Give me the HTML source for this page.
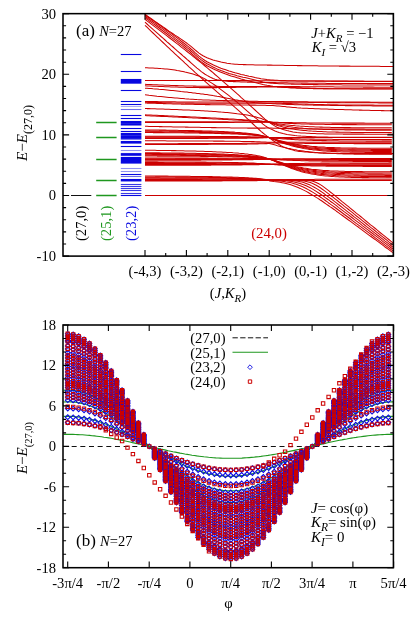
<!DOCTYPE html>
<html><head><meta charset="utf-8"><title>figure</title>
<style>html,body{margin:0;padding:0;background:#fff;}body{width:415px;height:625px;position:relative;overflow:hidden;font-family:"Liberation Serif",serif;}</style></head>
<body>
<svg width="415" height="625" viewBox="0 0 415 625" style="position:absolute;left:0;top:0;display:block;will-change:transform" font-family='"Liberation Serif", serif'>
<rect x="0" y="0" width="415" height="625" fill="#fff"/>
<defs><clipPath id="ct"><rect x="63.0" y="13.65" width="330.4" height="242.45000000000002"/></clipPath><clipPath id="cb"><rect x="63" y="324" width="331" height="244"/></clipPath></defs>
<g clip-path="url(#ct)" stroke-linejoin="round">
<path d="M145 14.3 L147 15.7 L149 17.1 L151 18.5 L153 19.9 L155 21.4 L157 22.7 L159 24.1 L161 25.5 L163 26.9 L165 28.3 L167 29.7 L169 31.1 L171 32.4 L173 33.7 L175 35.1 L177 36.4 L179 37.8 L181 39.1 L183 40.5 L185 41.9 L187 43.3 L189 44.8 L191 46.4 L193 48.1 L195 49.8 L197 51.5 L199 53.1 L201 54.5 L203 55.8 L205 56.8 L207 57.7 L209 58.5 L211 59.2 L213 59.9 L215 60.5 L217 61 L219 61.5 L221 62 L223 62.4 L225 62.8 L227 63.2 L229 63.5 L231 63.8 L233 64 L235 64.2 L237 64.3 L239 64.4 L241 64.5 L243 64.6 L245 64.6 L247 64.7 L249 64.7 L251 64.8 L253 64.8 L255 64.9 L257 64.9 L259 64.9 L261 65 L263 65 L265 65 L267 65.1 L269 65.1 L271 65.1 L273 65.2 L275 65.2 L277 65.2 L279 65.3 L281 65.3 L283 65.3 L285 65.4 L287 65.4 L289 65.4 L291 65.5 L293 65.5 L295 65.5 L297 65.6 L299 65.6 L301 65.6 L303 65.7 L305 65.7 L307 65.7 L309 65.7 L311 65.8 L313 65.8 L315 65.8 L317 65.8 L319 65.9 L321 65.9 L323 65.9 L325 65.9 L327 65.9 L329 66 L331 66 L333 66 L335 66 L337 66 L339 66.1 L341 66.1 L343 66.1 L345 66.1 L347 66.1 L349 66.1 L351 66.2 L353 66.2 L355 66.2 L357 66.2 L359 66.2 L361 66.2 L363 66.2 L365 66.3 L367 66.3 L369 66.3 L371 66.3 L373 66.3 L375 66.3 L377 66.3 L379 66.3 L381 66.4 L383 66.4 L385 66.4 L387 66.4 L389 66.4 L391 66.4 L393 66.4" fill="none" stroke="#cc0000" stroke-width="1.05" />
<path d="M145 15.2 L147 16.5 L149 17.8 L151 19.2 L153 20.5 L155 21.9 L157 23.3 L159 24.7 L161 26.1 L163 27.6 L165 29 L167 30.5 L169 31.9 L171 33.4 L173 34.9 L175 36.4 L177 37.9 L179 39.4 L181 41 L183 42.5 L185 44 L187 45.6 L189 47.2 L191 49 L193 50.7 L195 52.6 L197 54.4 L199 56.1 L201 57.7 L203 59.2 L205 60.5 L207 61.7 L209 62.8 L211 63.8 L213 64.8 L215 65.7 L217 66.6 L219 67.4 L221 68.2 L223 68.9 L225 69.6 L227 70.3 L229 71 L231 71.6 L233 72.2 L235 72.8 L237 73.3 L239 73.8 L241 74.4 L243 74.8 L245 75.3 L247 75.7 L249 76.2 L251 76.6 L253 77 L255 77.5 L257 77.9 L259 78.3 L261 78.7 L263 79 L265 79.3 L267 79.6 L269 79.8 L271 80 L273 80.1 L275 80.2 L277 80.3 L279 80.4 L281 80.5 L283 80.5 L285 80.6 L287 80.7 L289 80.7 L291 80.8 L293 80.8 L295 80.8 L297 80.9 L299 80.9 L301 80.9 L303 80.9 L305 81 L307 81 L309 81 L311 81 L313 81 L315 81.1 L317 81.1 L319 81.1 L321 81.1 L323 81.1 L325 81.2 L327 81.2 L329 81.2 L331 81.2 L333 81.2 L335 81.3 L337 81.3 L339 81.3 L341 81.3 L343 81.3 L345 81.3 L347 81.3 L349 81.4 L351 81.4 L353 81.4 L355 81.4 L357 81.4 L359 81.4 L361 81.4 L363 81.4 L365 81.4 L367 81.4 L369 81.5 L371 81.5 L373 81.5 L375 81.5 L377 81.5 L379 81.5 L381 81.5 L383 81.5 L385 81.5 L387 81.5 L389 81.5 L391 81.5 L393 81.5" fill="none" stroke="#cc0000" stroke-width="1.05" />
<path d="M145 16.4 L147 17.8 L149 19.2 L151 20.6 L153 22 L155 23.4 L157 24.8 L159 26.3 L161 27.7 L163 29.2 L165 30.7 L167 32.2 L169 33.7 L171 35.2 L173 36.7 L175 38.3 L177 39.8 L179 41.3 L181 42.9 L183 44.5 L185 46 L187 47.6 L189 49.2 L191 51 L193 52.7 L195 54.6 L197 56.3 L199 58.1 L201 59.7 L203 61.2 L205 62.5 L207 63.7 L209 64.8 L211 65.9 L213 67 L215 67.9 L217 68.9 L219 69.8 L221 70.6 L223 71.3 L225 72.1 L227 72.7 L229 73.4 L231 74 L233 74.6 L235 75.1 L237 75.7 L239 76.2 L241 76.7 L243 77.2 L245 77.6 L247 78.1 L249 78.6 L251 79.1 L253 79.6 L255 80.1 L257 80.6 L259 81.1 L261 81.5 L263 82 L265 82.4 L267 82.7 L269 83 L271 83.2 L273 83.3 L275 83.5 L277 83.6 L279 83.7 L281 83.7 L283 83.8 L285 83.9 L287 84 L289 84 L291 84.1 L293 84.1 L295 84.2 L297 84.2 L299 84.3 L301 84.3 L303 84.4 L305 84.4 L307 84.4 L309 84.5 L311 84.5 L313 84.6 L315 84.6 L317 84.6 L319 84.7 L321 84.7 L323 84.7 L325 84.7 L327 84.8 L329 84.8 L331 84.8 L333 84.8 L335 84.8 L337 84.8 L339 84.8 L341 84.8 L343 84.9 L345 84.9 L347 84.9 L349 84.9 L351 84.9 L353 84.9 L355 84.9 L357 84.9 L359 84.9 L361 84.9 L363 84.9 L365 85 L367 85 L369 85 L371 85 L373 85 L375 85 L377 85 L379 85 L381 85 L383 85 L385 85 L387 85 L389 85 L391 85 L393 85" fill="none" stroke="#cc0000" stroke-width="1.05" />
<path d="M145 17.8 L147 19.2 L149 20.7 L151 22.1 L153 23.6 L155 25 L157 26.5 L159 28 L161 29.5 L163 31 L165 32.5 L167 34 L169 35.5 L171 37.1 L173 38.6 L175 40.2 L177 41.7 L179 43.3 L181 44.9 L183 46.4 L185 48 L187 49.6 L189 51.2 L191 53 L193 54.8 L195 56.6 L197 58.4 L199 60.1 L201 61.7 L203 63.2 L205 64.5 L207 65.7 L209 66.8 L211 67.8 L213 68.8 L215 69.7 L217 70.6 L219 71.4 L221 72.2 L223 73 L225 73.8 L227 74.5 L229 75.2 L231 75.9 L233 76.5 L235 77.1 L237 77.7 L239 78.3 L241 78.9 L243 79.4 L245 80 L247 80.5 L249 81 L251 81.5 L253 82 L255 82.6 L257 83.1 L259 83.6 L261 84 L263 84.5 L265 84.9 L267 85.3 L269 85.6 L271 85.9 L273 86.2 L275 86.4 L277 86.6 L279 86.8 L281 87 L283 87.2 L285 87.4 L287 87.6 L289 87.7 L291 87.9 L293 88 L295 88.1 L297 88.2 L299 88.3 L301 88.3 L303 88.4 L305 88.4 L307 88.5 L309 88.5 L311 88.5 L313 88.6 L315 88.6 L317 88.7 L319 88.7 L321 88.7 L323 88.7 L325 88.7 L327 88.8 L329 88.8 L331 88.8 L333 88.8 L335 88.8 L337 88.8 L339 88.8 L341 88.8 L343 88.8 L345 88.8 L347 88.8 L349 88.8 L351 88.9 L353 88.9 L355 88.9 L357 88.9 L359 88.9 L361 88.9 L363 88.9 L365 88.9 L367 88.9 L369 88.9 L371 88.9 L373 88.9 L375 88.9 L377 88.9 L379 88.9 L381 88.9 L383 88.9 L385 88.9 L387 88.9 L389 88.9 L391 88.9 L393 88.9" fill="none" stroke="#cc0000" stroke-width="1.05" />
<path d="M145 19.3 L147 20.8 L149 22.3 L151 23.8 L153 25.3 L155 26.8 L157 28.3 L159 29.8 L161 31.3 L163 32.8 L165 34.4 L167 35.9 L169 37.5 L171 39 L173 40.5 L175 42.1 L177 43.7 L179 45.2 L181 46.8 L183 48.4 L185 49.9 L187 51.5 L189 53.1 L191 54.7 L193 56.3 L195 57.9 L197 59.5 L199 61.1 L201 62.7 L203 64.3 L205 66 L207 67.7 L209 69.3 L211 71 L213 72.7 L215 74.5 L217 76.2 L219 77.9 L221 79.6 L223 81.4 L225 83.1 L227 84.8 L229 86.6 L231 88.4 L233 90.1 L235 91.9 L237 93.7 L239 95.4 L241 97.3 L243 99.1 L245 100.9 L247 102.7 L249 104.6 L251 106.4 L253 108.2 L255 110 L257 111.8 L259 113.7 L261 115.5 L263 117.3 L265 119.1 L267 120.7 L269 122.1 L271 123.5 L273 124.9 L275 126.1 L277 127.2 L279 128.1 L281 128.8 L283 129.4 L285 130 L287 130.6 L289 131.1 L291 131.5 L293 131.9 L295 132.2 L297 132.5 L299 132.7 L301 132.9 L303 133 L305 133.1 L307 133.2 L309 133.3 L311 133.4 L313 133.5 L315 133.6 L317 133.7 L319 133.7 L321 133.8 L323 133.8 L325 133.9 L327 133.9 L329 134 L331 134 L333 134 L335 134 L337 134 L339 134 L341 134 L343 134.1 L345 134.1 L347 134.1 L349 134.1 L351 134.1 L353 134.1 L355 134.1 L357 134.1 L359 134.1 L361 134.1 L363 134.1 L365 134.2 L367 134.2 L369 134.2 L371 134.2 L373 134.2 L375 134.2 L377 134.2 L379 134.2 L381 134.2 L383 134.2 L385 134.2 L387 134.2 L389 134.2 L391 134.2 L393 134.2" fill="none" stroke="#cc0000" stroke-width="1.05" />
<path d="M145 22.2 L147 24 L149 25.8 L151 27.6 L153 29.4 L155 31.1 L157 32.9 L159 34.7 L161 36.5 L163 38.2 L165 40 L167 41.8 L169 43.5 L171 45.3 L173 47 L175 48.8 L177 50.6 L179 52.3 L181 54 L183 55.8 L185 57.5 L187 59.3 L189 61 L191 62.8 L193 64.6 L195 66.4 L197 68.1 L199 69.7 L201 71.3 L203 72.8 L205 74.2 L207 75.4 L209 76.5 L211 77.6 L213 78.5 L215 79.2 L217 79.7 L219 80.1 L221 80.5 L223 80.8 L225 81.1 L227 81.2 L229 81.4 L231 81.5 L233 81.6 L235 81.6 L237 81.7 L239 81.8 L241 81.9 L243 81.9 L245 82 L247 82.1 L249 82.1 L251 82.1 L253 82.2 L255 82.2 L257 82.3 L259 82.3 L261 82.4 L263 82.4 L265 82.4 L267 82.5 L269 82.5 L271 82.5 L273 82.6 L275 82.6 L277 82.7 L279 82.7 L281 82.7 L283 82.8 L285 82.8 L287 82.8 L289 82.9 L291 82.9 L293 82.9 L295 83 L297 83 L299 83 L301 83.1 L303 83.1 L305 83.1 L307 83.1 L309 83.2 L311 83.2 L313 83.2 L315 83.2 L317 83.3 L319 83.3 L321 83.3 L323 83.3 L325 83.3 L327 83.4 L329 83.4 L331 83.4 L333 83.4 L335 83.4 L337 83.4 L339 83.4 L341 83.4 L343 83.5 L345 83.5 L347 83.5 L349 83.5 L351 83.5 L353 83.5 L355 83.5 L357 83.5 L359 83.5 L361 83.5 L363 83.5 L365 83.5 L367 83.6 L369 83.6 L371 83.6 L373 83.6 L375 83.6 L377 83.6 L379 83.6 L381 83.6 L383 83.6 L385 83.6 L387 83.6 L389 83.6 L391 83.6 L393 83.6" fill="none" stroke="#cc0000" stroke-width="1.05" />
<path d="M145 67.8 L147 67.8 L149 67.9 L151 67.9 L153 68 L155 68.2 L157 68.3 L159 68.4 L161 68.6 L163 68.7 L165 68.9 L167 69.1 L169 69.3 L171 69.5 L173 69.8 L175 70.1 L177 70.5 L179 70.8 L181 71.2 L183 71.6 L185 72.1 L187 72.5 L189 73 L191 73.5 L193 74.1 L195 74.7 L197 75.4 L199 76.1 L201 76.9 L203 77.9 L205 79 L207 80.2 L209 81.4 L211 82.6 L213 83.9 L215 85.3 L217 86.7 L219 88.1 L221 89.6 L223 91.1 L225 92.6 L227 94.1 L229 95.7 L231 97.3 L233 98.9 L235 100.5 L237 102.2 L239 103.9 L241 105.7 L243 107.4 L245 109.1 L247 110.9 L249 112.6 L251 114.3 L253 116 L255 117.6 L257 119.2 L259 120.8 L261 122.4 L263 124.1 L265 125.6 L267 127 L269 128.1 L271 129.1 L273 130 L275 130.9 L277 131.7 L279 132.4 L281 133 L283 133.6 L285 134 L287 134.4 L289 134.7 L291 135 L293 135.3 L295 135.6 L297 135.8 L299 135.9 L301 136.1 L303 136.2 L305 136.3 L307 136.4 L309 136.5 L311 136.6 L313 136.7 L315 136.8 L317 136.9 L319 136.9 L321 137 L323 137 L325 137.1 L327 137.1 L329 137.2 L331 137.2 L333 137.2 L335 137.2 L337 137.2 L339 137.2 L341 137.2 L343 137.2 L345 137.2 L347 137.2 L349 137.2 L351 137.3 L353 137.3 L355 137.3 L357 137.3 L359 137.3 L361 137.3 L363 137.3 L365 137.3 L367 137.3 L369 137.3 L371 137.3 L373 137.3 L375 137.3 L377 137.3 L379 137.3 L381 137.3 L383 137.3 L385 137.3 L387 137.3 L389 137.3 L391 137.3 L393 137.3" fill="none" stroke="#cc0000" stroke-width="1.05" />
<path d="M145 25.3 L147 27.2 L149 29.2 L151 31.1 L153 33 L155 34.9 L157 36.8 L159 38.7 L161 40.6 L163 42.5 L165 44.4 L167 46.3 L169 48.2 L171 50.1 L173 51.9 L175 53.8 L177 55.7 L179 57.5 L181 59.4 L183 61.2 L185 63.1 L187 64.9 L189 66.8 L191 68.6 L193 70.4 L195 72.3 L197 74.1 L199 75.9 L201 77.7 L203 79.5 L205 81.3 L207 83.1 L209 84.9 L211 86.6 L213 88.4 L215 90.1 L217 91.9 L219 93.6 L221 95.3 L223 97 L225 98.7 L227 100.5 L229 102.2 L231 103.9 L233 105.6 L235 107.4 L237 109.1 L239 110.9 L241 112.7 L243 114.5 L245 116.4 L247 118.3 L249 120.2 L251 122.1 L253 124 L255 125.9 L257 127.7 L259 129.5 L261 131.3 L263 133 L265 134.6 L267 136.2 L269 137.6 L271 139.1 L273 140.5 L275 141.9 L277 143.3 L279 144.5 L281 145.7 L283 146.7 L285 147.5 L287 148.2 L289 148.9 L291 149.6 L293 150.1 L295 150.7 L297 151.1 L299 151.4 L301 151.6 L303 151.8 L305 152 L307 152.1 L309 152.3 L311 152.4 L313 152.6 L315 152.7 L317 152.8 L319 152.9 L321 153 L323 153.1 L325 153.1 L327 153.2 L329 153.2 L331 153.3 L333 153.3 L335 153.3 L337 153.3 L339 153.4 L341 153.4 L343 153.4 L345 153.4 L347 153.4 L349 153.4 L351 153.5 L353 153.5 L355 153.5 L357 153.5 L359 153.5 L361 153.5 L363 153.5 L365 153.5 L367 153.5 L369 153.6 L371 153.6 L373 153.6 L375 153.6 L377 153.6 L379 153.6 L381 153.6 L383 153.6 L385 153.6 L387 153.6 L389 153.6 L391 153.6 L393 153.6" fill="none" stroke="#cc0000" stroke-width="1.05" />
<path d="M145 80.4 L147 80.4 L149 80.4 L151 80.4 L153 80.4 L155 80.4 L157 80.4 L159 80.4 L161 80.4 L163 80.4 L165 80.4 L167 80.4 L169 80.4 L171 80.4 L173 80.4 L175 80.4 L177 80.4 L179 80.4 L181 80.4 L183 80.4 L185 80.4 L187 80.4 L189 80.4 L191 80.4 L193 80.4 L195 80.4 L197 80.4 L199 80.4 L201 80.4 L203 80.4 L205 80.4 L207 80.4 L209 80.4 L211 80.4 L213 80.4 L215 80.4 L217 80.4 L219 80.4 L221 80.4 L223 80.4 L225 80.5 L227 80.5 L229 80.5 L231 80.5 L233 80.5 L235 80.5 L237 80.6 L239 80.6 L241 80.6 L243 80.6 L245 80.6 L247 80.6 L249 80.7 L251 80.7 L253 80.7 L255 80.7 L257 80.7 L259 80.7 L261 80.8 L263 80.8 L265 80.8 L267 80.8 L269 80.8 L271 80.8 L273 80.8 L275 80.8 L277 80.8 L279 80.8 L281 80.9 L283 80.9 L285 80.9 L287 80.9 L289 80.9 L291 80.9 L293 80.9 L295 80.9 L297 80.9 L299 80.9 L301 80.9 L303 80.9 L305 81 L307 81 L309 81 L311 81 L313 81 L315 81 L317 81 L319 81 L321 81 L323 81 L325 81 L327 81 L329 81 L331 81.1 L333 81.1 L335 81.1 L337 81.1 L339 81.1 L341 81.1 L343 81.1 L345 81.1 L347 81.1 L349 81.1 L351 81.1 L353 81.1 L355 81.1 L357 81.1 L359 81.1 L361 81.1 L363 81.1 L365 81.2 L367 81.2 L369 81.2 L371 81.2 L373 81.2 L375 81.2 L377 81.2 L379 81.2 L381 81.2 L383 81.2 L385 81.2 L387 81.2 L389 81.2 L391 81.2 L393 81.2" fill="none" stroke="#cc0000" stroke-width="1.05" />
<path d="M145 84.3 L147 84.4 L149 84.5 L151 84.6 L153 84.7 L155 84.8 L157 84.8 L159 84.9 L161 85 L163 85.1 L165 85.2 L167 85.3 L169 85.3 L171 85.4 L173 85.5 L175 85.6 L177 85.6 L179 85.7 L181 85.8 L183 85.8 L185 85.9 L187 85.9 L189 86 L191 86 L193 86.1 L195 86.1 L197 86.2 L199 86.2 L201 86.2 L203 86.3 L205 86.3 L207 86.3 L209 86.3 L211 86.3 L213 86.3 L215 86.3 L217 86.3 L219 86.4 L221 86.4 L223 86.4 L225 86.4 L227 86.4 L229 86.4 L231 86.4 L233 86.4 L235 86.4 L237 86.4 L239 86.4 L241 86.4 L243 86.4 L245 86.4 L247 86.4 L249 86.4 L251 86.4 L253 86.4 L255 86.5 L257 86.5 L259 86.5 L261 86.5 L263 86.5 L265 86.5 L267 86.5 L269 86.5 L271 86.5 L273 86.5 L275 86.5 L277 86.5 L279 86.5 L281 86.6 L283 86.6 L285 86.6 L287 86.6 L289 86.6 L291 86.6 L293 86.6 L295 86.6 L297 86.6 L299 86.6 L301 86.7 L303 86.7 L305 86.7 L307 86.7 L309 86.7 L311 86.7 L313 86.7 L315 86.7 L317 86.7 L319 86.8 L321 86.8 L323 86.8 L325 86.8 L327 86.8 L329 86.8 L331 86.8 L333 86.8 L335 86.9 L337 86.9 L339 86.9 L341 86.9 L343 86.9 L345 86.9 L347 86.9 L349 87 L351 87 L353 87 L355 87 L357 87 L359 87 L361 87 L363 87.1 L365 87.1 L367 87.1 L369 87.1 L371 87.1 L373 87.1 L375 87.2 L377 87.2 L379 87.2 L381 87.2 L383 87.2 L385 87.2 L387 87.2 L389 87.3 L391 87.3 L393 87.3" fill="none" stroke="#cc0000" stroke-width="1.05" />
<path d="M145 85.8 L147 85.9 L149 86 L151 86.1 L153 86.2 L155 86.3 L157 86.3 L159 86.4 L161 86.5 L163 86.6 L165 86.7 L167 86.8 L169 86.8 L171 86.9 L173 87 L175 87 L177 87.1 L179 87.2 L181 87.2 L183 87.3 L185 87.3 L187 87.4 L189 87.4 L191 87.4 L193 87.5 L195 87.5 L197 87.5 L199 87.6 L201 87.6 L203 87.6 L205 87.6 L207 87.6 L209 87.6 L211 87.6 L213 87.6 L215 87.6 L217 87.6 L219 87.5 L221 87.5 L223 87.5 L225 87.5 L227 87.5 L229 87.4 L231 87.4 L233 87.4 L235 87.4 L237 87.3 L239 87.3 L241 87.3 L243 87.2 L245 87.2 L247 87.2 L249 87.1 L251 87.1 L253 87.1 L255 87.1 L257 87.1 L259 87 L261 87 L263 87 L265 87 L267 87 L269 87 L271 87 L273 87 L275 87 L277 87.1 L279 87.1 L281 87.2 L283 87.2 L285 87.3 L287 87.3 L289 87.4 L291 87.5 L293 87.5 L295 87.6 L297 87.7 L299 87.8 L301 87.8 L303 87.9 L305 88 L307 88.1 L309 88.1 L311 88.2 L313 88.3 L315 88.3 L317 88.4 L319 88.5 L321 88.5 L323 88.6 L325 88.6 L327 88.6 L329 88.7 L331 88.7 L333 88.7 L335 88.7 L337 88.7 L339 88.7 L341 88.7 L343 88.7 L345 88.7 L347 88.7 L349 88.7 L351 88.7 L353 88.8 L355 88.8 L357 88.8 L359 88.8 L361 88.8 L363 88.8 L365 88.8 L367 88.8 L369 88.8 L371 88.8 L373 88.8 L375 88.8 L377 88.8 L379 88.8 L381 88.8 L383 88.8 L385 88.8 L387 88.8 L389 88.8 L391 88.8 L393 88.8" fill="none" stroke="#cc0000" stroke-width="1.05" />
<path d="M145 88.2 L147 88.3 L149 88.5 L151 88.6 L153 88.8 L155 88.9 L157 89.1 L159 89.3 L161 89.4 L163 89.6 L165 89.8 L167 90 L169 90.2 L171 90.4 L173 90.6 L175 90.8 L177 91 L179 91.2 L181 91.5 L183 91.7 L185 91.9 L187 92.1 L189 92.4 L191 92.6 L193 92.9 L195 93.1 L197 93.4 L199 93.6 L201 93.9 L203 94.1 L205 94.4 L207 94.6 L209 94.9 L211 95.2 L213 95.6 L215 95.9 L217 96.3 L219 96.6 L221 97 L223 97.4 L225 97.8 L227 98.2 L229 98.6 L231 99 L233 99.4 L235 99.8 L237 100.1 L239 100.5 L241 100.8 L243 101.2 L245 101.5 L247 101.7 L249 102 L251 102.2 L253 102.4 L255 102.6 L257 102.7 L259 102.9 L261 103 L263 103.2 L265 103.3 L267 103.4 L269 103.5 L271 103.6 L273 103.7 L275 103.8 L277 103.9 L279 104 L281 104.1 L283 104.2 L285 104.3 L287 104.4 L289 104.4 L291 104.5 L293 104.6 L295 104.7 L297 104.7 L299 104.8 L301 104.8 L303 104.9 L305 104.9 L307 105 L309 105 L311 105 L313 105.1 L315 105.1 L317 105.2 L319 105.2 L321 105.2 L323 105.3 L325 105.3 L327 105.3 L329 105.3 L331 105.4 L333 105.4 L335 105.4 L337 105.5 L339 105.5 L341 105.5 L343 105.5 L345 105.6 L347 105.6 L349 105.6 L351 105.6 L353 105.7 L355 105.7 L357 105.7 L359 105.7 L361 105.7 L363 105.8 L365 105.8 L367 105.8 L369 105.8 L371 105.8 L373 105.9 L375 105.9 L377 105.9 L379 105.9 L381 105.9 L383 105.9 L385 106 L387 106 L389 106 L391 106 L393 106" fill="none" stroke="#cc0000" stroke-width="1.05" />
<path d="M145 94.8 L147 95 L149 95.3 L151 95.5 L153 95.7 L155 95.9 L157 96.2 L159 96.4 L161 96.6 L163 96.8 L165 97 L167 97.2 L169 97.4 L171 97.6 L173 97.8 L175 98 L177 98.1 L179 98.3 L181 98.5 L183 98.6 L185 98.8 L187 98.9 L189 99.1 L191 99.2 L193 99.3 L195 99.4 L197 99.6 L199 99.7 L201 99.8 L203 99.9 L205 100 L207 100 L209 100.1 L211 100.2 L213 100.3 L215 100.3 L217 100.4 L219 100.5 L221 100.5 L223 100.6 L225 100.6 L227 100.7 L229 100.7 L231 100.8 L233 100.8 L235 100.9 L237 100.9 L239 101 L241 101 L243 101.1 L245 101.1 L247 101.1 L249 101.2 L251 101.2 L253 101.3 L255 101.3 L257 101.3 L259 101.4 L261 101.4 L263 101.4 L265 101.5 L267 101.5 L269 101.5 L271 101.5 L273 101.5 L275 101.6 L277 101.6 L279 101.6 L281 101.6 L283 101.6 L285 101.7 L287 101.7 L289 101.7 L291 101.7 L293 101.7 L295 101.8 L297 101.8 L299 101.8 L301 101.8 L303 101.8 L305 101.8 L307 101.8 L309 101.9 L311 101.9 L313 101.9 L315 101.9 L317 101.9 L319 101.9 L321 101.9 L323 101.9 L325 102 L327 102 L329 102 L331 102 L333 102 L335 102 L337 102 L339 102 L341 102 L343 102 L345 102.1 L347 102.1 L349 102.1 L351 102.1 L353 102.1 L355 102.1 L357 102.1 L359 102.1 L361 102.1 L363 102.1 L365 102.1 L367 102.1 L369 102.1 L371 102.2 L373 102.2 L375 102.2 L377 102.2 L379 102.2 L381 102.2 L383 102.2 L385 102.2 L387 102.2 L389 102.2 L391 102.2 L393 102.2" fill="none" stroke="#cc0000" stroke-width="1.05" />
<path d="M145 101.5 L147 101.5 L149 101.5 L151 101.6 L153 101.6 L155 101.6 L157 101.6 L159 101.7 L161 101.7 L163 101.7 L165 101.7 L167 101.8 L169 101.8 L171 101.8 L173 101.8 L175 101.8 L177 101.9 L179 101.9 L181 101.9 L183 101.9 L185 101.9 L187 101.9 L189 101.9 L191 102 L193 102 L195 102 L197 102 L199 102 L201 102 L203 102 L205 102 L207 102 L209 102 L211 102 L213 102 L215 102 L217 102 L219 102 L221 102 L223 102 L225 102 L227 102 L229 102 L231 102 L233 102 L235 102 L237 102 L239 102 L241 102 L243 102 L245 102 L247 102 L249 102 L251 102 L253 102 L255 102 L257 102 L259 102 L261 102 L263 102 L265 102 L267 102 L269 102 L271 102 L273 102 L275 102 L277 102 L279 102 L281 102 L283 102.1 L285 102.1 L287 102.1 L289 102.1 L291 102.1 L293 102.2 L295 102.2 L297 102.2 L299 102.2 L301 102.2 L303 102.3 L305 102.3 L307 102.3 L309 102.4 L311 102.4 L313 102.4 L315 102.4 L317 102.4 L319 102.5 L321 102.5 L323 102.5 L325 102.5 L327 102.6 L329 102.6 L331 102.6 L333 102.6 L335 102.6 L337 102.6 L339 102.6 L341 102.7 L343 102.7 L345 102.7 L347 102.7 L349 102.7 L351 102.7 L353 102.7 L355 102.7 L357 102.7 L359 102.8 L361 102.8 L363 102.8 L365 102.8 L367 102.8 L369 102.8 L371 102.8 L373 102.8 L375 102.8 L377 102.8 L379 102.9 L381 102.9 L383 102.9 L385 102.9 L387 102.9 L389 102.9 L391 102.9 L393 102.9" fill="none" stroke="#cc0000" stroke-width="1.05" />
<path d="M145 102.3 L147 102.3 L149 102.4 L151 102.4 L153 102.5 L155 102.5 L157 102.6 L159 102.6 L161 102.6 L163 102.7 L165 102.7 L167 102.8 L169 102.8 L171 102.8 L173 102.9 L175 102.9 L177 102.9 L179 103 L181 103 L183 103 L185 103.1 L187 103.1 L189 103.1 L191 103.1 L193 103.1 L195 103.2 L197 103.2 L199 103.2 L201 103.2 L203 103.2 L205 103.2 L207 103.2 L209 103.2 L211 103.2 L213 103.2 L215 103.2 L217 103.2 L219 103.2 L221 103.2 L223 103.2 L225 103.2 L227 103.2 L229 103.2 L231 103.2 L233 103.2 L235 103.2 L237 103.2 L239 103.2 L241 103.2 L243 103.2 L245 103.2 L247 103.2 L249 103.2 L251 103.2 L253 103.2 L255 103.2 L257 103.2 L259 103.2 L261 103.2 L263 103.2 L265 103.2 L267 103.2 L269 103.2 L271 103.2 L273 103.2 L275 103.2 L277 103.3 L279 103.3 L281 103.3 L283 103.4 L285 103.4 L287 103.5 L289 103.5 L291 103.6 L293 103.7 L295 103.7 L297 103.8 L299 103.9 L301 103.9 L303 104 L305 104.1 L307 104.1 L309 104.2 L311 104.3 L313 104.3 L315 104.4 L317 104.5 L319 104.5 L321 104.6 L323 104.6 L325 104.7 L327 104.7 L329 104.7 L331 104.8 L333 104.8 L335 104.8 L337 104.8 L339 104.9 L341 104.9 L343 104.9 L345 104.9 L347 104.9 L349 105 L351 105 L353 105 L355 105 L357 105 L359 105 L361 105.1 L363 105.1 L365 105.1 L367 105.1 L369 105.1 L371 105.1 L373 105.1 L375 105.2 L377 105.2 L379 105.2 L381 105.2 L383 105.2 L385 105.2 L387 105.2 L389 105.2 L391 105.2 L393 105.2" fill="none" stroke="#cc0000" stroke-width="1.05" />
<path d="M145 103 L147 103.1 L149 103.1 L151 103.2 L153 103.3 L155 103.3 L157 103.4 L159 103.4 L161 103.5 L163 103.6 L165 103.6 L167 103.7 L169 103.7 L171 103.8 L173 103.9 L175 103.9 L177 104 L179 104 L181 104.1 L183 104.1 L185 104.2 L187 104.2 L189 104.3 L191 104.3 L193 104.3 L195 104.4 L197 104.4 L199 104.5 L201 104.5 L203 104.5 L205 104.6 L207 104.6 L209 104.6 L211 104.7 L213 104.7 L215 104.7 L217 104.8 L219 104.8 L221 104.8 L223 104.8 L225 104.8 L227 104.9 L229 104.9 L231 104.9 L233 104.9 L235 104.9 L237 104.9 L239 105 L241 105 L243 105 L245 105 L247 105 L249 105.1 L251 105.1 L253 105.1 L255 105.1 L257 105.2 L259 105.2 L261 105.2 L263 105.3 L265 105.3 L267 105.4 L269 105.4 L271 105.5 L273 105.6 L275 105.7 L277 105.9 L279 106 L281 106.2 L283 106.4 L285 106.6 L287 106.9 L289 107.1 L291 107.3 L293 107.5 L295 107.6 L297 107.8 L299 107.9 L301 108.1 L303 108.2 L305 108.3 L307 108.3 L309 108.4 L311 108.5 L313 108.6 L315 108.7 L317 108.8 L319 108.8 L321 108.9 L323 109 L325 109 L327 109.1 L329 109.2 L331 109.2 L333 109.3 L335 109.4 L337 109.4 L339 109.5 L341 109.5 L343 109.6 L345 109.7 L347 109.7 L349 109.8 L351 109.8 L353 109.9 L355 110 L357 110 L359 110.1 L361 110.1 L363 110.2 L365 110.2 L367 110.3 L369 110.3 L371 110.4 L373 110.4 L375 110.5 L377 110.5 L379 110.5 L381 110.6 L383 110.6 L385 110.7 L387 110.7 L389 110.7 L391 110.8 L393 110.8" fill="none" stroke="#cc0000" stroke-width="1.05" />
<path d="M145 108.5 L147 108.6 L149 108.6 L151 108.7 L153 108.7 L155 108.8 L157 108.9 L159 108.9 L161.1 109 L163.1 109.1 L165.1 109.2 L167.1 109.2 L169.1 109.3 L171.1 109.4 L173.1 109.4 L175.1 109.5 L177.1 109.6 L179.1 109.7 L181.1 109.8 L183.1 109.9 L185.1 109.9 L187.1 110 L189.1 110.1 L191.1 110.2 L193.2 110.3 L195.2 110.4 L197.2 110.5 L199.2 110.6 L201.2 110.7 L203.2 110.8 L205.2 111 L207.2 111.1 L209.2 111.2 L211.2 111.3 L213.2 111.5 L215.2 111.6 L217.2 111.7 L219.2 111.9 L221.2 112.1 L223.3 112.2 L225.3 112.4 L227.3 112.6 L229.3 112.8 L231.3 113 L233.3 113.2 L235.3 113.4 L237.3 113.7 L239.3 113.9 L241.3 114.2 L243.3 114.5 L245.3 114.8 L247.3 115.1 L249.3 115.5 L251.3 115.9 L253.4 116.4 L255.4 116.8 L257.4 117.4 L259.4 118 L261.4 118.6 L263.4 119.4 L265.4 120.2 L267.4 121.2 L269.4 122.3 L271.4 123.2 L273.4 124 L275.4 124.8 L277.4 125.4 L279.4 126.1 L281.4 126.6 L283.4 127.2 L285.5 127.6 L287.5 128.1 L289.5 128.5 L291.5 128.8 L293.5 129.1 L295.5 129.4 L297.5 129.7 L299.5 130 L301.5 130.2 L303.5 130.4 L305.5 130.6 L307.5 130.8 L309.5 130.9 L311.5 131.1 L313.5 131.2 L315.6 131.3 L317.6 131.4 L319.6 131.5 L321.6 131.6 L323.6 131.7 L325.6 131.8 L327.6 131.9 L329.6 131.9 L331.6 132 L333.6 132 L335.6 132.1 L337.6 132.1 L339.6 132.2 L341.6 132.2 L343.6 132.2 L345.7 132.3 L347.7 132.3 L349.7 132.3 L351.7 132.4 L353.7 132.4 L355.7 132.4 L357.7 132.4 L359.7 132.4 L361.7 132.4 L363.7 132.5 L365.7 132.5 L367.7 132.5 L369.7 132.5 L371.7 132.5 L373.7 132.5 L375.7 132.5 L377.8 132.5 L379.8 132.5 L381.8 132.5 L383.8 132.5 L385.8 132.5 L387.8 132.6 L389.8 132.6 L391.8 132.6" fill="none" stroke="#cc0000" stroke-width="1.05" />
<path d="M145 114.8 L147 114.9 L149 115 L151 115.1 L153 115.2 L155 115.3 L157 115.3 L159 115.4 L161.1 115.5 L163.1 115.6 L165.1 115.7 L167.1 115.8 L169.1 115.9 L171.1 116 L173.1 116.1 L175.1 116.2 L177.1 116.3 L179.1 116.4 L181.1 116.5 L183.1 116.6 L185.1 116.6 L187.1 116.7 L189.1 116.8 L191.1 116.9 L193.2 117 L195.2 117.1 L197.2 117.2 L199.2 117.3 L201.2 117.4 L203.2 117.5 L205.2 117.6 L207.2 117.7 L209.2 117.8 L211.2 117.9 L213.2 118 L215.2 118.1 L217.2 118.2 L219.2 118.3 L221.2 118.4 L223.3 118.6 L225.3 118.7 L227.3 118.8 L229.3 118.9 L231.3 119 L233.3 119.1 L235.3 119.2 L237.3 119.4 L239.3 119.5 L241.3 119.6 L243.3 119.7 L245.3 119.9 L247.3 120 L249.3 120.1 L251.3 120.3 L253.4 120.4 L255.4 120.6 L257.4 120.8 L259.4 121 L261.4 121.1 L263.4 121.4 L265.4 121.6 L267.4 121.8 L269.4 122.1 L271.4 122.8 L273.4 123.4 L275.4 124 L277.4 124.5 L279.4 124.9 L281.4 125.4 L283.4 125.7 L285.5 126.1 L287.5 126.4 L289.5 126.7 L291.5 127 L293.5 127.3 L295.5 127.5 L297.5 127.7 L299.5 127.9 L301.5 128.1 L303.5 128.3 L305.5 128.4 L307.5 128.6 L309.5 128.7 L311.5 128.8 L313.5 128.9 L315.6 129 L317.6 129.1 L319.6 129.2 L321.6 129.3 L323.6 129.4 L325.6 129.4 L327.6 129.5 L329.6 129.5 L331.6 129.6 L333.6 129.6 L335.6 129.7 L337.6 129.7 L339.6 129.8 L341.6 129.8 L343.6 129.8 L345.7 129.9 L347.7 129.9 L349.7 129.9 L351.7 129.9 L353.7 130 L355.7 130 L357.7 130 L359.7 130 L361.7 130 L363.7 130 L365.7 130.1 L367.7 130.1 L369.7 130.1 L371.7 130.1 L373.7 130.1 L375.7 130.1 L377.8 130.1 L379.8 130.1 L381.8 130.1 L383.8 130.1 L385.8 130.1 L387.8 130.1 L389.8 130.1 L391.8 130.2" fill="none" stroke="#cc0000" stroke-width="1.05" />
<path d="M145 115.6 L147 115.7 L149 115.8 L151 115.9 L153 116 L155 116.1 L157 116.2 L159 116.3 L161.1 116.4 L163.1 116.5 L165.1 116.5 L167.1 116.6 L169.1 116.7 L171.1 116.8 L173.1 116.9 L175.1 117 L177.1 117.1 L179.1 117.2 L181.1 117.3 L183.1 117.4 L185.1 117.5 L187.1 117.6 L189.1 117.7 L191.1 117.8 L193.2 117.9 L195.2 118 L197.2 118.1 L199.2 118.2 L201.2 118.3 L203.2 118.4 L205.2 118.5 L207.2 118.6 L209.2 118.7 L211.2 118.8 L213.2 118.9 L215.2 119 L217.2 119.1 L219.2 119.2 L221.2 119.3 L223.3 119.4 L225.3 119.5 L227.3 119.6 L229.3 119.7 L231.3 119.8 L233.3 119.9 L235.3 120 L237.3 120.1 L239.3 120.2 L241.3 120.3 L243.3 120.4 L245.3 120.5 L247.3 120.6 L249.3 120.7 L251.3 120.8 L253.4 121 L255.4 121.1 L257.4 121.2 L259.4 121.3 L261.4 121.5 L263.4 121.6 L265.4 121.7 L267.4 121.9 L269.4 122.1 L271.4 122.6 L273.4 123 L275.4 123.3 L277.4 123.7 L279.4 124 L281.4 124.3 L283.4 124.5 L285.5 124.8 L287.5 125 L289.5 125.2 L291.5 125.4 L293.5 125.6 L295.5 125.8 L297.5 125.9 L299.5 126.1 L301.5 126.2 L303.5 126.3 L305.5 126.5 L307.5 126.6 L309.5 126.7 L311.5 126.8 L313.5 126.8 L315.6 126.9 L317.6 127 L319.6 127.1 L321.6 127.1 L323.6 127.2 L325.6 127.2 L327.6 127.3 L329.6 127.3 L331.6 127.4 L333.6 127.4 L335.6 127.4 L337.6 127.5 L339.6 127.5 L341.6 127.5 L343.6 127.6 L345.7 127.6 L347.7 127.6 L349.7 127.6 L351.7 127.7 L353.7 127.7 L355.7 127.7 L357.7 127.7 L359.7 127.7 L361.7 127.7 L363.7 127.7 L365.7 127.8 L367.7 127.8 L369.7 127.8 L371.7 127.8 L373.7 127.8 L375.7 127.8 L377.8 127.8 L379.8 127.8 L381.8 127.8 L383.8 127.8 L385.8 127.8 L387.8 127.8 L389.8 127.8 L391.8 127.8" fill="none" stroke="#cc0000" stroke-width="1.05" />
<path d="M145 122.5 L147 122.5 L149 122.5 L151 122.5 L153 122.5 L155 122.5 L157 122.5 L159 122.5 L161.1 122.5 L163.1 122.5 L165.1 122.5 L167.1 122.5 L169.1 122.5 L171.1 122.5 L173.1 122.5 L175.1 122.5 L177.1 122.5 L179.1 122.5 L181.1 122.5 L183.1 122.5 L185.1 122.5 L187.1 122.5 L189.1 122.5 L191.1 122.5 L193.2 122.5 L195.2 122.4 L197.2 122.4 L199.2 122.4 L201.2 122.4 L203.2 122.4 L205.2 122.4 L207.2 122.4 L209.2 122.4 L211.2 122.4 L213.2 122.4 L215.2 122.4 L217.2 122.4 L219.2 122.4 L221.2 122.4 L223.3 122.4 L225.3 122.4 L227.3 122.4 L229.3 122.4 L231.3 122.4 L233.3 122.4 L235.3 122.3 L237.3 122.3 L239.3 122.3 L241.3 122.3 L243.3 122.3 L245.3 122.3 L247.3 122.3 L249.3 122.3 L251.3 122.2 L253.4 122.2 L255.4 122.2 L257.4 122.2 L259.4 122.2 L261.4 122.1 L263.4 122.1 L265.4 122.1 L267.4 122 L269.4 122 L271.4 122.2 L273.4 122.4 L275.4 122.6 L277.4 122.7 L279.4 122.8 L281.4 123 L283.4 123.1 L285.5 123.2 L287.5 123.3 L289.5 123.4 L291.5 123.5 L293.5 123.6 L295.5 123.6 L297.5 123.7 L299.5 123.8 L301.5 123.9 L303.5 123.9 L305.5 124 L307.5 124 L309.5 124.1 L311.5 124.1 L313.5 124.2 L315.6 124.2 L317.6 124.2 L319.6 124.3 L321.6 124.3 L323.6 124.3 L325.6 124.4 L327.6 124.4 L329.6 124.4 L331.6 124.5 L333.6 124.5 L335.6 124.5 L337.6 124.5 L339.6 124.5 L341.6 124.6 L343.6 124.6 L345.7 124.6 L347.7 124.6 L349.7 124.6 L351.7 124.6 L353.7 124.6 L355.7 124.6 L357.7 124.7 L359.7 124.7 L361.7 124.7 L363.7 124.7 L365.7 124.7 L367.7 124.7 L369.7 124.7 L371.7 124.7 L373.7 124.7 L375.7 124.7 L377.8 124.7 L379.8 124.7 L381.8 124.7 L383.8 124.7 L385.8 124.7 L387.8 124.7 L389.8 124.8 L391.8 124.8" fill="none" stroke="#cc0000" stroke-width="1.05" />
<path d="M145 121.8 L147 121.8 L149 121.8 L151 121.8 L153 121.8 L155 121.8 L157 121.8 L159 121.8 L161.1 121.8 L163.1 121.8 L165.1 121.8 L167.1 121.8 L169.1 121.8 L171.1 121.8 L173.1 121.8 L175.1 121.8 L177.1 121.8 L179.1 121.8 L181.1 121.8 L183.1 121.8 L185.1 121.8 L187.1 121.8 L189.1 121.8 L191.1 121.8 L193.2 121.8 L195.2 121.8 L197.2 121.8 L199.2 121.8 L201.2 121.8 L203.2 121.8 L205.2 121.8 L207.2 121.8 L209.2 121.8 L211.2 121.8 L213.2 121.8 L215.2 121.8 L217.2 121.8 L219.2 121.8 L221.2 121.8 L223.3 121.8 L225.3 121.8 L227.3 121.8 L229.3 121.9 L231.3 121.9 L233.3 121.9 L235.3 121.9 L237.3 121.9 L239.3 121.9 L241.3 121.9 L243.3 121.9 L245.3 121.9 L247.3 121.9 L249.3 121.9 L251.3 121.9 L253.4 121.9 L255.4 121.9 L257.4 121.9 L259.4 121.9 L261.4 121.9 L263.4 122 L265.4 122 L267.4 122 L269.4 122 L271.4 122.1 L273.4 122.2 L275.4 122.2 L277.4 122.3 L279.4 122.4 L281.4 122.4 L283.4 122.5 L285.5 122.5 L287.5 122.6 L289.5 122.6 L291.5 122.6 L293.5 122.7 L295.5 122.7 L297.5 122.7 L299.5 122.8 L301.5 122.8 L303.5 122.8 L305.5 122.8 L307.5 122.9 L309.5 122.9 L311.5 122.9 L313.5 122.9 L315.6 122.9 L317.6 123 L319.6 123 L321.6 123 L323.6 123 L325.6 123 L327.6 123 L329.6 123 L331.6 123.1 L333.6 123.1 L335.6 123.1 L337.6 123.1 L339.6 123.1 L341.6 123.1 L343.6 123.1 L345.7 123.1 L347.7 123.1 L349.7 123.1 L351.7 123.1 L353.7 123.1 L355.7 123.1 L357.7 123.1 L359.7 123.1 L361.7 123.1 L363.7 123.1 L365.7 123.2 L367.7 123.2 L369.7 123.2 L371.7 123.2 L373.7 123.2 L375.7 123.2 L377.8 123.2 L379.8 123.2 L381.8 123.2 L383.8 123.2 L385.8 123.2 L387.8 123.2 L389.8 123.2 L391.8 123.2" fill="none" stroke="#cc0000" stroke-width="1.05" />
<path d="M145 126.3 L147 126.3 L149 126.4 L151 126.4 L153 126.5 L155 126.5 L157 126.5 L159 126.6 L161.1 126.6 L163.1 126.7 L165.1 126.7 L167.1 126.7 L169.1 126.8 L171.1 126.8 L173.1 126.9 L175.1 126.9 L177.1 126.9 L179.1 127 L181.1 127 L183.1 127 L185.1 127.1 L187.1 127.1 L189.1 127.2 L191.1 127.2 L193.2 127.2 L195.2 127.3 L197.2 127.3 L199.2 127.3 L201.2 127.4 L203.2 127.4 L205.2 127.5 L207.2 127.5 L209.2 127.5 L211.2 127.6 L213.2 127.6 L215.2 127.6 L217.2 127.7 L219.2 127.7 L221.2 127.7 L223.3 127.8 L225.3 127.8 L227.3 127.8 L229.3 127.8 L231.3 127.9 L233.3 127.9 L235.3 127.9 L237.3 128 L239.3 128 L241.3 128 L243.3 128 L245.3 128 L247.3 128.1 L249.3 128.1 L251.3 128.1 L253.4 128.1 L255.4 128.1 L257.4 128.1 L259.4 128.1 L261.4 128.1 L263.4 128.1 L265.4 128.1 L267.4 128 L269.4 128 L271.4 128.1 L273.4 128.2 L275.4 128.2 L277.4 128.3 L279.4 128.4 L281.4 128.4 L283.4 128.5 L285.5 128.5 L287.5 128.6 L289.5 128.6 L291.5 128.6 L293.5 128.7 L295.5 128.7 L297.5 128.7 L299.5 128.8 L301.5 128.8 L303.5 128.8 L305.5 128.8 L307.5 128.9 L309.5 128.9 L311.5 128.9 L313.5 128.9 L315.6 128.9 L317.6 129 L319.6 129 L321.6 129 L323.6 129 L325.6 129 L327.6 129 L329.6 129 L331.6 129.1 L333.6 129.1 L335.6 129.1 L337.6 129.1 L339.6 129.1 L341.6 129.1 L343.6 129.1 L345.7 129.1 L347.7 129.1 L349.7 129.1 L351.7 129.1 L353.7 129.1 L355.7 129.1 L357.7 129.1 L359.7 129.1 L361.7 129.1 L363.7 129.1 L365.7 129.2 L367.7 129.2 L369.7 129.2 L371.7 129.2 L373.7 129.2 L375.7 129.2 L377.8 129.2 L379.8 129.2 L381.8 129.2 L383.8 129.2 L385.8 129.2 L387.8 129.2 L389.8 129.2 L391.8 129.2" fill="none" stroke="#cc0000" stroke-width="1.05" />
<path d="M145 129.9 L147 129.9 L149 129.9 L151 130 L153 130 L155 130 L157 130 L159 130.1 L161.1 130.1 L163.1 130.1 L165.1 130.1 L167.1 130.2 L169.1 130.2 L171.1 130.2 L173.1 130.3 L175.1 130.3 L177.1 130.3 L179.1 130.4 L181.1 130.4 L183.1 130.4 L185.1 130.5 L187.1 130.5 L189.1 130.5 L191.1 130.6 L193.2 130.6 L195.2 130.7 L197.2 130.7 L199.2 130.8 L201.2 130.8 L203.2 130.9 L205.2 130.9 L207.2 131 L209.2 131.1 L211.2 131.1 L213.2 131.2 L215.2 131.3 L217.2 131.3 L219.2 131.4 L221.2 131.5 L223.3 131.6 L225.3 131.7 L227.3 131.8 L229.3 131.9 L231.3 132 L233.3 132.1 L235.3 132.3 L237.3 132.4 L239.3 132.5 L241.3 132.7 L243.3 132.9 L245.3 133.1 L247.3 133.3 L249.3 133.5 L251.3 133.7 L253.4 134 L255.4 134.3 L257.4 134.6 L259.4 135 L261.4 135.4 L263.4 135.9 L265.4 136.4 L267.4 137 L269.4 137.7 L271.4 138.5 L273.4 139.3 L275.4 140.1 L277.4 140.9 L279.4 141.7 L281.4 142.5 L283.4 143.2 L285.5 143.9 L287.5 144.5 L289.5 145.1 L291.5 145.7 L293.5 146.2 L295.5 146.7 L297.5 147.2 L299.5 147.6 L301.5 148 L303.5 148.4 L305.5 148.7 L307.5 149.1 L309.5 149.4 L311.5 149.6 L313.5 149.9 L315.6 150.1 L317.6 150.3 L319.6 150.5 L321.6 150.7 L323.6 150.9 L325.6 151 L327.6 151.2 L329.6 151.3 L331.6 151.4 L333.6 151.5 L335.6 151.6 L337.6 151.7 L339.6 151.8 L341.6 151.9 L343.6 151.9 L345.7 152 L347.7 152 L349.7 152.1 L351.7 152.1 L353.7 152.2 L355.7 152.2 L357.7 152.3 L359.7 152.3 L361.7 152.3 L363.7 152.3 L365.7 152.4 L367.7 152.4 L369.7 152.4 L371.7 152.4 L373.7 152.4 L375.7 152.5 L377.8 152.5 L379.8 152.5 L381.8 152.5 L383.8 152.5 L385.8 152.5 L387.8 152.5 L389.8 152.5 L391.8 152.5" fill="none" stroke="#cc0000" stroke-width="1.05" />
<path d="M145 130.8 L147 130.8 L149 130.8 L151 130.9 L153 130.9 L155 130.9 L157 130.9 L159 130.9 L161.1 131 L163.1 131 L165.1 131 L167.1 131 L169.1 131.1 L171.1 131.1 L173.1 131.1 L175.1 131.1 L177.1 131.2 L179.1 131.2 L181.1 131.2 L183.1 131.3 L185.1 131.3 L187.1 131.3 L189.1 131.4 L191.1 131.4 L193.2 131.4 L195.2 131.5 L197.2 131.5 L199.2 131.6 L201.2 131.6 L203.2 131.7 L205.2 131.7 L207.2 131.8 L209.2 131.8 L211.2 131.9 L213.2 131.9 L215.2 132 L217.2 132.1 L219.2 132.1 L221.2 132.2 L223.3 132.3 L225.3 132.4 L227.3 132.5 L229.3 132.6 L231.3 132.7 L233.3 132.8 L235.3 132.9 L237.3 133 L239.3 133.1 L241.3 133.3 L243.3 133.4 L245.3 133.6 L247.3 133.8 L249.3 134 L251.3 134.2 L253.4 134.4 L255.4 134.7 L257.4 135 L259.4 135.3 L261.4 135.6 L263.4 136.1 L265.4 136.5 L267.4 137.1 L269.4 137.7 L271.4 138.4 L273.4 139.2 L275.4 139.9 L277.4 140.7 L279.4 141.4 L281.4 142.1 L283.4 142.8 L285.5 143.4 L287.5 144 L289.5 144.6 L291.5 145.1 L293.5 145.6 L295.5 146.1 L297.5 146.5 L299.5 146.9 L301.5 147.3 L303.5 147.6 L305.5 147.9 L307.5 148.2 L309.5 148.5 L311.5 148.7 L313.5 149 L315.6 149.2 L317.6 149.4 L319.6 149.6 L321.6 149.7 L323.6 149.9 L325.6 150 L327.6 150.2 L329.6 150.3 L331.6 150.4 L333.6 150.5 L335.6 150.6 L337.6 150.7 L339.6 150.7 L341.6 150.8 L343.6 150.9 L345.7 150.9 L347.7 151 L349.7 151 L351.7 151.1 L353.7 151.1 L355.7 151.1 L357.7 151.2 L359.7 151.2 L361.7 151.2 L363.7 151.3 L365.7 151.3 L367.7 151.3 L369.7 151.3 L371.7 151.3 L373.7 151.4 L375.7 151.4 L377.8 151.4 L379.8 151.4 L381.8 151.4 L383.8 151.4 L385.8 151.4 L387.8 151.4 L389.8 151.4 L391.8 151.4" fill="none" stroke="#cc0000" stroke-width="1.05" />
<path d="M145 131.7 L147 131.7 L149 131.7 L151 131.7 L153 131.8 L155 131.8 L157 131.8 L159 131.8 L161.1 131.8 L163.1 131.9 L165.1 131.9 L167.1 131.9 L169.1 131.9 L171.1 131.9 L173.1 132 L175.1 132 L177.1 132 L179.1 132 L181.1 132.1 L183.1 132.1 L185.1 132.1 L187.1 132.2 L189.1 132.2 L191.1 132.2 L193.2 132.3 L195.2 132.3 L197.2 132.3 L199.2 132.4 L201.2 132.4 L203.2 132.4 L205.2 132.5 L207.2 132.5 L209.2 132.6 L211.2 132.6 L213.2 132.7 L215.2 132.7 L217.2 132.8 L219.2 132.9 L221.2 132.9 L223.3 133 L225.3 133.1 L227.3 133.1 L229.3 133.2 L231.3 133.3 L233.3 133.4 L235.3 133.5 L237.3 133.6 L239.3 133.7 L241.3 133.8 L243.3 134 L245.3 134.1 L247.3 134.3 L249.3 134.4 L251.3 134.6 L253.4 134.8 L255.4 135.1 L257.4 135.3 L259.4 135.6 L261.4 135.9 L263.4 136.3 L265.4 136.7 L267.4 137.1 L269.4 137.7 L271.4 138.3 L273.4 139 L275.4 139.8 L277.4 140.5 L279.4 141.1 L281.4 141.8 L283.4 142.4 L285.5 143 L287.5 143.6 L289.5 144.1 L291.5 144.6 L293.5 145 L295.5 145.5 L297.5 145.9 L299.5 146.2 L301.5 146.6 L303.5 146.9 L305.5 147.2 L307.5 147.5 L309.5 147.7 L311.5 147.9 L313.5 148.2 L315.6 148.4 L317.6 148.5 L319.6 148.7 L321.6 148.9 L323.6 149 L325.6 149.1 L327.6 149.3 L329.6 149.4 L331.6 149.5 L333.6 149.6 L335.6 149.6 L337.6 149.7 L339.6 149.8 L341.6 149.9 L343.6 149.9 L345.7 150 L347.7 150 L349.7 150.1 L351.7 150.1 L353.7 150.1 L355.7 150.2 L357.7 150.2 L359.7 150.2 L361.7 150.3 L363.7 150.3 L365.7 150.3 L367.7 150.3 L369.7 150.3 L371.7 150.4 L373.7 150.4 L375.7 150.4 L377.8 150.4 L379.8 150.4 L381.8 150.4 L383.8 150.4 L385.8 150.4 L387.8 150.4 L389.8 150.4 L391.8 150.4" fill="none" stroke="#cc0000" stroke-width="1.05" />
<path d="M145 132.5 L147 132.5 L149 132.5 L151 132.5 L153 132.6 L155 132.6 L157 132.6 L159 132.6 L161.1 132.6 L163.1 132.6 L165.1 132.7 L167.1 132.7 L169.1 132.7 L171.1 132.7 L173.1 132.7 L175.1 132.8 L177.1 132.8 L179.1 132.8 L181.1 132.8 L183.1 132.8 L185.1 132.9 L187.1 132.9 L189.1 132.9 L191.1 133 L193.2 133 L195.2 133 L197.2 133 L199.2 133.1 L201.2 133.1 L203.2 133.1 L205.2 133.2 L207.2 133.2 L209.2 133.3 L211.2 133.3 L213.2 133.3 L215.2 133.4 L217.2 133.4 L219.2 133.5 L221.2 133.6 L223.3 133.6 L225.3 133.7 L227.3 133.7 L229.3 133.8 L231.3 133.9 L233.3 134 L235.3 134 L237.3 134.1 L239.3 134.2 L241.3 134.3 L243.3 134.5 L245.3 134.6 L247.3 134.7 L249.3 134.9 L251.3 135 L253.4 135.2 L255.4 135.4 L257.4 135.6 L259.4 135.8 L261.4 136.1 L263.4 136.4 L265.4 136.8 L267.4 137.2 L269.4 137.7 L271.4 138.3 L273.4 138.9 L275.4 139.6 L277.4 140.2 L279.4 140.9 L281.4 141.5 L283.4 142 L285.5 142.6 L287.5 143.1 L289.5 143.6 L291.5 144 L293.5 144.4 L295.5 144.8 L297.5 145.2 L299.5 145.6 L301.5 145.9 L303.5 146.2 L305.5 146.4 L307.5 146.7 L309.5 146.9 L311.5 147.1 L313.5 147.3 L315.6 147.5 L317.6 147.7 L319.6 147.8 L321.6 148 L323.6 148.1 L325.6 148.2 L327.6 148.4 L329.6 148.5 L331.6 148.5 L333.6 148.6 L335.6 148.7 L337.6 148.8 L339.6 148.8 L341.6 148.9 L343.6 149 L345.7 149 L347.7 149.1 L349.7 149.1 L351.7 149.1 L353.7 149.2 L355.7 149.2 L357.7 149.2 L359.7 149.3 L361.7 149.3 L363.7 149.3 L365.7 149.3 L367.7 149.3 L369.7 149.3 L371.7 149.4 L373.7 149.4 L375.7 149.4 L377.8 149.4 L379.8 149.4 L381.8 149.4 L383.8 149.4 L385.8 149.4 L387.8 149.4 L389.8 149.4 L391.8 149.5" fill="none" stroke="#cc0000" stroke-width="1.05" />
<path d="M145 137 L147 137 L149 137 L151 137 L153 137 L155 137 L157 137 L159 137 L161.1 137 L163.1 137 L165.1 137 L167.1 137 L169.1 137 L171.1 137 L173.1 137 L175.1 137 L177.1 137 L179.1 137 L181.1 137 L183.1 137 L185.1 137 L187.1 137 L189.1 137 L191.1 137 L193.2 137 L195.2 137.1 L197.2 137.1 L199.2 137.1 L201.2 137.1 L203.2 137.1 L205.2 137.1 L207.2 137.1 L209.2 137.1 L211.2 137.1 L213.2 137.1 L215.2 137.1 L217.2 137.1 L219.2 137.1 L221.2 137.1 L223.3 137.1 L225.3 137.1 L227.3 137.1 L229.3 137.1 L231.3 137.1 L233.3 137.1 L235.3 137.2 L237.3 137.2 L239.3 137.2 L241.3 137.2 L243.3 137.2 L245.3 137.2 L247.3 137.2 L249.3 137.2 L251.3 137.3 L253.4 137.3 L255.4 137.3 L257.4 137.3 L259.4 137.3 L261.4 137.4 L263.4 137.4 L265.4 137.4 L267.4 137.5 L269.4 137.6 L271.4 138.2 L273.4 138.8 L275.4 139.4 L277.4 140 L279.4 140.6 L281.4 141.1 L283.4 141.6 L285.5 142.1 L287.5 142.6 L289.5 143 L291.5 143.4 L293.5 143.8 L295.5 144.2 L297.5 144.5 L299.5 144.8 L301.5 145.1 L303.5 145.4 L305.5 145.6 L307.5 145.8 L309.5 146.1 L311.5 146.3 L313.5 146.4 L315.6 146.6 L317.6 146.8 L319.6 146.9 L321.6 147 L323.6 147.1 L325.6 147.3 L327.6 147.4 L329.6 147.4 L331.6 147.5 L333.6 147.6 L335.6 147.7 L337.6 147.7 L339.6 147.8 L341.6 147.9 L343.6 147.9 L345.7 148 L347.7 148 L349.7 148 L351.7 148.1 L353.7 148.1 L355.7 148.1 L357.7 148.2 L359.7 148.2 L361.7 148.2 L363.7 148.2 L365.7 148.2 L367.7 148.2 L369.7 148.3 L371.7 148.3 L373.7 148.3 L375.7 148.3 L377.8 148.3 L379.8 148.3 L381.8 148.3 L383.8 148.3 L385.8 148.3 L387.8 148.3 L389.8 148.3 L391.8 148.4" fill="none" stroke="#cc0000" stroke-width="1.05" />
<path d="M145 137.8 L147 137.8 L149 137.8 L151 137.8 L153 137.8 L155 137.8 L157 137.8 L159 137.8 L161.1 137.8 L163.1 137.8 L165.1 137.8 L167.1 137.8 L169.1 137.8 L171.1 137.8 L173.1 137.8 L175.1 137.8 L177.1 137.8 L179.1 137.8 L181.1 137.8 L183.1 137.8 L185.1 137.8 L187.1 137.8 L189.1 137.8 L191.1 137.8 L193.2 137.8 L195.2 137.8 L197.2 137.8 L199.2 137.8 L201.2 137.8 L203.2 137.8 L205.2 137.8 L207.2 137.8 L209.2 137.8 L211.2 137.8 L213.2 137.7 L215.2 137.7 L217.2 137.7 L219.2 137.7 L221.2 137.7 L223.3 137.7 L225.3 137.7 L227.3 137.7 L229.3 137.7 L231.3 137.7 L233.3 137.7 L235.3 137.7 L237.3 137.7 L239.3 137.7 L241.3 137.7 L243.3 137.7 L245.3 137.7 L247.3 137.7 L249.3 137.7 L251.3 137.6 L253.4 137.6 L255.4 137.6 L257.4 137.6 L259.4 137.6 L261.4 137.6 L263.4 137.6 L265.4 137.5 L267.4 137.5 L269.4 137.5 L271.4 137.8 L273.4 138 L275.4 138.2 L277.4 138.4 L279.4 138.6 L281.4 138.8 L283.4 138.9 L285.5 139.1 L287.5 139.2 L289.5 139.3 L291.5 139.5 L293.5 139.6 L295.5 139.7 L297.5 139.8 L299.5 139.9 L301.5 140 L303.5 140 L305.5 140.1 L307.5 140.2 L309.5 140.2 L311.5 140.3 L313.5 140.4 L315.6 140.4 L317.6 140.5 L319.6 140.5 L321.6 140.6 L323.6 140.6 L325.6 140.6 L327.6 140.7 L329.6 140.7 L331.6 140.7 L333.6 140.8 L335.6 140.8 L337.6 140.8 L339.6 140.9 L341.6 140.9 L343.6 140.9 L345.7 140.9 L347.7 140.9 L349.7 141 L351.7 141 L353.7 141 L355.7 141 L357.7 141 L359.7 141 L361.7 141 L363.7 141 L365.7 141.1 L367.7 141.1 L369.7 141.1 L371.7 141.1 L373.7 141.1 L375.7 141.1 L377.8 141.1 L379.8 141.1 L381.8 141.1 L383.8 141.1 L385.8 141.1 L387.8 141.1 L389.8 141.1 L391.8 141.1" fill="none" stroke="#cc0000" stroke-width="1.05" />
<path d="M145 138.5 L147 138.5 L149 138.5 L151 138.5 L153 138.5 L155 138.5 L157 138.5 L159 138.5 L161.1 138.5 L163.1 138.5 L165.1 138.5 L167.1 138.5 L169.1 138.5 L171.1 138.5 L173.1 138.5 L175.1 138.4 L177.1 138.4 L179.1 138.4 L181.1 138.4 L183.1 138.4 L185.1 138.4 L187.1 138.4 L189.1 138.4 L191.1 138.4 L193.2 138.4 L195.2 138.4 L197.2 138.4 L199.2 138.4 L201.2 138.4 L203.2 138.4 L205.2 138.4 L207.2 138.4 L209.2 138.3 L211.2 138.3 L213.2 138.3 L215.2 138.3 L217.2 138.3 L219.2 138.3 L221.2 138.3 L223.3 138.3 L225.3 138.3 L227.3 138.3 L229.3 138.2 L231.3 138.2 L233.3 138.2 L235.3 138.2 L237.3 138.2 L239.3 138.2 L241.3 138.1 L243.3 138.1 L245.3 138.1 L247.3 138.1 L249.3 138 L251.3 138 L253.4 138 L255.4 137.9 L257.4 137.9 L259.4 137.8 L261.4 137.8 L263.4 137.7 L265.4 137.6 L267.4 137.6 L269.4 137.5 L271.4 137.7 L273.4 137.8 L275.4 137.9 L277.4 138 L279.4 138.1 L281.4 138.2 L283.4 138.3 L285.5 138.4 L287.5 138.5 L289.5 138.5 L291.5 138.6 L293.5 138.7 L295.5 138.7 L297.5 138.8 L299.5 138.8 L301.5 138.9 L303.5 138.9 L305.5 139 L307.5 139 L309.5 139.1 L311.5 139.1 L313.5 139.1 L315.6 139.2 L317.6 139.2 L319.6 139.2 L321.6 139.2 L323.6 139.3 L325.6 139.3 L327.6 139.3 L329.6 139.3 L331.6 139.3 L333.6 139.4 L335.6 139.4 L337.6 139.4 L339.6 139.4 L341.6 139.4 L343.6 139.4 L345.7 139.4 L347.7 139.4 L349.7 139.5 L351.7 139.5 L353.7 139.5 L355.7 139.5 L357.7 139.5 L359.7 139.5 L361.7 139.5 L363.7 139.5 L365.7 139.5 L367.7 139.5 L369.7 139.5 L371.7 139.5 L373.7 139.5 L375.7 139.5 L377.8 139.5 L379.8 139.5 L381.8 139.6 L383.8 139.6 L385.8 139.6 L387.8 139.6 L389.8 139.6 L391.8 139.6" fill="none" stroke="#cc0000" stroke-width="1.05" />
<path d="M145 136.2 L147 136.2 L149 136.2 L151 136.2 L153 136.2 L155 136.2 L157 136.2 L159 136.2 L161.1 136.2 L163.1 136.2 L165.1 136.2 L167.1 136.2 L169.1 136.3 L171.1 136.3 L173.1 136.3 L175.1 136.3 L177.1 136.3 L179.1 136.3 L181.1 136.3 L183.1 136.3 L185.1 136.3 L187.1 136.3 L189.1 136.3 L191.1 136.3 L193.2 136.3 L195.2 136.3 L197.2 136.3 L199.2 136.3 L201.2 136.4 L203.2 136.4 L205.2 136.4 L207.2 136.4 L209.2 136.4 L211.2 136.4 L213.2 136.4 L215.2 136.4 L217.2 136.4 L219.2 136.5 L221.2 136.5 L223.3 136.5 L225.3 136.5 L227.3 136.5 L229.3 136.5 L231.3 136.6 L233.3 136.6 L235.3 136.6 L237.3 136.6 L239.3 136.7 L241.3 136.7 L243.3 136.7 L245.3 136.7 L247.3 136.8 L249.3 136.8 L251.3 136.9 L253.4 136.9 L255.4 137 L257.4 137 L259.4 137.1 L261.4 137.1 L263.4 137.2 L265.4 137.3 L267.4 137.4 L269.4 137.5 L271.4 137.5 L273.4 137.5 L275.4 137.5 L277.4 137.5 L279.4 137.5 L281.4 137.5 L283.4 137.5 L285.5 137.5 L287.5 137.5 L289.5 137.5 L291.5 137.4 L293.5 137.4 L295.5 137.4 L297.5 137.4 L299.5 137.4 L301.5 137.4 L303.5 137.4 L305.5 137.4 L307.5 137.4 L309.5 137.4 L311.5 137.4 L313.5 137.4 L315.6 137.4 L317.6 137.4 L319.6 137.4 L321.6 137.4 L323.6 137.4 L325.6 137.4 L327.6 137.4 L329.6 137.4 L331.6 137.4 L333.6 137.4 L335.6 137.4 L337.6 137.4 L339.6 137.4 L341.6 137.4 L343.6 137.4 L345.7 137.4 L347.7 137.4 L349.7 137.4 L351.7 137.4 L353.7 137.4 L355.7 137.4 L357.7 137.4 L359.7 137.4 L361.7 137.4 L363.7 137.4 L365.7 137.4 L367.7 137.4 L369.7 137.4 L371.7 137.4 L373.7 137.4 L375.7 137.4 L377.8 137.4 L379.8 137.4 L381.8 137.4 L383.8 137.4 L385.8 137.4 L387.8 137.4 L389.8 137.4 L391.8 137.4" fill="none" stroke="#cc0000" stroke-width="1.05" />
<path d="M145 140.8 L147 140.8 L149 140.8 L151 140.8 L153 140.8 L155 140.8 L157 140.8 L159 140.8 L161.1 140.8 L163.1 140.8 L165.1 140.8 L167.1 140.9 L169.1 140.9 L171.1 140.9 L173.1 140.9 L175.1 140.9 L177.1 140.9 L179.1 140.9 L181.1 140.9 L183.1 140.9 L185.1 140.9 L187.1 140.9 L189.1 140.9 L191.1 140.9 L193.2 140.9 L195.2 141 L197.2 141 L199.2 141 L201.2 141 L203.2 141 L205.2 141 L207.2 141 L209.2 141 L211.2 141 L213.2 141.1 L215.2 141.1 L217.2 141.1 L219.2 141.1 L221.2 141.1 L223.3 141.1 L225.3 141.2 L227.3 141.2 L229.3 141.2 L231.3 141.2 L233.3 141.2 L235.3 141.3 L237.3 141.3 L239.3 141.3 L241.3 141.4 L243.3 141.4 L245.3 141.4 L247.3 141.5 L249.3 141.5 L251.3 141.6 L253.4 141.6 L255.4 141.7 L257.4 141.7 L259.4 141.8 L261.4 141.9 L263.4 142 L265.4 142.1 L267.4 142.2 L269.4 142.3 L271.4 142.3 L273.4 142.3 L275.4 142.3 L277.4 142.3 L279.4 142.3 L281.4 142.3 L283.4 142.3 L285.5 142.3 L287.5 142.3 L289.5 142.3 L291.5 142.2 L293.5 142.2 L295.5 142.2 L297.5 142.2 L299.5 142.2 L301.5 142.2 L303.5 142.2 L305.5 142.2 L307.5 142.2 L309.5 142.2 L311.5 142.2 L313.5 142.2 L315.6 142.2 L317.6 142.2 L319.6 142.2 L321.6 142.2 L323.6 142.2 L325.6 142.2 L327.6 142.2 L329.6 142.2 L331.6 142.2 L333.6 142.2 L335.6 142.2 L337.6 142.2 L339.6 142.2 L341.6 142.2 L343.6 142.2 L345.7 142.2 L347.7 142.2 L349.7 142.2 L351.7 142.2 L353.7 142.2 L355.7 142.2 L357.7 142.2 L359.7 142.2 L361.7 142.2 L363.7 142.2 L365.7 142.2 L367.7 142.2 L369.7 142.2 L371.7 142.2 L373.7 142.2 L375.7 142.2 L377.8 142.2 L379.8 142.2 L381.8 142.2 L383.8 142.2 L385.8 142.2 L387.8 142.2 L389.8 142.2 L391.8 142.2" fill="none" stroke="#cc0000" stroke-width="1.05" />
<path d="M145 143.7 L147 143.7 L149 143.7 L151 143.7 L153 143.7 L155 143.7 L157 143.7 L159 143.7 L161.1 143.7 L163.1 143.7 L165.1 143.7 L167.1 143.7 L169.1 143.7 L171.1 143.7 L173.1 143.7 L175.1 143.7 L177.1 143.7 L179.1 143.6 L181.1 143.6 L183.1 143.6 L185.1 143.6 L187.1 143.6 L189.1 143.6 L191.1 143.6 L193.2 143.6 L195.2 143.6 L197.2 143.6 L199.2 143.6 L201.2 143.6 L203.2 143.6 L205.2 143.6 L207.2 143.6 L209.2 143.6 L211.2 143.6 L213.2 143.5 L215.2 143.5 L217.2 143.5 L219.2 143.5 L221.2 143.5 L223.3 143.5 L225.3 143.5 L227.3 143.5 L229.3 143.5 L231.3 143.5 L233.3 143.4 L235.3 143.4 L237.3 143.4 L239.3 143.4 L241.3 143.4 L243.3 143.3 L245.3 143.3 L247.3 143.3 L249.3 143.3 L251.3 143.2 L253.4 143.2 L255.4 143.2 L257.4 143.1 L259.4 143.1 L261.4 143 L263.4 143 L265.4 142.9 L267.4 142.9 L269.4 142.8 L271.4 142.9 L273.4 142.9 L275.4 143 L277.4 143 L279.4 143 L281.4 143.1 L283.4 143.1 L285.5 143.1 L287.5 143.2 L289.5 143.2 L291.5 143.2 L293.5 143.2 L295.5 143.3 L297.5 143.3 L299.5 143.3 L301.5 143.3 L303.5 143.3 L305.5 143.4 L307.5 143.4 L309.5 143.4 L311.5 143.4 L313.5 143.4 L315.6 143.4 L317.6 143.4 L319.6 143.5 L321.6 143.5 L323.6 143.5 L325.6 143.5 L327.6 143.5 L329.6 143.5 L331.6 143.5 L333.6 143.5 L335.6 143.5 L337.6 143.5 L339.6 143.5 L341.6 143.5 L343.6 143.5 L345.7 143.5 L347.7 143.5 L349.7 143.5 L351.7 143.5 L353.7 143.6 L355.7 143.6 L357.7 143.6 L359.7 143.6 L361.7 143.6 L363.7 143.6 L365.7 143.6 L367.7 143.6 L369.7 143.6 L371.7 143.6 L373.7 143.6 L375.7 143.6 L377.8 143.6 L379.8 143.6 L381.8 143.6 L383.8 143.6 L385.8 143.6 L387.8 143.6 L389.8 143.6 L391.8 143.6" fill="none" stroke="#cc0000" stroke-width="1.05" />
<path d="M145 144.5 L147 144.5 L149 144.5 L151 144.5 L153 144.5 L155 144.5 L157 144.5 L159 144.5 L161.1 144.5 L163.1 144.5 L165.1 144.5 L167.1 144.5 L169.1 144.5 L171.1 144.5 L173.1 144.5 L175.1 144.4 L177.1 144.4 L179.1 144.4 L181.1 144.4 L183.1 144.4 L185.1 144.4 L187.1 144.4 L189.1 144.4 L191.1 144.4 L193.2 144.4 L195.2 144.4 L197.2 144.4 L199.2 144.4 L201.2 144.4 L203.2 144.4 L205.2 144.4 L207.2 144.4 L209.2 144.3 L211.2 144.3 L213.2 144.3 L215.2 144.3 L217.2 144.3 L219.2 144.3 L221.2 144.3 L223.3 144.3 L225.3 144.3 L227.3 144.3 L229.3 144.2 L231.3 144.2 L233.3 144.2 L235.3 144.2 L237.3 144.2 L239.3 144.2 L241.3 144.1 L243.3 144.1 L245.3 144.1 L247.3 144.1 L249.3 144 L251.3 144 L253.4 144 L255.4 143.9 L257.4 143.9 L259.4 143.8 L261.4 143.8 L263.4 143.7 L265.4 143.6 L267.4 143.6 L269.4 143.5 L271.4 144.1 L273.4 144.6 L275.4 145.1 L277.4 145.7 L279.4 146.2 L281.4 146.8 L283.4 147.3 L285.5 147.7 L287.5 148.2 L289.5 148.6 L291.5 149.1 L293.5 149.5 L295.5 149.8 L297.5 150.2 L299.5 150.5 L301.5 150.8 L303.5 151.1 L305.5 151.4 L307.5 151.6 L309.5 151.8 L311.5 152 L313.5 152.2 L315.6 152.4 L317.6 152.6 L319.6 152.7 L321.6 152.9 L323.6 153 L325.6 153.1 L327.6 153.2 L329.6 153.3 L331.6 153.4 L333.6 153.5 L335.6 153.6 L337.6 153.7 L339.6 153.7 L341.6 153.8 L343.6 153.9 L345.7 153.9 L347.7 154 L349.7 154 L351.7 154 L353.7 154.1 L355.7 154.1 L357.7 154.1 L359.7 154.2 L361.7 154.2 L363.7 154.2 L365.7 154.2 L367.7 154.2 L369.7 154.3 L371.7 154.3 L373.7 154.3 L375.7 154.3 L377.8 154.3 L379.8 154.3 L381.8 154.3 L383.8 154.3 L385.8 154.3 L387.8 154.3 L389.8 154.3 L391.8 154.4" fill="none" stroke="#cc0000" stroke-width="1.05" />
<path d="M145 150.2 L147 150.2 L149 150.2 L151 150.3 L153 150.3 L155 150.3 L157 150.4 L159 150.4 L161.1 150.4 L163.1 150.4 L165.1 150.5 L167.1 150.5 L169.1 150.5 L171.1 150.6 L173.1 150.6 L175.1 150.6 L177.1 150.7 L179.1 150.7 L181.1 150.8 L183.1 150.8 L185.1 150.9 L187.1 150.9 L189.1 150.9 L191.1 151 L193.2 151 L195.2 151.1 L197.2 151.2 L199.2 151.2 L201.2 151.3 L203.2 151.3 L205.2 151.4 L207.2 151.5 L209.2 151.5 L211.2 151.6 L213.2 151.7 L215.2 151.8 L217.2 151.9 L219.2 152 L221.2 152.1 L223.3 152.2 L225.3 152.3 L227.3 152.4 L229.3 152.5 L231.3 152.6 L233.3 152.8 L235.3 152.9 L237.3 153.1 L239.3 153.3 L241.3 153.4 L243.3 153.6 L245.3 153.9 L247.3 154.1 L249.3 154.4 L251.3 154.6 L253.4 154.9 L255.4 155.3 L257.4 155.7 L259.4 156.1 L261.4 156.6 L263.4 157.1 L265.4 157.7 L267.4 158.4 L269.4 159.2 L271.4 159.8 L273.4 160.6 L275.4 161.5 L277.4 162.4 L279.4 163.3 L281.4 164.2 L283.4 165.1 L285.5 166 L287.5 166.8 L289.5 167.6 L291.5 168.4 L293.5 169.1 L295.5 169.8 L297.5 170.5 L299.5 171.1 L301.5 171.7 L303.5 172.2 L305.5 172.7 L307.5 173.1 L309.5 173.6 L311.5 173.9 L313.5 174.3 L315.6 174.6 L317.6 174.9 L319.6 175.2 L321.6 175.5 L323.6 175.7 L325.6 175.9 L327.6 176.1 L329.6 176.3 L331.6 176.4 L333.6 176.6 L335.6 176.7 L337.6 176.8 L339.6 176.9 L341.6 177 L343.6 177.1 L345.7 177.2 L347.7 177.2 L349.7 177.3 L351.7 177.4 L353.7 177.4 L355.7 177.5 L357.7 177.5 L359.7 177.5 L361.7 177.6 L363.7 177.6 L365.7 177.6 L367.7 177.6 L369.7 177.7 L371.7 177.7 L373.7 177.7 L375.7 177.7 L377.8 177.7 L379.8 177.7 L381.8 177.7 L383.8 177.7 L385.8 177.7 L387.8 177.8 L389.8 177.8 L391.8 177.8" fill="none" stroke="#cc0000" stroke-width="1.05" />
<path d="M145 152.7 L147 152.7 L149 152.7 L151 152.8 L153 152.8 L155 152.8 L157 152.8 L159 152.8 L161.1 152.9 L163.1 152.9 L165.1 152.9 L167.1 152.9 L169.1 152.9 L171.1 153 L173.1 153 L175.1 153 L177.1 153 L179.1 153.1 L181.1 153.1 L183.1 153.1 L185.1 153.2 L187.1 153.2 L189.1 153.2 L191.1 153.3 L193.2 153.3 L195.2 153.3 L197.2 153.4 L199.2 153.4 L201.2 153.5 L203.2 153.5 L205.2 153.6 L207.2 153.6 L209.2 153.7 L211.2 153.7 L213.2 153.8 L215.2 153.8 L217.2 153.9 L219.2 154 L221.2 154 L223.3 154.1 L225.3 154.2 L227.3 154.3 L229.3 154.4 L231.3 154.4 L233.3 154.5 L235.3 154.7 L237.3 154.8 L239.3 154.9 L241.3 155 L243.3 155.2 L245.3 155.3 L247.3 155.5 L249.3 155.7 L251.3 155.9 L253.4 156.1 L255.4 156.3 L257.4 156.6 L259.4 156.9 L261.4 157.3 L263.4 157.6 L265.4 158.1 L267.4 158.6 L269.4 159.2 L271.4 159.7 L273.4 160.5 L275.4 161.3 L277.4 162.2 L279.4 163 L281.4 163.9 L283.4 164.7 L285.5 165.5 L287.5 166.3 L289.5 167.1 L291.5 167.8 L293.5 168.5 L295.5 169.1 L297.5 169.8 L299.5 170.3 L301.5 170.9 L303.5 171.3 L305.5 171.8 L307.5 172.2 L309.5 172.6 L311.5 173 L313.5 173.3 L315.6 173.6 L317.6 173.9 L319.6 174.2 L321.6 174.4 L323.6 174.6 L325.6 174.8 L327.6 175 L329.6 175.2 L331.6 175.3 L333.6 175.4 L335.6 175.6 L337.6 175.7 L339.6 175.8 L341.6 175.9 L343.6 175.9 L345.7 176 L347.7 176.1 L349.7 176.1 L351.7 176.2 L353.7 176.2 L355.7 176.3 L357.7 176.3 L359.7 176.3 L361.7 176.4 L363.7 176.4 L365.7 176.4 L367.7 176.4 L369.7 176.5 L371.7 176.5 L373.7 176.5 L375.7 176.5 L377.8 176.5 L379.8 176.5 L381.8 176.5 L383.8 176.5 L385.8 176.6 L387.8 176.6 L389.8 176.6 L391.8 176.6" fill="none" stroke="#cc0000" stroke-width="1.05" />
<path d="M145 153.5 L147 153.5 L149 153.5 L151 153.5 L153 153.6 L155 153.6 L157 153.6 L159 153.6 L161.1 153.6 L163.1 153.7 L165.1 153.7 L167.1 153.7 L169.1 153.7 L171.1 153.7 L173.1 153.8 L175.1 153.8 L177.1 153.8 L179.1 153.8 L181.1 153.9 L183.1 153.9 L185.1 153.9 L187.1 153.9 L189.1 154 L191.1 154 L193.2 154 L195.2 154.1 L197.2 154.1 L199.2 154.1 L201.2 154.2 L203.2 154.2 L205.2 154.2 L207.2 154.3 L209.2 154.3 L211.2 154.4 L213.2 154.4 L215.2 154.5 L217.2 154.5 L219.2 154.6 L221.2 154.7 L223.3 154.7 L225.3 154.8 L227.3 154.9 L229.3 154.9 L231.3 155 L233.3 155.1 L235.3 155.2 L237.3 155.3 L239.3 155.4 L241.3 155.5 L243.3 155.7 L245.3 155.8 L247.3 155.9 L249.3 156.1 L251.3 156.3 L253.4 156.5 L255.4 156.7 L257.4 156.9 L259.4 157.2 L261.4 157.5 L263.4 157.8 L265.4 158.2 L267.4 158.6 L269.4 159.2 L271.4 159.7 L273.4 160.4 L275.4 161.1 L277.4 161.9 L279.4 162.8 L281.4 163.6 L283.4 164.3 L285.5 165.1 L287.5 165.8 L289.5 166.5 L291.5 167.2 L293.5 167.9 L295.5 168.5 L297.5 169 L299.5 169.5 L301.5 170 L303.5 170.5 L305.5 170.9 L307.5 171.3 L309.5 171.7 L311.5 172 L313.5 172.3 L315.6 172.6 L317.6 172.9 L319.6 173.1 L321.6 173.4 L323.6 173.6 L325.6 173.7 L327.6 173.9 L329.6 174.1 L331.6 174.2 L333.6 174.3 L335.6 174.4 L337.6 174.5 L339.6 174.6 L341.6 174.7 L343.6 174.8 L345.7 174.9 L347.7 174.9 L349.7 175 L351.7 175 L353.7 175.1 L355.7 175.1 L357.7 175.1 L359.7 175.2 L361.7 175.2 L363.7 175.2 L365.7 175.2 L367.7 175.3 L369.7 175.3 L371.7 175.3 L373.7 175.3 L375.7 175.3 L377.8 175.3 L379.8 175.3 L381.8 175.3 L383.8 175.3 L385.8 175.4 L387.8 175.4 L389.8 175.4 L391.8 175.4" fill="none" stroke="#cc0000" stroke-width="1.05" />
<path d="M145 154.3 L147 154.3 L149 154.3 L151 154.3 L153 154.4 L155 154.4 L157 154.4 L159 154.4 L161.1 154.4 L163.1 154.4 L165.1 154.4 L167.1 154.5 L169.1 154.5 L171.1 154.5 L173.1 154.5 L175.1 154.5 L177.1 154.6 L179.1 154.6 L181.1 154.6 L183.1 154.6 L185.1 154.6 L187.1 154.7 L189.1 154.7 L191.1 154.7 L193.2 154.8 L195.2 154.8 L197.2 154.8 L199.2 154.8 L201.2 154.9 L203.2 154.9 L205.2 154.9 L207.2 155 L209.2 155 L211.2 155.1 L213.2 155.1 L215.2 155.1 L217.2 155.2 L219.2 155.2 L221.2 155.3 L223.3 155.3 L225.3 155.4 L227.3 155.5 L229.3 155.5 L231.3 155.6 L233.3 155.7 L235.3 155.8 L237.3 155.8 L239.3 155.9 L241.3 156 L243.3 156.1 L245.3 156.3 L247.3 156.4 L249.3 156.5 L251.3 156.7 L253.4 156.8 L255.4 157 L257.4 157.2 L259.4 157.4 L261.4 157.7 L263.4 158 L265.4 158.3 L267.4 158.7 L269.4 159.1 L271.4 159.6 L273.4 160.3 L275.4 161 L277.4 161.7 L279.4 162.5 L281.4 163.2 L283.4 163.9 L285.5 164.7 L287.5 165.3 L289.5 166 L291.5 166.6 L293.5 167.2 L295.5 167.8 L297.5 168.3 L299.5 168.8 L301.5 169.2 L303.5 169.7 L305.5 170.1 L307.5 170.4 L309.5 170.8 L311.5 171.1 L313.5 171.4 L315.6 171.6 L317.6 171.9 L319.6 172.1 L321.6 172.3 L323.6 172.5 L325.6 172.7 L327.6 172.8 L329.6 173 L331.6 173.1 L333.6 173.2 L335.6 173.3 L337.6 173.4 L339.6 173.5 L341.6 173.6 L343.6 173.6 L345.7 173.7 L347.7 173.7 L349.7 173.8 L351.7 173.8 L353.7 173.9 L355.7 173.9 L357.7 173.9 L359.7 174 L361.7 174 L363.7 174 L365.7 174 L367.7 174.1 L369.7 174.1 L371.7 174.1 L373.7 174.1 L375.7 174.1 L377.8 174.1 L379.8 174.1 L381.8 174.1 L383.8 174.2 L385.8 174.2 L387.8 174.2 L389.8 174.2 L391.8 174.2" fill="none" stroke="#cc0000" stroke-width="1.05" />
<path d="M145 155.1 L147 155.1 L149 155.1 L151 155.1 L153 155.1 L155 155.2 L157 155.2 L159 155.2 L161.1 155.2 L163.1 155.2 L165.1 155.2 L167.1 155.2 L169.1 155.3 L171.1 155.3 L173.1 155.3 L175.1 155.3 L177.1 155.3 L179.1 155.3 L181.1 155.4 L183.1 155.4 L185.1 155.4 L187.1 155.4 L189.1 155.4 L191.1 155.5 L193.2 155.5 L195.2 155.5 L197.2 155.5 L199.2 155.5 L201.2 155.6 L203.2 155.6 L205.2 155.6 L207.2 155.7 L209.2 155.7 L211.2 155.7 L213.2 155.8 L215.2 155.8 L217.2 155.8 L219.2 155.9 L221.2 155.9 L223.3 156 L225.3 156 L227.3 156.1 L229.3 156.1 L231.3 156.2 L233.3 156.2 L235.3 156.3 L237.3 156.4 L239.3 156.5 L241.3 156.5 L243.3 156.6 L245.3 156.7 L247.3 156.8 L249.3 156.9 L251.3 157.1 L253.4 157.2 L255.4 157.4 L257.4 157.5 L259.4 157.7 L261.4 157.9 L263.4 158.2 L265.4 158.4 L267.4 158.8 L269.4 159.1 L271.4 159.6 L273.4 160.2 L275.4 160.8 L277.4 161.5 L279.4 162.2 L281.4 162.9 L283.4 163.6 L285.5 164.2 L287.5 164.8 L289.5 165.4 L291.5 166 L293.5 166.6 L295.5 167.1 L297.5 167.6 L299.5 168 L301.5 168.4 L303.5 168.8 L305.5 169.2 L307.5 169.5 L309.5 169.8 L311.5 170.1 L313.5 170.4 L315.6 170.6 L317.6 170.9 L319.6 171.1 L321.6 171.3 L323.6 171.4 L325.6 171.6 L327.6 171.7 L329.6 171.9 L331.6 172 L333.6 172.1 L335.6 172.2 L337.6 172.3 L339.6 172.3 L341.6 172.4 L343.6 172.5 L345.7 172.5 L347.7 172.6 L349.7 172.6 L351.7 172.7 L353.7 172.7 L355.7 172.7 L357.7 172.8 L359.7 172.8 L361.7 172.8 L363.7 172.8 L365.7 172.9 L367.7 172.9 L369.7 172.9 L371.7 172.9 L373.7 172.9 L375.7 172.9 L377.8 172.9 L379.8 172.9 L381.8 172.9 L383.8 173 L385.8 173 L387.8 173 L389.8 173 L391.8 173" fill="none" stroke="#cc0000" stroke-width="1.05" />
<path d="M145 156 L147 156 L149 156 L151 156 L153 156 L155 156 L157 156.1 L159 156.1 L161.1 156.1 L163.1 156.1 L165.1 156.1 L167.1 156.1 L169.1 156.1 L171.1 156.1 L173.1 156.1 L175.1 156.2 L177.1 156.2 L179.1 156.2 L181.1 156.2 L183.1 156.2 L185.1 156.2 L187.1 156.2 L189.1 156.3 L191.1 156.3 L193.2 156.3 L195.2 156.3 L197.2 156.3 L199.2 156.3 L201.2 156.4 L203.2 156.4 L205.2 156.4 L207.2 156.4 L209.2 156.5 L211.2 156.5 L213.2 156.5 L215.2 156.5 L217.2 156.6 L219.2 156.6 L221.2 156.6 L223.3 156.7 L225.3 156.7 L227.3 156.7 L229.3 156.8 L231.3 156.8 L233.3 156.9 L235.3 156.9 L237.3 157 L239.3 157 L241.3 157.1 L243.3 157.2 L245.3 157.2 L247.3 157.3 L249.3 157.4 L251.3 157.5 L253.4 157.6 L255.4 157.7 L257.4 157.9 L259.4 158 L261.4 158.2 L263.4 158.4 L265.4 158.6 L267.4 158.8 L269.4 159.1 L271.4 159.5 L273.4 160.1 L275.4 160.7 L277.4 161.3 L279.4 161.9 L281.4 162.6 L283.4 163.2 L285.5 163.8 L287.5 164.3 L289.5 164.9 L291.5 165.4 L293.5 165.9 L295.5 166.4 L297.5 166.8 L299.5 167.2 L301.5 167.6 L303.5 168 L305.5 168.3 L307.5 168.6 L309.5 168.9 L311.5 169.2 L313.5 169.4 L315.6 169.6 L317.6 169.8 L319.6 170 L321.6 170.2 L323.6 170.4 L325.6 170.5 L327.6 170.6 L329.6 170.8 L331.6 170.9 L333.6 171 L335.6 171 L337.6 171.1 L339.6 171.2 L341.6 171.3 L343.6 171.3 L345.7 171.4 L347.7 171.4 L349.7 171.5 L351.7 171.5 L353.7 171.5 L355.7 171.6 L357.7 171.6 L359.7 171.6 L361.7 171.6 L363.7 171.7 L365.7 171.7 L367.7 171.7 L369.7 171.7 L371.7 171.7 L373.7 171.7 L375.7 171.7 L377.8 171.7 L379.8 171.7 L381.8 171.8 L383.8 171.8 L385.8 171.8 L387.8 171.8 L389.8 171.8 L391.8 171.8" fill="none" stroke="#cc0000" stroke-width="1.05" />
<path d="M145 158 L147 158 L149 158 L151 158 L153 158 L155 158 L157 158 L159 158 L161.1 158 L163.1 158 L165.1 158 L167.1 158 L169.1 158 L171.1 158 L173.1 158 L175.1 158.1 L177.1 158.1 L179.1 158.1 L181.1 158.1 L183.1 158.1 L185.1 158.1 L187.1 158.1 L189.1 158.1 L191.1 158.1 L193.2 158.1 L195.2 158.1 L197.2 158.1 L199.2 158.1 L201.2 158.1 L203.2 158.1 L205.2 158.1 L207.2 158.1 L209.2 158.2 L211.2 158.2 L213.2 158.2 L215.2 158.2 L217.2 158.2 L219.2 158.2 L221.2 158.2 L223.3 158.2 L225.3 158.2 L227.3 158.2 L229.3 158.3 L231.3 158.3 L233.3 158.3 L235.3 158.3 L237.3 158.3 L239.3 158.3 L241.3 158.4 L243.3 158.4 L245.3 158.4 L247.3 158.4 L249.3 158.5 L251.3 158.5 L253.4 158.5 L255.4 158.6 L257.4 158.6 L259.4 158.7 L261.4 158.7 L263.4 158.8 L265.4 158.9 L267.4 158.9 L269.4 159 L271.4 159.2 L273.4 159.4 L275.4 159.5 L277.4 159.6 L279.4 159.7 L281.4 159.9 L283.4 160 L285.5 160.1 L287.5 160.2 L289.5 160.2 L291.5 160.3 L293.5 160.4 L295.5 160.5 L297.5 160.5 L299.5 160.6 L301.5 160.7 L303.5 160.7 L305.5 160.8 L307.5 160.8 L309.5 160.9 L311.5 160.9 L313.5 160.9 L315.6 161 L317.6 161 L319.6 161 L321.6 161.1 L323.6 161.1 L325.6 161.1 L327.6 161.1 L329.6 161.2 L331.6 161.2 L333.6 161.2 L335.6 161.2 L337.6 161.2 L339.6 161.3 L341.6 161.3 L343.6 161.3 L345.7 161.3 L347.7 161.3 L349.7 161.3 L351.7 161.3 L353.7 161.4 L355.7 161.4 L357.7 161.4 L359.7 161.4 L361.7 161.4 L363.7 161.4 L365.7 161.4 L367.7 161.4 L369.7 161.4 L371.7 161.4 L373.7 161.4 L375.7 161.4 L377.8 161.4 L379.8 161.4 L381.8 161.4 L383.8 161.4 L385.8 161.4 L387.8 161.5 L389.8 161.5 L391.8 161.5" fill="none" stroke="#cc0000" stroke-width="1.05" />
<path d="M145 158.8 L147 158.8 L149 158.8 L151 158.8 L153 158.8 L155 158.8 L157 158.8 L159 158.8 L161.1 158.8 L163.1 158.8 L165.1 158.8 L167.1 158.8 L169.1 158.8 L171.1 158.8 L173.1 158.8 L175.1 158.8 L177.1 158.8 L179.1 158.8 L181.1 158.8 L183.1 158.8 L185.1 158.8 L187.1 158.8 L189.1 158.8 L191.1 158.8 L193.2 158.8 L195.2 158.8 L197.2 158.8 L199.2 158.8 L201.2 158.8 L203.2 158.8 L205.2 158.8 L207.2 158.8 L209.2 158.8 L211.2 158.8 L213.2 158.8 L215.2 158.8 L217.2 158.8 L219.2 158.8 L221.2 158.8 L223.3 158.8 L225.3 158.8 L227.3 158.8 L229.3 158.9 L231.3 158.9 L233.3 158.9 L235.3 158.9 L237.3 158.9 L239.3 158.9 L241.3 158.9 L243.3 158.9 L245.3 158.9 L247.3 158.9 L249.3 158.9 L251.3 158.9 L253.4 158.9 L255.4 158.9 L257.4 158.9 L259.4 158.9 L261.4 158.9 L263.4 159 L265.4 159 L267.4 159 L269.4 159 L271.4 159.1 L273.4 159.2 L275.4 159.3 L277.4 159.4 L279.4 159.4 L281.4 159.5 L283.4 159.6 L285.5 159.6 L287.5 159.7 L289.5 159.7 L291.5 159.8 L293.5 159.8 L295.5 159.9 L297.5 159.9 L299.5 160 L301.5 160 L303.5 160 L305.5 160.1 L307.5 160.1 L309.5 160.1 L311.5 160.1 L313.5 160.2 L315.6 160.2 L317.6 160.2 L319.6 160.2 L321.6 160.2 L323.6 160.3 L325.6 160.3 L327.6 160.3 L329.6 160.3 L331.6 160.3 L333.6 160.3 L335.6 160.3 L337.6 160.3 L339.6 160.4 L341.6 160.4 L343.6 160.4 L345.7 160.4 L347.7 160.4 L349.7 160.4 L351.7 160.4 L353.7 160.4 L355.7 160.4 L357.7 160.4 L359.7 160.4 L361.7 160.4 L363.7 160.4 L365.7 160.4 L367.7 160.4 L369.7 160.4 L371.7 160.5 L373.7 160.5 L375.7 160.5 L377.8 160.5 L379.8 160.5 L381.8 160.5 L383.8 160.5 L385.8 160.5 L387.8 160.5 L389.8 160.5 L391.8 160.5" fill="none" stroke="#cc0000" stroke-width="1.05" />
<path d="M145 159.5 L147 159.5 L149 159.5 L151 159.5 L153 159.5 L155 159.5 L157 159.5 L159 159.5 L161.1 159.5 L163.1 159.5 L165.1 159.5 L167.1 159.5 L169.1 159.5 L171.1 159.5 L173.1 159.5 L175.1 159.5 L177.1 159.5 L179.1 159.5 L181.1 159.5 L183.1 159.5 L185.1 159.5 L187.1 159.5 L189.1 159.5 L191.1 159.5 L193.2 159.5 L195.2 159.4 L197.2 159.4 L199.2 159.4 L201.2 159.4 L203.2 159.4 L205.2 159.4 L207.2 159.4 L209.2 159.4 L211.2 159.4 L213.2 159.4 L215.2 159.4 L217.2 159.4 L219.2 159.4 L221.2 159.4 L223.3 159.4 L225.3 159.4 L227.3 159.4 L229.3 159.4 L231.3 159.4 L233.3 159.4 L235.3 159.3 L237.3 159.3 L239.3 159.3 L241.3 159.3 L243.3 159.3 L245.3 159.3 L247.3 159.3 L249.3 159.3 L251.3 159.2 L253.4 159.2 L255.4 159.2 L257.4 159.2 L259.4 159.2 L261.4 159.1 L263.4 159.1 L265.4 159.1 L267.4 159 L269.4 159 L271.4 159 L273.4 159.1 L275.4 159.1 L277.4 159.1 L279.4 159.1 L281.4 159.2 L283.4 159.2 L285.5 159.2 L287.5 159.2 L289.5 159.2 L291.5 159.3 L293.5 159.3 L295.5 159.3 L297.5 159.3 L299.5 159.3 L301.5 159.3 L303.5 159.3 L305.5 159.4 L307.5 159.4 L309.5 159.4 L311.5 159.4 L313.5 159.4 L315.6 159.4 L317.6 159.4 L319.6 159.4 L321.6 159.4 L323.6 159.4 L325.6 159.4 L327.6 159.4 L329.6 159.4 L331.6 159.4 L333.6 159.4 L335.6 159.4 L337.6 159.4 L339.6 159.5 L341.6 159.5 L343.6 159.5 L345.7 159.5 L347.7 159.5 L349.7 159.5 L351.7 159.5 L353.7 159.5 L355.7 159.5 L357.7 159.5 L359.7 159.5 L361.7 159.5 L363.7 159.5 L365.7 159.5 L367.7 159.5 L369.7 159.5 L371.7 159.5 L373.7 159.5 L375.7 159.5 L377.8 159.5 L379.8 159.5 L381.8 159.5 L383.8 159.5 L385.8 159.5 L387.8 159.5 L389.8 159.5 L391.8 159.5" fill="none" stroke="#cc0000" stroke-width="1.05" />
<path d="M145 160.2 L147 160.2 L149 160.2 L151 160.2 L153 160.2 L155 160.2 L157 160.2 L159 160.2 L161.1 160.2 L163.1 160.2 L165.1 160.2 L167.1 160.2 L169.1 160.2 L171.1 160.1 L173.1 160.1 L175.1 160.1 L177.1 160.1 L179.1 160.1 L181.1 160.1 L183.1 160.1 L185.1 160.1 L187.1 160.1 L189.1 160.1 L191.1 160.1 L193.2 160.1 L195.2 160.1 L197.2 160.1 L199.2 160.1 L201.2 160.1 L203.2 160 L205.2 160 L207.2 160 L209.2 160 L211.2 160 L213.2 160 L215.2 160 L217.2 160 L219.2 160 L221.2 159.9 L223.3 159.9 L225.3 159.9 L227.3 159.9 L229.3 159.9 L231.3 159.9 L233.3 159.8 L235.3 159.8 L237.3 159.8 L239.3 159.8 L241.3 159.8 L243.3 159.7 L245.3 159.7 L247.3 159.7 L249.3 159.6 L251.3 159.6 L253.4 159.6 L255.4 159.5 L257.4 159.5 L259.4 159.4 L261.4 159.3 L263.4 159.3 L265.4 159.2 L267.4 159.1 L269.4 159 L271.4 159 L273.4 158.9 L275.4 158.9 L277.4 158.9 L279.4 158.9 L281.4 158.9 L283.4 158.8 L285.5 158.8 L287.5 158.8 L289.5 158.8 L291.5 158.8 L293.5 158.8 L295.5 158.8 L297.5 158.8 L299.5 158.7 L301.5 158.7 L303.5 158.7 L305.5 158.7 L307.5 158.7 L309.5 158.7 L311.5 158.7 L313.5 158.7 L315.6 158.7 L317.6 158.7 L319.6 158.7 L321.6 158.7 L323.6 158.7 L325.6 158.7 L327.6 158.7 L329.6 158.7 L331.6 158.6 L333.6 158.6 L335.6 158.6 L337.6 158.6 L339.6 158.6 L341.6 158.6 L343.6 158.6 L345.7 158.6 L347.7 158.6 L349.7 158.6 L351.7 158.6 L353.7 158.6 L355.7 158.6 L357.7 158.6 L359.7 158.6 L361.7 158.6 L363.7 158.6 L365.7 158.6 L367.7 158.6 L369.7 158.6 L371.7 158.6 L373.7 158.6 L375.7 158.6 L377.8 158.6 L379.8 158.6 L381.8 158.6 L383.8 158.6 L385.8 158.6 L387.8 158.6 L389.8 158.6 L391.8 158.6" fill="none" stroke="#cc0000" stroke-width="1.05" />
<path d="M145 161.8 L147 161.8 L149 161.8 L151 161.8 L153 161.8 L155 161.8 L157 161.8 L159 161.9 L161.1 161.9 L163.1 161.9 L165.1 161.9 L167.1 161.9 L169.1 161.9 L171.1 161.9 L173.1 161.9 L175.1 161.9 L177.1 161.9 L179.1 161.9 L181.1 162 L183.1 162 L185.1 162 L187.1 162 L189.1 162 L191.1 162 L193.2 162 L195.2 162.1 L197.2 162.1 L199.2 162.1 L201.2 162.1 L203.2 162.1 L205.2 162.1 L207.2 162.2 L209.2 162.2 L211.2 162.2 L213.2 162.2 L215.2 162.2 L217.2 162.3 L219.2 162.3 L221.2 162.3 L223.3 162.4 L225.3 162.4 L227.3 162.4 L229.3 162.5 L231.3 162.5 L233.3 162.5 L235.3 162.6 L237.3 162.6 L239.3 162.7 L241.3 162.7 L243.3 162.8 L245.3 162.8 L247.3 162.9 L249.3 163 L251.3 163.1 L253.4 163.1 L255.4 163.2 L257.4 163.4 L259.4 163.5 L261.4 163.6 L263.4 163.8 L265.4 163.9 L267.4 164.1 L269.4 164.3 L271.4 164.5 L273.4 164.6 L275.4 164.7 L277.4 164.8 L279.4 164.9 L281.4 165 L283.4 165.1 L285.5 165.1 L287.5 165.2 L289.5 165.3 L291.5 165.3 L293.5 165.4 L295.5 165.5 L297.5 165.5 L299.5 165.6 L301.5 165.6 L303.5 165.7 L305.5 165.7 L307.5 165.8 L309.5 165.8 L311.5 165.9 L313.5 165.9 L315.6 165.9 L317.6 166 L319.6 166 L321.6 166 L323.6 166 L325.6 166.1 L327.6 166.1 L329.6 166.1 L331.6 166.1 L333.6 166.2 L335.6 166.2 L337.6 166.2 L339.6 166.2 L341.6 166.2 L343.6 166.2 L345.7 166.3 L347.7 166.3 L349.7 166.3 L351.7 166.3 L353.7 166.3 L355.7 166.3 L357.7 166.3 L359.7 166.3 L361.7 166.3 L363.7 166.4 L365.7 166.4 L367.7 166.4 L369.7 166.4 L371.7 166.4 L373.7 166.4 L375.7 166.4 L377.8 166.4 L379.8 166.4 L381.8 166.4 L383.8 166.4 L385.8 166.4 L387.8 166.4 L389.8 166.4 L391.8 166.4" fill="none" stroke="#cc0000" stroke-width="1.05" />
<path d="M145 162.6 L147 162.6 L149 162.6 L151 162.6 L153 162.6 L155 162.6 L157 162.6 L159 162.6 L161.1 162.6 L163.1 162.6 L165.1 162.7 L167.1 162.7 L169.1 162.7 L171.1 162.7 L173.1 162.7 L175.1 162.7 L177.1 162.7 L179.1 162.7 L181.1 162.7 L183.1 162.7 L185.1 162.7 L187.1 162.7 L189.1 162.7 L191.1 162.8 L193.2 162.8 L195.2 162.8 L197.2 162.8 L199.2 162.8 L201.2 162.8 L203.2 162.8 L205.2 162.8 L207.2 162.8 L209.2 162.9 L211.2 162.9 L213.2 162.9 L215.2 162.9 L217.2 162.9 L219.2 162.9 L221.2 163 L223.3 163 L225.3 163 L227.3 163 L229.3 163 L231.3 163.1 L233.3 163.1 L235.3 163.1 L237.3 163.2 L239.3 163.2 L241.3 163.2 L243.3 163.3 L245.3 163.3 L247.3 163.4 L249.3 163.4 L251.3 163.5 L253.4 163.5 L255.4 163.6 L257.4 163.7 L259.4 163.7 L261.4 163.8 L263.4 163.9 L265.4 164.1 L267.4 164.2 L269.4 164.3 L271.4 164.4 L273.4 164.5 L275.4 164.5 L277.4 164.6 L279.4 164.6 L281.4 164.7 L283.4 164.7 L285.5 164.8 L287.5 164.8 L289.5 164.9 L291.5 164.9 L293.5 165 L295.5 165 L297.5 165 L299.5 165.1 L301.5 165.1 L303.5 165.1 L305.5 165.1 L307.5 165.2 L309.5 165.2 L311.5 165.2 L313.5 165.2 L315.6 165.3 L317.6 165.3 L319.6 165.3 L321.6 165.3 L323.6 165.3 L325.6 165.3 L327.6 165.4 L329.6 165.4 L331.6 165.4 L333.6 165.4 L335.6 165.4 L337.6 165.4 L339.6 165.4 L341.6 165.4 L343.6 165.4 L345.7 165.5 L347.7 165.5 L349.7 165.5 L351.7 165.5 L353.7 165.5 L355.7 165.5 L357.7 165.5 L359.7 165.5 L361.7 165.5 L363.7 165.5 L365.7 165.5 L367.7 165.5 L369.7 165.5 L371.7 165.5 L373.7 165.5 L375.7 165.5 L377.8 165.5 L379.8 165.5 L381.8 165.5 L383.8 165.6 L385.8 165.6 L387.8 165.6 L389.8 165.6 L391.8 165.6" fill="none" stroke="#cc0000" stroke-width="1.05" />
<path d="M145 163.5 L147 163.5 L149 163.5 L151 163.5 L153 163.5 L155 163.5 L157 163.5 L159 163.5 L161.1 163.5 L163.1 163.5 L165.1 163.5 L167.1 163.5 L169.1 163.5 L171.1 163.5 L173.1 163.5 L175.1 163.5 L177.1 163.5 L179.1 163.5 L181.1 163.6 L183.1 163.6 L185.1 163.6 L187.1 163.6 L189.1 163.6 L191.1 163.6 L193.2 163.6 L195.2 163.6 L197.2 163.6 L199.2 163.6 L201.2 163.6 L203.2 163.6 L205.2 163.6 L207.2 163.6 L209.2 163.6 L211.2 163.6 L213.2 163.6 L215.2 163.6 L217.2 163.7 L219.2 163.7 L221.2 163.7 L223.3 163.7 L225.3 163.7 L227.3 163.7 L229.3 163.7 L231.3 163.7 L233.3 163.7 L235.3 163.7 L237.3 163.8 L239.3 163.8 L241.3 163.8 L243.3 163.8 L245.3 163.8 L247.3 163.9 L249.3 163.9 L251.3 163.9 L253.4 163.9 L255.4 164 L257.4 164 L259.4 164 L261.4 164.1 L263.4 164.1 L265.4 164.2 L267.4 164.2 L269.4 164.3 L271.4 164.3 L273.4 164.4 L275.4 164.4 L277.4 164.4 L279.4 164.4 L281.4 164.5 L283.4 164.5 L285.5 164.5 L287.5 164.5 L289.5 164.5 L291.5 164.5 L293.5 164.6 L295.5 164.6 L297.5 164.6 L299.5 164.6 L301.5 164.6 L303.5 164.6 L305.5 164.6 L307.5 164.6 L309.5 164.6 L311.5 164.7 L313.5 164.7 L315.6 164.7 L317.6 164.7 L319.6 164.7 L321.6 164.7 L323.6 164.7 L325.6 164.7 L327.6 164.7 L329.6 164.7 L331.6 164.7 L333.6 164.7 L335.6 164.7 L337.6 164.7 L339.6 164.7 L341.6 164.7 L343.6 164.7 L345.7 164.7 L347.7 164.7 L349.7 164.8 L351.7 164.8 L353.7 164.8 L355.7 164.8 L357.7 164.8 L359.7 164.8 L361.7 164.8 L363.7 164.8 L365.7 164.8 L367.7 164.8 L369.7 164.8 L371.7 164.8 L373.7 164.8 L375.7 164.8 L377.8 164.8 L379.8 164.8 L381.8 164.8 L383.8 164.8 L385.8 164.8 L387.8 164.8 L389.8 164.8 L391.8 164.8" fill="none" stroke="#cc0000" stroke-width="1.05" />
<path d="M145 164.4 L147 164.4 L149 164.4 L151 164.4 L153 164.4 L155 164.4 L157 164.4 L159 164.4 L161.1 164.4 L163.1 164.4 L165.1 164.4 L167.1 164.4 L169.1 164.4 L171.1 164.4 L173.1 164.4 L175.1 164.4 L177.1 164.4 L179.1 164.4 L181.1 164.4 L183.1 164.4 L185.1 164.4 L187.1 164.4 L189.1 164.4 L191.1 164.4 L193.2 164.4 L195.2 164.4 L197.2 164.4 L199.2 164.4 L201.2 164.4 L203.2 164.4 L205.2 164.4 L207.2 164.4 L209.2 164.4 L211.2 164.4 L213.2 164.4 L215.2 164.4 L217.2 164.4 L219.2 164.4 L221.2 164.4 L223.3 164.4 L225.3 164.4 L227.3 164.4 L229.3 164.4 L231.3 164.4 L233.3 164.4 L235.3 164.4 L237.3 164.4 L239.3 164.4 L241.3 164.4 L243.3 164.4 L245.3 164.4 L247.3 164.4 L249.3 164.4 L251.3 164.3 L253.4 164.3 L255.4 164.3 L257.4 164.3 L259.4 164.3 L261.4 164.3 L263.4 164.3 L265.4 164.3 L267.4 164.3 L269.4 164.3 L271.4 164.3 L273.4 164.2 L275.4 164.2 L277.4 164.2 L279.4 164.2 L281.4 164.1 L283.4 164.1 L285.5 164.1 L287.5 164.1 L289.5 164.1 L291.5 164.1 L293.5 164 L295.5 164 L297.5 164 L299.5 164 L301.5 164 L303.5 164 L305.5 164 L307.5 164 L309.5 164 L311.5 163.9 L313.5 163.9 L315.6 163.9 L317.6 163.9 L319.6 163.9 L321.6 163.9 L323.6 163.9 L325.6 163.9 L327.6 163.9 L329.6 163.9 L331.6 163.9 L333.6 163.9 L335.6 163.9 L337.6 163.9 L339.6 163.9 L341.6 163.9 L343.6 163.9 L345.7 163.9 L347.7 163.9 L349.7 163.8 L351.7 163.8 L353.7 163.8 L355.7 163.8 L357.7 163.8 L359.7 163.8 L361.7 163.8 L363.7 163.8 L365.7 163.8 L367.7 163.8 L369.7 163.8 L371.7 163.8 L373.7 163.8 L375.7 163.8 L377.8 163.8 L379.8 163.8 L381.8 163.8 L383.8 163.8 L385.8 163.8 L387.8 163.8 L389.8 163.8 L391.8 163.8" fill="none" stroke="#cc0000" stroke-width="1.05" />
<path d="M145 165.2 L147 165.2 L149 165.2 L151 165.2 L153 165.2 L155 165.2 L157 165.2 L159 165.2 L161.1 165.2 L163.1 165.2 L165.1 165.2 L167.1 165.2 L169.1 165.2 L171.1 165.2 L173.1 165.2 L175.1 165.2 L177.1 165.2 L179.1 165.1 L181.1 165.1 L183.1 165.1 L185.1 165.1 L187.1 165.1 L189.1 165.1 L191.1 165.1 L193.2 165.1 L195.2 165.1 L197.2 165.1 L199.2 165.1 L201.2 165.1 L203.2 165.1 L205.2 165.1 L207.2 165.1 L209.2 165.1 L211.2 165.1 L213.2 165 L215.2 165 L217.2 165 L219.2 165 L221.2 165 L223.3 165 L225.3 165 L227.3 165 L229.3 165 L231.3 165 L233.3 164.9 L235.3 164.9 L237.3 164.9 L239.3 164.9 L241.3 164.9 L243.3 164.8 L245.3 164.8 L247.3 164.8 L249.3 164.8 L251.3 164.7 L253.4 164.7 L255.4 164.7 L257.4 164.6 L259.4 164.6 L261.4 164.5 L263.4 164.5 L265.4 164.4 L267.4 164.4 L269.4 164.3 L271.4 164.2 L273.4 164.1 L275.4 164 L277.4 164 L279.4 163.9 L281.4 163.8 L283.4 163.8 L285.5 163.7 L287.5 163.7 L289.5 163.6 L291.5 163.6 L293.5 163.5 L295.5 163.5 L297.5 163.5 L299.5 163.4 L301.5 163.4 L303.5 163.4 L305.5 163.3 L307.5 163.3 L309.5 163.3 L311.5 163.2 L313.5 163.2 L315.6 163.2 L317.6 163.2 L319.6 163.2 L321.6 163.1 L323.6 163.1 L325.6 163.1 L327.6 163.1 L329.6 163.1 L331.6 163 L333.6 163 L335.6 163 L337.6 163 L339.6 163 L341.6 163 L343.6 163 L345.7 163 L347.7 163 L349.7 162.9 L351.7 162.9 L353.7 162.9 L355.7 162.9 L357.7 162.9 L359.7 162.9 L361.7 162.9 L363.7 162.9 L365.7 162.9 L367.7 162.9 L369.7 162.9 L371.7 162.9 L373.7 162.9 L375.7 162.9 L377.8 162.9 L379.8 162.9 L381.8 162.9 L383.8 162.9 L385.8 162.9 L387.8 162.9 L389.8 162.8 L391.8 162.8" fill="none" stroke="#cc0000" stroke-width="1.05" />
<path d="M145 176 L147 176 L149 176 L151 176 L153.1 176 L155.1 176.1 L157.1 176.1 L159.1 176.1 L161.1 176.1 L163.1 176.1 L165.1 176.1 L167.2 176.1 L169.2 176.2 L171.2 176.2 L173.2 176.2 L175.2 176.2 L177.2 176.2 L179.2 176.2 L181.3 176.3 L183.3 176.3 L185.3 176.3 L187.3 176.3 L189.3 176.3 L191.3 176.4 L193.4 176.4 L195.4 176.4 L197.4 176.4 L199.4 176.5 L201.4 176.5 L203.4 176.5 L205.4 176.5 L207.5 176.6 L209.5 176.6 L211.5 176.6 L213.5 176.7 L215.5 176.7 L217.5 176.8 L219.5 176.8 L221.6 176.9 L223.6 176.9 L225.6 176.9 L227.6 177 L229.6 177.1 L231.6 177.1 L233.6 177.2 L235.7 177.3 L237.7 177.3 L239.7 177.4 L241.7 177.5 L243.7 177.6 L245.7 177.7 L247.7 177.8 L249.8 177.9 L251.8 178 L253.8 178.2 L255.8 178.3 L257.8 178.5 L259.8 178.7 L261.8 178.9 L263.9 179.2 L265.9 179.5 L267.9 179.8 L269.9 181.1 L271.9 181.2 L273.9 181.5 L276 181.7 L278 182 L280 182.3 L282 182.7 L284 183.1 L286 183.5 L288 184 L290.1 184.6 L292.1 185.3 L294.1 186 L296.1 186.7 L298.1 187.5 L300.1 188.4 L302.1 189.4 L304.2 190.4 L306.2 191.4 L308.2 192.5 L310.2 193.7 L312.2 194.9 L314.2 196.1 L316.2 197.4 L318.3 198.6 L320.3 200 L322.3 201.3 L324.3 202.7 L326.3 204.1 L328.3 205.5 L330.3 206.9 L332.4 208.3 L334.4 209.7 L336.4 211.2 L338.4 212.6 L340.4 214.1 L342.4 215.5 L344.4 217 L346.5 218.5 L348.5 220 L350.5 221.4 L352.5 222.9 L354.5 224.4 L356.5 225.9 L358.6 227.3 L360.6 228.8 L362.6 230.3 L364.6 231.8 L366.6 233.3 L368.6 234.8 L370.6 236.3 L372.7 237.8 L374.7 239.2 L376.7 240.7 L378.7 242.2 L380.7 243.7 L382.7 245.2 L384.7 246.7 L386.8 248.2 L388.8 249.7 L390.8 251.2 L392.8 252.7" fill="none" stroke="#cc0000" stroke-width="1.05" />
<path d="M145 176.9 L147 176.9 L149 176.9 L151 176.9 L153.1 176.9 L155.1 176.9 L157.1 177 L159.1 177 L161.1 177 L163.1 177 L165.1 177 L167.2 177 L169.2 177 L171.2 177 L173.2 177 L175.2 177.1 L177.2 177.1 L179.2 177.1 L181.3 177.1 L183.3 177.1 L185.3 177.1 L187.3 177.1 L189.3 177.2 L191.3 177.2 L193.4 177.2 L195.4 177.2 L197.4 177.2 L199.4 177.3 L201.4 177.3 L203.4 177.3 L205.4 177.3 L207.5 177.3 L209.5 177.4 L211.5 177.4 L213.5 177.4 L215.5 177.5 L217.5 177.5 L219.5 177.5 L221.6 177.6 L223.6 177.6 L225.6 177.6 L227.6 177.7 L229.6 177.7 L231.6 177.8 L233.6 177.8 L235.7 177.9 L237.7 177.9 L239.7 178 L241.7 178.1 L243.7 178.1 L245.7 178.2 L247.7 178.3 L249.8 178.4 L251.8 178.5 L253.8 178.6 L255.8 178.7 L257.8 178.9 L259.8 179 L261.8 179.2 L263.9 179.4 L265.9 179.6 L267.9 179.9 L269.9 180.4 L271.9 180.5 L273.9 180.6 L276 180.7 L278 180.9 L280 181.1 L282 181.3 L284 181.5 L286 181.9 L288 182.2 L290.1 182.6 L292.1 183.1 L294.1 183.7 L296.1 184.3 L298.1 185 L300.1 185.7 L302.1 186.6 L304.2 187.5 L306.2 188.5 L308.2 189.6 L310.2 190.7 L312.2 191.9 L314.2 193.1 L316.2 194.4 L318.3 195.7 L320.3 197 L322.3 198.4 L324.3 199.8 L326.3 201.2 L328.3 202.7 L330.3 204.1 L332.4 205.6 L334.4 207 L336.4 208.5 L338.4 210 L340.4 211.5 L342.4 213 L344.4 214.5 L346.5 216 L348.5 217.5 L350.5 219 L352.5 220.6 L354.5 222.1 L356.5 223.6 L358.6 225.1 L360.6 226.6 L362.6 228.1 L364.6 229.7 L366.6 231.2 L368.6 232.7 L370.6 234.2 L372.7 235.7 L374.7 237.3 L376.7 238.8 L378.7 240.3 L380.7 241.8 L382.7 243.3 L384.7 244.9 L386.8 246.4 L388.8 247.9 L390.8 249.4 L392.8 250.9" fill="none" stroke="#cc0000" stroke-width="1.05" />
<path d="M145 177.8 L147 177.8 L149 177.8 L151 177.8 L153.1 177.8 L155.1 177.8 L157.1 177.8 L159.1 177.8 L161.1 177.9 L163.1 177.9 L165.1 177.9 L167.2 177.9 L169.2 177.9 L171.2 177.9 L173.2 177.9 L175.2 177.9 L177.2 177.9 L179.2 177.9 L181.3 177.9 L183.3 178 L185.3 178 L187.3 178 L189.3 178 L191.3 178 L193.4 178 L195.4 178 L197.4 178 L199.4 178.1 L201.4 178.1 L203.4 178.1 L205.4 178.1 L207.5 178.1 L209.5 178.1 L211.5 178.2 L213.5 178.2 L215.5 178.2 L217.5 178.2 L219.5 178.2 L221.6 178.3 L223.6 178.3 L225.6 178.3 L227.6 178.4 L229.6 178.4 L231.6 178.4 L233.6 178.5 L235.7 178.5 L237.7 178.5 L239.7 178.6 L241.7 178.6 L243.7 178.7 L245.7 178.7 L247.7 178.8 L249.8 178.9 L251.8 178.9 L253.8 179 L255.8 179.1 L257.8 179.2 L259.8 179.3 L261.8 179.4 L263.9 179.6 L265.9 179.7 L267.9 179.9 L269.9 180.1 L271.9 180.2 L273.9 180.2 L276 180.3 L278 180.3 L280 180.4 L282 180.5 L284 180.7 L286 180.8 L288 181 L290.1 181.3 L292.1 181.6 L294.1 181.9 L296.1 182.4 L298.1 182.9 L300.1 183.5 L302.1 184.2 L304.2 184.9 L306.2 185.8 L308.2 186.8 L310.2 187.8 L312.2 188.9 L314.2 190.1 L316.2 191.4 L318.3 192.7 L320.3 194 L322.3 195.4 L324.3 196.8 L326.3 198.3 L328.3 199.7 L330.3 201.2 L332.4 202.7 L334.4 204.2 L336.4 205.7 L338.4 207.3 L340.4 208.8 L342.4 210.3 L344.4 211.9 L346.5 213.4 L348.5 214.9 L350.5 216.5 L352.5 218 L354.5 219.6 L356.5 221.1 L358.6 222.7 L360.6 224.2 L362.6 225.8 L364.6 227.3 L366.6 228.9 L368.6 230.4 L370.6 232 L372.7 233.5 L374.7 235.1 L376.7 236.6 L378.7 238.2 L380.7 239.7 L382.7 241.3 L384.7 242.8 L386.8 244.4 L388.8 245.9 L390.8 247.5 L392.8 249" fill="none" stroke="#cc0000" stroke-width="1.05" />
<path d="M145 178.7 L147 178.7 L149 178.7 L151 178.7 L153.1 178.7 L155.1 178.7 L157.1 178.7 L159.1 178.7 L161.1 178.7 L163.1 178.7 L165.1 178.7 L167.2 178.7 L169.2 178.8 L171.2 178.8 L173.2 178.8 L175.2 178.8 L177.2 178.8 L179.2 178.8 L181.3 178.8 L183.3 178.8 L185.3 178.8 L187.3 178.8 L189.3 178.8 L191.3 178.8 L193.4 178.8 L195.4 178.8 L197.4 178.8 L199.4 178.9 L201.4 178.9 L203.4 178.9 L205.4 178.9 L207.5 178.9 L209.5 178.9 L211.5 178.9 L213.5 178.9 L215.5 178.9 L217.5 178.9 L219.5 179 L221.6 179 L223.6 179 L225.6 179 L227.6 179 L229.6 179 L231.6 179.1 L233.6 179.1 L235.7 179.1 L237.7 179.1 L239.7 179.2 L241.7 179.2 L243.7 179.2 L245.7 179.2 L247.7 179.3 L249.8 179.3 L251.8 179.4 L253.8 179.4 L255.8 179.5 L257.8 179.5 L259.8 179.6 L261.8 179.7 L263.9 179.7 L265.9 179.8 L267.9 179.9 L269.9 180 L271.9 180 L273.9 180 L276 180.1 L278 180.1 L280 180.1 L282 180.1 L284 180.2 L286 180.3 L288 180.3 L290.1 180.4 L292.1 180.6 L294.1 180.8 L296.1 181 L298.1 181.3 L300.1 181.7 L302.1 182.1 L304.2 182.7 L306.2 183.4 L308.2 184.2 L310.2 185.1 L312.2 186.1 L314.2 187.2 L316.2 188.4 L318.3 189.6 L320.3 191 L322.3 192.4 L324.3 193.8 L326.3 195.3 L328.3 196.8 L330.3 198.3 L332.4 199.8 L334.4 201.4 L336.4 202.9 L338.4 204.5 L340.4 206 L342.4 207.6 L344.4 209.2 L346.5 210.8 L348.5 212.3 L350.5 213.9 L352.5 215.5 L354.5 217.1 L356.5 218.6 L358.6 220.2 L360.6 221.8 L362.6 223.4 L364.6 225 L366.6 226.6 L368.6 228.1 L370.6 229.7 L372.7 231.3 L374.7 232.9 L376.7 234.5 L378.7 236 L380.7 237.6 L382.7 239.2 L384.7 240.8 L386.8 242.4 L388.8 243.9 L390.8 245.5 L392.8 247.1" fill="none" stroke="#cc0000" stroke-width="1.05" />
<path d="M145 179.6 L147 179.6 L149 179.6 L151 179.6 L153.1 179.6 L155.1 179.6 L157.1 179.6 L159.1 179.6 L161.1 179.6 L163.1 179.6 L165.1 179.6 L167.2 179.6 L169.2 179.6 L171.2 179.6 L173.2 179.6 L175.2 179.6 L177.2 179.6 L179.2 179.6 L181.3 179.6 L183.3 179.6 L185.3 179.6 L187.3 179.6 L189.3 179.6 L191.3 179.6 L193.4 179.6 L195.4 179.6 L197.4 179.6 L199.4 179.6 L201.4 179.6 L203.4 179.7 L205.4 179.7 L207.5 179.7 L209.5 179.7 L211.5 179.7 L213.5 179.7 L215.5 179.7 L217.5 179.7 L219.5 179.7 L221.6 179.7 L223.6 179.7 L225.6 179.7 L227.6 179.7 L229.6 179.7 L231.6 179.7 L233.6 179.7 L235.7 179.7 L237.7 179.7 L239.7 179.7 L241.7 179.7 L243.7 179.8 L245.7 179.8 L247.7 179.8 L249.8 179.8 L251.8 179.8 L253.8 179.8 L255.8 179.8 L257.8 179.9 L259.8 179.9 L261.8 179.9 L263.9 179.9 L265.9 179.9 L267.9 180 L269.9 180 L271.9 180 L273.9 180 L276 180 L278 180 L280 180 L282 180 L284 180 L286 180 L288 180.1 L290.1 180.1 L292.1 180.1 L294.1 180.2 L296.1 180.3 L298.1 180.4 L300.1 180.5 L302.1 180.7 L304.2 181 L306.2 181.4 L308.2 181.9 L310.2 182.5 L312.2 183.3 L314.2 184.2 L316.2 185.3 L318.3 186.5 L320.3 187.8 L322.3 189.2 L324.3 190.6 L326.3 192.1 L328.3 193.6 L330.3 195.2 L332.4 196.7 L334.4 198.3 L336.4 199.9 L338.4 201.5 L340.4 203.1 L342.4 204.7 L344.4 206.3 L346.5 207.9 L348.5 209.5 L350.5 211.1 L352.5 212.7 L354.5 214.4 L356.5 216 L358.6 217.6 L360.6 219.2 L362.6 220.8 L364.6 222.4 L366.6 224 L368.6 225.6 L370.6 227.3 L372.7 228.9 L374.7 230.5 L376.7 232.1 L378.7 233.7 L380.7 235.3 L382.7 236.9 L384.7 238.5 L386.8 240.1 L388.8 241.8 L390.8 243.4 L392.8 245" fill="none" stroke="#cc0000" stroke-width="1.05" />
<path d="M145 180.5 L147 180.5 L149 180.5 L151 180.5 L153.1 180.5 L155.1 180.5 L157.1 180.5 L159.1 180.5 L161.1 180.5 L163.1 180.5 L165.1 180.5 L167.2 180.5 L169.2 180.5 L171.2 180.5 L173.2 180.5 L175.2 180.5 L177.2 180.5 L179.2 180.5 L181.3 180.5 L183.3 180.5 L185.3 180.5 L187.3 180.5 L189.3 180.5 L191.3 180.5 L193.4 180.5 L195.4 180.4 L197.4 180.4 L199.4 180.4 L201.4 180.4 L203.4 180.4 L205.4 180.4 L207.5 180.4 L209.5 180.4 L211.5 180.4 L213.5 180.4 L215.5 180.4 L217.5 180.4 L219.5 180.4 L221.6 180.4 L223.6 180.4 L225.6 180.4 L227.6 180.4 L229.6 180.4 L231.6 180.4 L233.6 180.4 L235.7 180.3 L237.7 180.3 L239.7 180.3 L241.7 180.3 L243.7 180.3 L245.7 180.3 L247.7 180.3 L249.8 180.3 L251.8 180.2 L253.8 180.2 L255.8 180.2 L257.8 180.2 L259.8 180.2 L261.8 180.1 L263.9 180.1 L265.9 180.1 L267.9 180 L269.9 180 L271.9 180 L273.9 180 L276 180 L278 180 L280 180 L282 180 L284 180 L286 180 L288 180 L290.1 180 L292.1 180 L294.1 180 L296.1 180 L298.1 180 L300.1 180.1 L302.1 180.1 L304.2 180.2 L306.2 180.3 L308.2 180.5 L310.2 180.7 L312.2 181.1 L314.2 181.7 L316.2 182.5 L318.3 183.5 L320.3 184.6 L322.3 185.9 L324.3 187.4 L326.3 188.9 L328.3 190.4 L330.3 192 L332.4 193.6 L334.4 195.2 L336.4 196.9 L338.4 198.5 L340.4 200.1 L342.4 201.8 L344.4 203.4 L346.5 205.1 L348.5 206.7 L350.5 208.3 L352.5 210 L354.5 211.6 L356.5 213.3 L358.6 214.9 L360.6 216.5 L362.6 218.2 L364.6 219.8 L366.6 221.5 L368.6 223.1 L370.6 224.8 L372.7 226.4 L374.7 228 L376.7 229.7 L378.7 231.3 L380.7 233 L382.7 234.6 L384.7 236.2 L386.8 237.9 L388.8 239.5 L390.8 241.2 L392.8 242.8" fill="none" stroke="#cc0000" stroke-width="1.05" />
<path d="M145 181 L147 181 L149 181 L151 181 L153 181 L155 181 L157 181 L159 181 L161.1 181 L163.1 181 L165.1 181 L167.1 181 L169.1 181 L171.1 181 L173.1 181 L175.1 181 L177.1 181 L179.1 181 L181.1 181 L183.1 181 L185.1 180.9 L187.1 180.9 L189.1 180.9 L191.1 180.9 L193.2 180.9 L195.2 180.9 L197.2 180.9 L199.2 180.9 L201.2 180.9 L203.2 180.9 L205.2 180.9 L207.2 180.9 L209.2 180.9 L211.2 180.9 L213.2 180.9 L215.2 180.9 L217.2 180.9 L219.2 180.9 L221.2 180.9 L223.3 180.8 L225.3 180.8 L227.3 180.8 L229.3 180.8 L231.3 180.8 L233.3 180.8 L235.3 180.8 L237.3 180.8 L239.3 180.8 L241.3 180.7 L243.3 180.7 L245.3 180.7 L247.3 180.7 L249.3 180.7 L251.3 180.6 L253.4 180.6 L255.4 180.6 L257.4 180.6 L259.4 180.5 L261.4 180.5 L263.4 180.5 L265.4 180.4 L267.4 180.3 L269.4 180.3 L271.4 180.3 L273.4 180.3 L275.4 180.3 L277.4 180.3 L279.4 180.3 L281.4 180.3 L283.4 180.3 L285.5 180.3 L287.5 180.4 L289.5 180.4 L291.5 180.4 L293.5 180.4 L295.5 180.4 L297.5 180.4 L299.5 180.4 L301.5 180.4 L303.5 180.4 L305.5 180.4 L307.5 180.4 L309.5 180.4 L311.5 180.4 L313.5 180.4 L315.6 180.4 L317.6 180.4 L319.6 180.4 L321.6 180.4 L323.6 180.4 L325.6 180.4 L327.6 180.4 L329.6 180.4 L331.6 180.4 L333.6 180.4 L335.6 180.4 L337.6 180.4 L339.6 180.4 L341.6 180.4 L343.6 180.4 L345.7 180.4 L347.7 180.4 L349.7 180.4 L351.7 180.4 L353.7 180.4 L355.7 180.4 L357.7 180.4 L359.7 180.4 L361.7 180.4 L363.7 180.4 L365.7 180.4 L367.7 180.4 L369.7 180.4 L371.7 180.4 L373.7 180.4 L375.7 180.4 L377.8 180.4 L379.8 180.4 L381.8 180.4 L383.8 180.4 L385.8 180.4 L387.8 180.4 L389.8 180.4 L391.8 180.4" fill="none" stroke="#cc0000" stroke-width="1.05" />
<path d="M145 180.4 L147 180.4 L149 180.4 L151 180.4 L153 180.4 L155 180.4 L157 180.4 L159 180.4 L161.1 180.4 L163.1 180.4 L165.1 180.4 L167.1 180.4 L169.1 180.4 L171.1 180.4 L173.1 180.4 L175.1 180.4 L177.1 180.4 L179.1 180.4 L181.1 180.4 L183.1 180.4 L185.1 180.4 L187.1 180.4 L189.1 180.4 L191.1 180.4 L193.2 180.4 L195.2 180.4 L197.2 180.4 L199.2 180.4 L201.2 180.4 L203.2 180.4 L205.2 180.4 L207.2 180.4 L209.2 180.4 L211.2 180.4 L213.2 180.3 L215.2 180.3 L217.2 180.3 L219.2 180.3 L221.2 180.3 L223.3 180.3 L225.3 180.3 L227.3 180.3 L229.3 180.3 L231.3 180.3 L233.3 180.3 L235.3 180.3 L237.3 180.3 L239.3 180.3 L241.3 180.3 L243.3 180.3 L245.3 180.3 L247.3 180.3 L249.3 180.3 L251.3 180.2 L253.4 180.2 L255.4 180.2 L257.4 180.2 L259.4 180.2 L261.4 180.2 L263.4 180.2 L265.4 180.1 L267.4 180.1 L269.4 180.1 L271.4 180 L273.4 179.9 L275.4 179.9 L277.4 179.8 L279.4 179.8 L281.4 179.7 L283.4 179.7 L285.5 179.7 L287.5 179.6 L289.5 179.6 L291.5 179.6 L293.5 179.5 L295.5 179.5 L297.5 179.5 L299.5 179.5 L301.5 179.4 L303.5 179.4 L305.5 179.4 L307.5 179.4 L309.5 179.4 L311.5 179.4 L313.5 179.4 L315.6 179.3 L317.6 179.3 L319.6 179.3 L321.6 179.3 L323.6 179.3 L325.6 179.3 L327.6 179.3 L329.6 179.3 L331.6 179.3 L333.6 179.3 L335.6 179.3 L337.6 179.3 L339.6 179.3 L341.6 179.2 L343.6 179.2 L345.7 179.2 L347.7 179.2 L349.7 179.2 L351.7 179.2 L353.7 179.2 L355.7 179.2 L357.7 179.2 L359.7 179.2 L361.7 179.2 L363.7 179.2 L365.7 179.2 L367.7 179.2 L369.7 179.2 L371.7 179.2 L373.7 179.2 L375.7 179.2 L377.8 179.2 L379.8 179.2 L381.8 179.2 L383.8 179.2 L385.8 179.2 L387.8 179.2 L389.8 179.2 L391.8 179.2" fill="none" stroke="#cc0000" stroke-width="1.05" />
<path d="M145 195.5 L147 195.5 L149 195.5 L151 195.5 L153 195.5 L155 195.5 L157 195.5 L159 195.5 L161 195.5 L163 195.5 L165 195.5 L167 195.5 L169 195.5 L171 195.5 L173 195.5 L175 195.5 L177 195.5 L179 195.5 L181 195.5 L183 195.5 L185 195.5 L187 195.5 L189 195.5 L191 195.5 L193 195.5 L195 195.5 L197 195.5 L199 195.5 L201 195.5 L203 195.5 L205 195.5 L207 195.5 L209 195.5 L211 195.5 L213 195.5 L215 195.5 L217 195.5 L219 195.5 L221 195.5 L223 195.5 L225 195.5 L227 195.5 L229 195.5 L231 195.5 L233 195.5 L235 195.5 L237 195.5 L239 195.5 L241 195.5 L243 195.5 L245 195.5 L247 195.5 L249 195.5 L251 195.5 L253 195.5 L255 195.5 L257 195.5 L259 195.5 L261 195.5 L263 195.5 L265 195.5 L267 195.5 L269 195.5 L271 195.5 L273 195.5 L275 195.5 L277 195.5 L279 195.5 L281 195.5 L283 195.5 L285 195.5 L287 195.5 L289 195.5 L291 195.5 L293 195.5 L295 195.5 L297 195.5 L299 195.5 L301 195.5 L303 195.5 L305 195.5 L307 195.5 L309 195.5 L311 195.5 L313 195.5 L315 195.5 L317 195.5 L319 195.5 L321 195.5 L323 195.5 L325 195.5 L327 195.5 L329 195.5 L331 195.5 L333 195.5 L335 195.5 L337 195.5 L339 195.5 L341 195.5 L343 195.5 L345 195.5 L347 195.5 L349 195.5 L351 195.5 L353 195.5 L355 195.5 L357 195.5 L359 195.5 L361 195.5 L363 195.5 L365 195.5 L367 195.5 L369 195.5 L371 195.5 L373 195.5 L375 195.5 L377 195.5 L379 195.5 L381 195.5 L383 195.5 L385 195.5 L387 195.5 L389 195.5 L391 195.5 L393 195.5" fill="none" stroke="#cc0000" stroke-width="1.05" />
</g>
<path d="M71 195.5H91.3" fill="none" stroke="#111" stroke-width="1.0"/>
<path d="M96.2 122.5H116.6M96.2 137.5H116.6M96.2 159.5H116.6M96.2 180.5H116.6M96.2 195.5H116.6" fill="none" stroke="#1f971f" stroke-width="1.3"/>
<path d="M120.8 54.5H141.4" stroke="#0808e0" stroke-width="1.1" stroke-opacity="1"/>
<path d="M120.8 71.5H141.4" stroke="#0808e0" stroke-width="1.1" stroke-opacity="1"/>
<path d="M120.8 79.5H141.4" stroke="#0808e0" stroke-width="1.1" stroke-opacity="1"/>
<path d="M120.8 80.5H141.4" stroke="#0808e0" stroke-width="1.1" stroke-opacity="1"/>
<path d="M120.8 81.5H141.4" stroke="#0808e0" stroke-width="1.1" stroke-opacity="1"/>
<path d="M120.8 82.5H141.4" stroke="#0808e0" stroke-width="1.1" stroke-opacity="1"/>
<path d="M120.8 83.3H141.4" stroke="#0808e0" stroke-width="1.1" stroke-opacity="0.8"/>
<path d="M120.8 90.5H141.4" stroke="#0808e0" stroke-width="1.1" stroke-opacity="1"/>
<path d="M120.8 101.5H141.4" stroke="#0808e0" stroke-width="1.1" stroke-opacity="1"/>
<path d="M120.8 104.5H141.4" stroke="#0808e0" stroke-width="1.1" stroke-opacity="1"/>
<path d="M120.8 106.5H141.4" stroke="#0808e0" stroke-width="1.1" stroke-opacity="0.35"/>
<path d="M120.8 109.5H141.4" stroke="#0808e0" stroke-width="1.1" stroke-opacity="0.6"/>
<path d="M120.8 115.5H141.4" stroke="#0808e0" stroke-width="1.1" stroke-opacity="1"/>
<path d="M120.8 118.5H141.4" stroke="#0808e0" stroke-width="1.1" stroke-opacity="1"/>
<path d="M120.8 121.5H141.4" stroke="#0808e0" stroke-width="1.1" stroke-opacity="1"/>
<path d="M120.8 122.5H141.4" stroke="#0808e0" stroke-width="1.1" stroke-opacity="1"/>
<path d="M120.8 123.5H141.4" stroke="#0808e0" stroke-width="1.1" stroke-opacity="0.9"/>
<path d="M120.8 124.5H141.4" stroke="#0808e0" stroke-width="1.1" stroke-opacity="1"/>
<path d="M120.8 125.3H141.4" stroke="#0808e0" stroke-width="1.1" stroke-opacity="0.6"/>
<path d="M120.8 128.5H141.4" stroke="#0808e0" stroke-width="1.1" stroke-opacity="1"/>
<path d="M120.8 131.5H141.4" stroke="#0808e0" stroke-width="1.1" stroke-opacity="1"/>
<path d="M120.8 133.5H141.4" stroke="#0808e0" stroke-width="1.1" stroke-opacity="1"/>
<path d="M120.8 134.5H141.4" stroke="#0808e0" stroke-width="1.1" stroke-opacity="1"/>
<path d="M120.8 135.5H141.4" stroke="#0808e0" stroke-width="1.1" stroke-opacity="0.85"/>
<path d="M120.8 136.5H141.4" stroke="#0808e0" stroke-width="1.1" stroke-opacity="1"/>
<path d="M120.8 137.5H141.4" stroke="#0808e0" stroke-width="1.1" stroke-opacity="1"/>
<path d="M120.8 138.5H141.4" stroke="#0808e0" stroke-width="1.1" stroke-opacity="0.9"/>
<path d="M120.8 139.3H141.4" stroke="#0808e0" stroke-width="1.1" stroke-opacity="0.6"/>
<path d="M120.8 141.5H141.4" stroke="#0808e0" stroke-width="1.1" stroke-opacity="1"/>
<path d="M120.8 142.5H141.4" stroke="#0808e0" stroke-width="1.1" stroke-opacity="1"/>
<path d="M120.8 143.3H141.4" stroke="#0808e0" stroke-width="1.1" stroke-opacity="0.7"/>
<path d="M120.8 146.5H141.4" stroke="#0808e0" stroke-width="1.1" stroke-opacity="1"/>
<path d="M120.8 150.5H141.4" stroke="#0808e0" stroke-width="1.1" stroke-opacity="0.45"/>
<path d="M120.8 153.5H141.4" stroke="#0808e0" stroke-width="1.1" stroke-opacity="0.9"/>
<path d="M120.8 154.5H141.4" stroke="#0808e0" stroke-width="1.1" stroke-opacity="1"/>
<path d="M120.8 155.5H141.4" stroke="#0808e0" stroke-width="1.1" stroke-opacity="0.8"/>
<path d="M120.8 157.5H141.4" stroke="#0808e0" stroke-width="1.1" stroke-opacity="1"/>
<path d="M120.8 158.5H141.4" stroke="#0808e0" stroke-width="1.1" stroke-opacity="1"/>
<path d="M120.8 159.5H141.4" stroke="#0808e0" stroke-width="1.1" stroke-opacity="1"/>
<path d="M120.8 160.5H141.4" stroke="#0808e0" stroke-width="1.1" stroke-opacity="1"/>
<path d="M120.8 161.5H141.4" stroke="#0808e0" stroke-width="1.1" stroke-opacity="1"/>
<path d="M120.8 162.5H141.4" stroke="#0808e0" stroke-width="1.1" stroke-opacity="1"/>
<path d="M120.8 163.3H141.4" stroke="#0808e0" stroke-width="1.1" stroke-opacity="0.7"/>
<path d="M120.8 168.5H141.4" stroke="#0808e0" stroke-width="1.1" stroke-opacity="0.45"/>
<path d="M120.8 171.5H141.4" stroke="#0808e0" stroke-width="1.1" stroke-opacity="0.45"/>
<path d="M120.8 174.5H141.4" stroke="#0808e0" stroke-width="1.1" stroke-opacity="1"/>
<path d="M120.8 176.5H141.4" stroke="#0808e0" stroke-width="1.1" stroke-opacity="0.6"/>
<path d="M120.8 179.5H141.4" stroke="#0808e0" stroke-width="1.1" stroke-opacity="1"/>
<path d="M120.8 180.5H141.4" stroke="#0808e0" stroke-width="1.1" stroke-opacity="1"/>
<path d="M120.8 181.3H141.4" stroke="#0808e0" stroke-width="1.1" stroke-opacity="0.5"/>
<path d="M120.8 184.5H141.4" stroke="#0808e0" stroke-width="1.1" stroke-opacity="0.8"/>
<path d="M120.8 186.5H141.4" stroke="#0808e0" stroke-width="1.1" stroke-opacity="0.8"/>
<path d="M120.8 188.5H141.4" stroke="#0808e0" stroke-width="1.1" stroke-opacity="0.8"/>
<path d="M120.8 190.5H141.4" stroke="#0808e0" stroke-width="1.1" stroke-opacity="0.8"/>
<path d="M120.8 193.5H141.4" stroke="#0808e0" stroke-width="1.1" stroke-opacity="0.8"/>
<path d="M120.8 195.5H141.4" stroke="#0808e0" stroke-width="1.1" stroke-opacity="1"/>
<rect x="63.0" y="13.65" width="330.4" height="242.45000000000002" fill="none" stroke="#000" stroke-width="1.55"/>
<path d="M63 256.1h6.1 M393.4 256.1h-6.1M63 244h3.1 M393.4 244h-3.1M63 231.9h3.1 M393.4 231.9h-3.1M63 219.7h3.1 M393.4 219.7h-3.1M63 207.6h3.1 M393.4 207.6h-3.1M63 195.5h6.1 M393.4 195.5h-6.1M63 183.4h3.1 M393.4 183.4h-3.1M63 171.3h3.1 M393.4 171.3h-3.1M63 159.1h3.1 M393.4 159.1h-3.1M63 147h3.1 M393.4 147h-3.1M63 134.9h6.1 M393.4 134.9h-6.1M63 122.8h3.1 M393.4 122.8h-3.1M63 110.6h3.1 M393.4 110.6h-3.1M63 98.5h3.1 M393.4 98.5h-3.1M63 86.4h3.1 M393.4 86.4h-3.1M63 74.3h6.1 M393.4 74.3h-6.1M63 62.2h3.1 M393.4 62.2h-3.1M63 50h3.1 M393.4 50h-3.1M63 37.9h3.1 M393.4 37.9h-3.1M63 25.8h3.1 M393.4 25.8h-3.1M63 13.7h6.1 M393.4 13.7h-6.1M145 13.7v6.1 M145 256.1v-6.1M165.7 13.7v3.1 M165.7 256.1v-3.1M186.4 13.7v6.1 M186.4 256.1v-6.1M207.1 13.7v3.1 M207.1 256.1v-3.1M227.8 13.7v6.1 M227.8 256.1v-6.1M248.5 13.7v3.1 M248.5 256.1v-3.1M269.2 13.7v6.1 M269.2 256.1v-6.1M289.9 13.7v3.1 M289.9 256.1v-3.1M310.6 13.7v6.1 M310.6 256.1v-6.1M331.3 13.7v3.1 M331.3 256.1v-3.1M352 13.7v6.1 M352 256.1v-6.1M372.7 13.7v3.1 M372.7 256.1v-3.1M393.4 13.7v6.1 M393.4 256.1v-6.1" stroke="#000" stroke-width="1.1" fill="none"/>
<text x="56" y="18.5" font-size="14.6" text-anchor="end" fill="#000" >30</text>
<text x="56" y="79.1" font-size="14.6" text-anchor="end" fill="#000" >20</text>
<text x="56" y="139.7" font-size="14.6" text-anchor="end" fill="#000" >10</text>
<text x="56" y="200.3" font-size="14.6" text-anchor="end" fill="#000" >0</text>
<text x="56" y="260.9" font-size="14.6" text-anchor="end" fill="#000" >-10</text>
<text x="145" y="276" font-size="14.6" text-anchor="middle" fill="#000" >(-4,3)</text>
<text x="186.4" y="276" font-size="14.6" text-anchor="middle" fill="#000" >(-3,2)</text>
<text x="227.8" y="276" font-size="14.6" text-anchor="middle" fill="#000" >(-2,1)</text>
<text x="269.2" y="276" font-size="14.6" text-anchor="middle" fill="#000" >(-1,0)</text>
<text x="310.6" y="276" font-size="14.6" text-anchor="middle" fill="#000" >(0,-1)</text>
<text x="352" y="276" font-size="14.6" text-anchor="middle" fill="#000" >(1,-2)</text>
<text x="393.4" y="276" font-size="14.6" text-anchor="middle" fill="#000" >(2,-3)</text>
<text x="228" y="298" font-size="14.6" text-anchor="middle" fill="#000" >(<tspan font-style="italic">J</tspan>,<tspan font-style="italic">K</tspan><tspan font-style="italic" font-size="11" dy="3.5">R</tspan><tspan dy="-3.5">)</tspan></text>
<text transform="translate(27 133) rotate(-90)" font-size="15" text-anchor="middle" fill="#000"><tspan font-style="italic">E</tspan>−<tspan font-style="italic">E</tspan><tspan font-size="12" dy="4.5">(27,0)</tspan></text>
<text x="76" y="36" font-size="14.5" text-anchor="start" fill="#000" ><tspan font-size="17">(a) </tspan><tspan font-style="italic">N</tspan>=27</text>
<text x="311.3" y="38" font-size="14.6" text-anchor="start" fill="#000" ><tspan font-style="italic">J</tspan>+<tspan font-style="italic">K</tspan><tspan font-style="italic" font-size="11" dy="4">R</tspan><tspan dy="-4"> = −1</tspan></text>
<text x="311.8" y="51.5" font-size="14.6" text-anchor="start" fill="#000" ><tspan font-style="italic">K</tspan><tspan font-style="italic" font-size="11" dy="4">I</tspan><tspan dy="-4"> = √3</tspan></text>
<text x="269" y="237.5" font-size="14.8" text-anchor="middle" fill="#cc0000" >(24,0)</text>
<text transform="translate(85.5 241) rotate(-90)" font-size="14.6" text-anchor="start" fill="#000">(27,0)</text>
<text transform="translate(110.5 241) rotate(-90)" font-size="14.6" text-anchor="start" fill="#1f971f">(25,1)</text>
<text transform="translate(135.5 241) rotate(-90)" font-size="14.6" text-anchor="start" fill="#0808e0">(23,2)</text>
<g clip-path="url(#cb)">
<path d="M63.0 446.5H393.4" stroke="#111" stroke-width="1.1" stroke-dasharray="5 3.66" fill="none"/>
<path d="M63.5 434.4 L65.9 434.4 L68.3 434.4 L70.6 434.4 L73 434.4 L75.4 434.5 L77.8 434.6 L80.2 434.7 L82.5 434.8 L84.9 435 L87.3 435.2 L89.7 435.4 L92 435.7 L94.4 435.9 L96.8 436.2 L99.2 436.5 L101.6 436.8 L103.9 437.2 L106.3 437.5 L108.7 437.9 L111.1 438.3 L113.5 438.7 L115.8 439.2 L118.2 439.6 L120.6 440.1 L123 440.5 L125.4 441 L127.7 441.5 L130.1 442 L132.5 442.6 L134.9 443.1 L137.2 443.6 L139.6 444.2 L142 444.7 L144.4 445.2 L146.8 445.8 L149.1 446.3 L151.5 446.9 L153.9 447.4 L156.3 448 L158.7 448.5 L161 449.1 L163.4 449.6 L165.8 450.1 L168.2 450.7 L170.6 451.2 L172.9 451.7 L175.3 452.1 L177.7 452.6 L180.1 453.1 L182.4 453.5 L184.8 454 L187.2 454.4 L189.6 454.8 L192 455.2 L194.3 455.5 L196.7 455.9 L199.1 456.2 L201.5 456.5 L203.9 456.8 L206.2 457 L208.6 457.3 L211 457.5 L213.4 457.7 L215.7 457.9 L218.1 458 L220.5 458.1 L222.9 458.2 L225.3 458.3 L227.6 458.3 L230 458.3 L232.4 458.3 L234.8 458.3 L237.2 458.3 L239.5 458.2 L241.9 458.1 L244.3 457.9 L246.7 457.8 L249.1 457.6 L251.4 457.4 L253.8 457.2 L256.2 456.9 L258.6 456.7 L260.9 456.4 L263.3 456 L265.7 455.7 L268.1 455.4 L270.5 455 L272.8 454.6 L275.2 454.2 L277.6 453.8 L280 453.3 L282.4 452.9 L284.7 452.4 L287.1 451.9 L289.5 451.4 L291.9 450.9 L294.3 450.4 L296.6 449.9 L299 449.4 L301.4 448.8 L303.8 448.3 L306.1 447.7 L308.5 447.2 L310.9 446.6 L313.3 446.1 L315.7 445.5 L318 445 L320.4 444.4 L322.8 443.9 L325.2 443.4 L327.6 442.8 L329.9 442.3 L332.3 441.8 L334.7 441.3 L337.1 440.8 L339.5 440.3 L341.8 439.9 L344.2 439.4 L346.6 439 L349 438.5 L351.3 438.1 L353.7 437.7 L356.1 437.4 L358.5 437 L360.9 436.7 L363.2 436.4 L365.6 436.1 L368 435.8 L370.4 435.5 L372.8 435.3 L375.1 435.1 L377.5 434.9 L379.9 434.8 L382.3 434.6 L384.7 434.5 L387 434.4 L389.4 434.4 L391.8 434.4 L394.2 434.3" fill="none" stroke="#1f971f" stroke-width="1.1" />
<path d="M63.5 416.4 L65.9 416.4 L68.3 416.4 L70.6 416.4 L73 416.5 L75.4 416.7 L77.8 416.9 L80.2 417.2 L82.5 417.6 L84.9 418 L87.3 418.5 L89.7 419 L92 419.6 L94.4 420.3 L96.8 421 L99.2 421.7 L101.6 422.5 L103.9 423.4 L106.3 424.3 L108.7 425.3 L111.1 426.3 L113.5 427.3 L115.8 428.4 L118.2 429.5 L120.6 430.7 L123 431.8 L125.4 433.1 L127.7 434.3 L130.1 435.6 L132.5 436.9 L134.9 438.2 L137.2 439.5 L139.6 440.9 L142 442.2 L144.4 443.6 L146.8 445 L149.1 446.3 L151.5 447.7 L153.9 449.1 L156.3 450.5 L158.7 451.8 L161 453.2 L163.4 454.5 L165.8 455.8 L168.2 457.1 L170.6 458.4 L172.9 459.6 L175.3 460.8 L177.7 462 L180.1 463.2 L182.4 464.3 L184.8 465.4 L187.2 466.4 L189.6 467.4 L192 468.4 L194.3 469.3 L196.7 470.2 L199.1 471 L201.5 471.7 L203.9 472.4 L206.2 473.1 L208.6 473.7 L211 474.2 L213.4 474.7 L215.7 475.1 L218.1 475.5 L220.5 475.8 L222.9 476 L225.3 476.2 L227.6 476.3 L230 476.3 L232.4 476.3 L234.8 476.3 L237.2 476.1 L239.5 475.9 L241.9 475.6 L244.3 475.3 L246.7 474.9 L249.1 474.5 L251.4 474 L253.8 473.4 L256.2 472.8 L258.6 472.1 L260.9 471.4 L263.3 470.6 L265.7 469.8 L268.1 468.9 L270.5 467.9 L272.8 467 L275.2 465.9 L277.6 464.9 L280 463.8 L282.4 462.6 L284.7 461.5 L287.1 460.3 L289.5 459 L291.9 457.8 L294.3 456.5 L296.6 455.2 L299 453.9 L301.4 452.5 L303.8 451.2 L306.1 449.8 L308.5 448.4 L310.9 447.1 L313.3 445.7 L315.7 444.3 L318 442.9 L320.4 441.6 L322.8 440.2 L325.2 438.9 L327.6 437.6 L329.9 436.3 L332.3 435 L334.7 433.7 L337.1 432.5 L339.5 431.3 L341.8 430.1 L344.2 429 L346.6 427.9 L349 426.8 L351.3 425.8 L353.7 424.8 L356.1 423.9 L358.5 423 L360.9 422.1 L363.2 421.4 L365.6 420.6 L368 419.9 L370.4 419.3 L372.8 418.7 L375.1 418.2 L377.5 417.8 L379.9 417.4 L382.3 417.1 L384.7 416.8 L387 416.6 L389.4 416.4 L391.8 416.4 L394.2 416.3" fill="none" stroke="#1f971f" stroke-width="1.1" />
<path d="M63.5 402 L65.9 401.9 L68.3 401.9 L70.6 401.9 L73 402.1 L75.4 402.3 L77.8 402.7 L80.2 403.1 L82.5 403.7 L84.9 404.3 L87.3 405 L89.7 405.8 L92 406.7 L94.4 407.6 L96.8 408.7 L99.2 409.8 L101.6 411 L103.9 412.3 L106.3 413.6 L108.7 415.1 L111.1 416.6 L113.5 418.1 L115.8 419.7 L118.2 421.4 L120.6 423.1 L123 424.8 L125.4 426.6 L127.7 428.5 L130.1 430.4 L132.5 432.3 L134.9 434.3 L137.2 436.2 L139.6 438.2 L142 440.2 L144.4 442.3 L146.8 444.3 L149.1 446.3 L151.5 448.4 L153.9 450.4 L156.3 452.4 L158.7 454.5 L161 456.5 L163.4 458.4 L165.8 460.4 L168.2 462.3 L170.6 464.2 L172.9 466 L175.3 467.8 L177.7 469.6 L180.1 471.3 L182.4 473 L184.8 474.6 L187.2 476.1 L189.6 477.6 L192 479 L194.3 480.4 L196.7 481.7 L199.1 482.9 L201.5 484 L203.9 485 L206.2 486 L208.6 486.9 L211 487.7 L213.4 488.4 L215.7 489 L218.1 489.6 L220.5 490 L222.9 490.4 L225.3 490.6 L227.6 490.8 L230 490.8 L232.4 490.8 L234.8 490.7 L237.2 490.5 L239.5 490.2 L241.9 489.8 L244.3 489.3 L246.7 488.7 L249.1 488.1 L251.4 487.3 L253.8 486.5 L256.2 485.6 L258.6 484.6 L260.9 483.5 L263.3 482.3 L265.7 481.1 L268.1 479.8 L270.5 478.4 L272.8 476.9 L275.2 475.4 L277.6 473.8 L280 472.2 L282.4 470.5 L284.7 468.8 L287.1 467 L289.5 465.2 L291.9 463.3 L294.3 461.4 L296.6 459.5 L299 457.5 L301.4 455.5 L303.8 453.5 L306.1 451.5 L308.5 449.5 L310.9 447.4 L313.3 445.4 L315.7 443.3 L318 441.3 L320.4 439.3 L322.8 437.3 L325.2 435.3 L327.6 433.3 L329.9 431.4 L332.3 429.5 L334.7 427.6 L337.1 425.8 L339.5 424 L341.8 422.3 L344.2 420.6 L346.6 418.9 L349 417.4 L351.3 415.8 L353.7 414.4 L356.1 413 L358.5 411.7 L360.9 410.4 L363.2 409.3 L365.6 408.2 L368 407.2 L370.4 406.3 L372.8 405.4 L375.1 404.7 L377.5 404 L379.9 403.4 L382.3 402.9 L384.7 402.5 L387 402.2 L389.4 402 L391.8 401.9 L394.2 401.9" fill="none" stroke="#1f971f" stroke-width="1.1" />
<path d="M63.5 390.2 L65.9 390.1 L68.3 390.1 L70.6 390.1 L73 390.4 L75.4 390.7 L77.8 391.1 L80.2 391.7 L82.5 392.4 L84.9 393.1 L87.3 394 L89.7 395 L92 396.2 L94.4 397.4 L96.8 398.7 L99.2 400.1 L101.6 401.7 L103.9 403.3 L106.3 405 L108.7 406.8 L111.1 408.6 L113.5 410.6 L115.8 412.6 L118.2 414.7 L120.6 416.9 L123 419.1 L125.4 421.4 L127.7 423.8 L130.1 426.2 L132.5 428.6 L134.9 431 L137.2 433.5 L139.6 436.1 L142 438.6 L144.4 441.2 L146.8 443.8 L149.1 446.3 L151.5 448.9 L153.9 451.5 L156.3 454.1 L158.7 456.6 L161 459.1 L163.4 461.6 L165.8 464.1 L168.2 466.5 L170.6 468.9 L172.9 471.3 L175.3 473.5 L177.7 475.8 L180.1 477.9 L182.4 480 L184.8 482.1 L187.2 484 L189.6 485.9 L192 487.7 L194.3 489.4 L196.7 491 L199.1 492.6 L201.5 494 L203.9 495.3 L206.2 496.5 L208.6 497.6 L211 498.7 L213.4 499.6 L215.7 500.3 L218.1 501 L220.5 501.6 L222.9 502 L225.3 502.3 L227.6 502.6 L230 502.6 L232.4 502.6 L234.8 502.5 L237.2 502.2 L239.5 501.8 L241.9 501.3 L244.3 500.7 L246.7 500 L249.1 499.1 L251.4 498.2 L253.8 497.1 L256.2 496 L258.6 494.7 L260.9 493.3 L263.3 491.8 L265.7 490.3 L268.1 488.6 L270.5 486.9 L272.8 485 L275.2 483.1 L277.6 481.1 L280 479.1 L282.4 476.9 L284.7 474.7 L287.1 472.5 L289.5 470.2 L291.9 467.8 L294.3 465.4 L296.6 462.9 L299 460.5 L301.4 457.9 L303.8 455.4 L306.1 452.8 L308.5 450.3 L310.9 447.7 L313.3 445.1 L315.7 442.5 L318 440 L320.4 437.4 L322.8 434.9 L325.2 432.4 L327.6 429.9 L329.9 427.4 L332.3 425 L334.7 422.6 L337.1 420.3 L339.5 418.1 L341.8 415.9 L344.2 413.7 L346.6 411.7 L349 409.7 L351.3 407.8 L353.7 405.9 L356.1 404.2 L358.5 402.5 L360.9 400.9 L363.2 399.4 L365.6 398.1 L368 396.8 L370.4 395.6 L372.8 394.6 L375.1 393.6 L377.5 392.8 L379.9 392 L382.3 391.4 L384.7 390.9 L387 390.5 L389.4 390.2 L391.8 390.1 L394.2 390.1" fill="none" stroke="#1f971f" stroke-width="1.1" />
<path d="M65.4 422.4l2.35 -2.35l2.35 2.35l-2.35 2.35zM65.4 417.2l2.35 -2.35l2.35 2.35l-2.35 2.35zM65.4 408.5l2.35 -2.35l2.35 2.35l-2.35 2.35zM65.4 400.2l2.35 -2.35l2.35 2.35l-2.35 2.35zM65.4 397.1l2.35 -2.35l2.35 2.35l-2.35 2.35zM65.4 393.9l2.35 -2.35l2.35 2.35l-2.35 2.35zM65.4 391l2.35 -2.35l2.35 2.35l-2.35 2.35zM65.4 387.5l2.35 -2.35l2.35 2.35l-2.35 2.35zM65.4 385.2l2.35 -2.35l2.35 2.35l-2.35 2.35zM65.4 383l2.35 -2.35l2.35 2.35l-2.35 2.35zM65.4 380.7l2.35 -2.35l2.35 2.35l-2.35 2.35zM65.4 377.6l2.35 -2.35l2.35 2.35l-2.35 2.35zM65.4 375.1l2.35 -2.35l2.35 2.35l-2.35 2.35zM65.4 372l2.35 -2.35l2.35 2.35l-2.35 2.35zM65.4 369l2.35 -2.35l2.35 2.35l-2.35 2.35zM65.4 366.3l2.35 -2.35l2.35 2.35l-2.35 2.35zM65.4 363.7l2.35 -2.35l2.35 2.35l-2.35 2.35zM65.4 360.9l2.35 -2.35l2.35 2.35l-2.35 2.35zM65.4 357.9l2.35 -2.35l2.35 2.35l-2.35 2.35zM65.4 355.3l2.35 -2.35l2.35 2.35l-2.35 2.35zM65.4 352.6l2.35 -2.35l2.35 2.35l-2.35 2.35zM65.4 349l2.35 -2.35l2.35 2.35l-2.35 2.35zM65.4 345.9l2.35 -2.35l2.35 2.35l-2.35 2.35zM65.4 341.8l2.35 -2.35l2.35 2.35l-2.35 2.35zM65.4 340.4l2.35 -2.35l2.35 2.35l-2.35 2.35zM65.4 338.1l2.35 -2.35l2.35 2.35l-2.35 2.35zM65.4 335.9l2.35 -2.35l2.35 2.35l-2.35 2.35zM65.4 333.8l2.35 -2.35l2.35 2.35l-2.35 2.35zM70.8 422.5l2.35 -2.35l2.35 2.35l-2.35 2.35zM70.8 417.3l2.35 -2.35l2.35 2.35l-2.35 2.35zM70.8 408.7l2.35 -2.35l2.35 2.35l-2.35 2.35zM70.8 400.4l2.35 -2.35l2.35 2.35l-2.35 2.35zM70.8 397.4l2.35 -2.35l2.35 2.35l-2.35 2.35zM70.8 394.2l2.35 -2.35l2.35 2.35l-2.35 2.35zM70.8 391.3l2.35 -2.35l2.35 2.35l-2.35 2.35zM70.8 387.9l2.35 -2.35l2.35 2.35l-2.35 2.35zM70.8 385.5l2.35 -2.35l2.35 2.35l-2.35 2.35zM70.8 383.3l2.35 -2.35l2.35 2.35l-2.35 2.35zM70.8 381.1l2.35 -2.35l2.35 2.35l-2.35 2.35zM70.8 378l2.35 -2.35l2.35 2.35l-2.35 2.35zM70.8 375.4l2.35 -2.35l2.35 2.35l-2.35 2.35zM70.8 372.4l2.35 -2.35l2.35 2.35l-2.35 2.35zM70.8 369.5l2.35 -2.35l2.35 2.35l-2.35 2.35zM70.8 366.7l2.35 -2.35l2.35 2.35l-2.35 2.35zM70.8 364.1l2.35 -2.35l2.35 2.35l-2.35 2.35zM70.8 361.3l2.35 -2.35l2.35 2.35l-2.35 2.35zM70.8 358.4l2.35 -2.35l2.35 2.35l-2.35 2.35zM70.8 355.8l2.35 -2.35l2.35 2.35l-2.35 2.35zM70.8 353.1l2.35 -2.35l2.35 2.35l-2.35 2.35zM70.8 349.6l2.35 -2.35l2.35 2.35l-2.35 2.35zM70.8 346.4l2.35 -2.35l2.35 2.35l-2.35 2.35zM70.8 342.4l2.35 -2.35l2.35 2.35l-2.35 2.35zM70.8 340.9l2.35 -2.35l2.35 2.35l-2.35 2.35zM70.8 338.7l2.35 -2.35l2.35 2.35l-2.35 2.35zM70.8 336.5l2.35 -2.35l2.35 2.35l-2.35 2.35zM70.8 334.4l2.35 -2.35l2.35 2.35l-2.35 2.35zM76.3 422.9l2.35 -2.35l2.35 2.35l-2.35 2.35zM76.3 417.8l2.35 -2.35l2.35 2.35l-2.35 2.35zM76.3 409.3l2.35 -2.35l2.35 2.35l-2.35 2.35zM76.3 401.2l2.35 -2.35l2.35 2.35l-2.35 2.35zM76.3 398.2l2.35 -2.35l2.35 2.35l-2.35 2.35zM76.3 395.1l2.35 -2.35l2.35 2.35l-2.35 2.35zM76.3 392.2l2.35 -2.35l2.35 2.35l-2.35 2.35zM76.3 388.8l2.35 -2.35l2.35 2.35l-2.35 2.35zM76.3 386.5l2.35 -2.35l2.35 2.35l-2.35 2.35zM76.3 384.3l2.35 -2.35l2.35 2.35l-2.35 2.35zM76.3 382.2l2.35 -2.35l2.35 2.35l-2.35 2.35zM76.3 379.1l2.35 -2.35l2.35 2.35l-2.35 2.35zM76.3 376.6l2.35 -2.35l2.35 2.35l-2.35 2.35zM76.3 373.6l2.35 -2.35l2.35 2.35l-2.35 2.35zM76.3 370.7l2.35 -2.35l2.35 2.35l-2.35 2.35zM76.3 368l2.35 -2.35l2.35 2.35l-2.35 2.35zM76.3 365.5l2.35 -2.35l2.35 2.35l-2.35 2.35zM76.3 362.7l2.35 -2.35l2.35 2.35l-2.35 2.35zM76.3 359.8l2.35 -2.35l2.35 2.35l-2.35 2.35zM76.3 357.3l2.35 -2.35l2.35 2.35l-2.35 2.35zM76.3 354.6l2.35 -2.35l2.35 2.35l-2.35 2.35zM76.3 351.1l2.35 -2.35l2.35 2.35l-2.35 2.35zM76.3 348.1l2.35 -2.35l2.35 2.35l-2.35 2.35zM76.3 344.1l2.35 -2.35l2.35 2.35l-2.35 2.35zM76.3 342.7l2.35 -2.35l2.35 2.35l-2.35 2.35zM76.3 340.5l2.35 -2.35l2.35 2.35l-2.35 2.35zM76.3 338.3l2.35 -2.35l2.35 2.35l-2.35 2.35zM76.3 336.2l2.35 -2.35l2.35 2.35l-2.35 2.35zM81.7 423.6l2.35 -2.35l2.35 2.35l-2.35 2.35zM81.7 418.6l2.35 -2.35l2.35 2.35l-2.35 2.35zM81.7 410.3l2.35 -2.35l2.35 2.35l-2.35 2.35zM81.7 402.4l2.35 -2.35l2.35 2.35l-2.35 2.35zM81.7 399.5l2.35 -2.35l2.35 2.35l-2.35 2.35zM81.7 396.5l2.35 -2.35l2.35 2.35l-2.35 2.35zM81.7 393.7l2.35 -2.35l2.35 2.35l-2.35 2.35zM81.7 390.4l2.35 -2.35l2.35 2.35l-2.35 2.35zM81.7 388.2l2.35 -2.35l2.35 2.35l-2.35 2.35zM81.7 386.1l2.35 -2.35l2.35 2.35l-2.35 2.35zM81.7 384l2.35 -2.35l2.35 2.35l-2.35 2.35zM81.7 381l2.35 -2.35l2.35 2.35l-2.35 2.35zM81.7 378.5l2.35 -2.35l2.35 2.35l-2.35 2.35zM81.7 375.7l2.35 -2.35l2.35 2.35l-2.35 2.35zM81.7 372.8l2.35 -2.35l2.35 2.35l-2.35 2.35zM81.7 370.2l2.35 -2.35l2.35 2.35l-2.35 2.35zM81.7 367.7l2.35 -2.35l2.35 2.35l-2.35 2.35zM81.7 365.1l2.35 -2.35l2.35 2.35l-2.35 2.35zM81.7 362.2l2.35 -2.35l2.35 2.35l-2.35 2.35zM81.7 359.8l2.35 -2.35l2.35 2.35l-2.35 2.35zM81.7 357.2l2.35 -2.35l2.35 2.35l-2.35 2.35zM81.7 353.8l2.35 -2.35l2.35 2.35l-2.35 2.35zM81.7 350.8l2.35 -2.35l2.35 2.35l-2.35 2.35zM81.7 347l2.35 -2.35l2.35 2.35l-2.35 2.35zM81.7 345.6l2.35 -2.35l2.35 2.35l-2.35 2.35zM81.7 343.4l2.35 -2.35l2.35 2.35l-2.35 2.35zM81.7 341.3l2.35 -2.35l2.35 2.35l-2.35 2.35zM81.7 339.3l2.35 -2.35l2.35 2.35l-2.35 2.35zM87.1 424.5l2.35 -2.35l2.35 2.35l-2.35 2.35zM87.1 419.7l2.35 -2.35l2.35 2.35l-2.35 2.35zM87.1 411.7l2.35 -2.35l2.35 2.35l-2.35 2.35zM87.1 404.2l2.35 -2.35l2.35 2.35l-2.35 2.35zM87.1 401.4l2.35 -2.35l2.35 2.35l-2.35 2.35zM87.1 398.5l2.35 -2.35l2.35 2.35l-2.35 2.35zM87.1 395.8l2.35 -2.35l2.35 2.35l-2.35 2.35zM87.1 392.6l2.35 -2.35l2.35 2.35l-2.35 2.35zM87.1 390.5l2.35 -2.35l2.35 2.35l-2.35 2.35zM87.1 388.4l2.35 -2.35l2.35 2.35l-2.35 2.35zM87.1 386.4l2.35 -2.35l2.35 2.35l-2.35 2.35zM87.1 383.6l2.35 -2.35l2.35 2.35l-2.35 2.35zM87.1 381.2l2.35 -2.35l2.35 2.35l-2.35 2.35zM87.1 378.5l2.35 -2.35l2.35 2.35l-2.35 2.35zM87.1 375.7l2.35 -2.35l2.35 2.35l-2.35 2.35zM87.1 373.2l2.35 -2.35l2.35 2.35l-2.35 2.35zM87.1 370.8l2.35 -2.35l2.35 2.35l-2.35 2.35zM87.1 368.3l2.35 -2.35l2.35 2.35l-2.35 2.35zM87.1 365.6l2.35 -2.35l2.35 2.35l-2.35 2.35zM87.1 363.2l2.35 -2.35l2.35 2.35l-2.35 2.35zM87.1 360.7l2.35 -2.35l2.35 2.35l-2.35 2.35zM87.1 357.4l2.35 -2.35l2.35 2.35l-2.35 2.35zM87.1 354.6l2.35 -2.35l2.35 2.35l-2.35 2.35zM87.1 350.9l2.35 -2.35l2.35 2.35l-2.35 2.35zM87.1 349.5l2.35 -2.35l2.35 2.35l-2.35 2.35zM87.1 347.5l2.35 -2.35l2.35 2.35l-2.35 2.35zM87.1 345.5l2.35 -2.35l2.35 2.35l-2.35 2.35zM87.1 343.5l2.35 -2.35l2.35 2.35l-2.35 2.35zM92.6 425.6l2.35 -2.35l2.35 2.35l-2.35 2.35zM92.6 421.1l2.35 -2.35l2.35 2.35l-2.35 2.35zM92.6 413.5l2.35 -2.35l2.35 2.35l-2.35 2.35zM92.6 406.4l2.35 -2.35l2.35 2.35l-2.35 2.35zM92.6 403.7l2.35 -2.35l2.35 2.35l-2.35 2.35zM92.6 400.9l2.35 -2.35l2.35 2.35l-2.35 2.35zM92.6 398.4l2.35 -2.35l2.35 2.35l-2.35 2.35zM92.6 395.4l2.35 -2.35l2.35 2.35l-2.35 2.35zM92.6 393.4l2.35 -2.35l2.35 2.35l-2.35 2.35zM92.6 391.4l2.35 -2.35l2.35 2.35l-2.35 2.35zM92.6 389.5l2.35 -2.35l2.35 2.35l-2.35 2.35zM92.6 386.8l2.35 -2.35l2.35 2.35l-2.35 2.35zM92.6 384.6l2.35 -2.35l2.35 2.35l-2.35 2.35zM92.6 382l2.35 -2.35l2.35 2.35l-2.35 2.35zM92.6 379.4l2.35 -2.35l2.35 2.35l-2.35 2.35zM92.6 377l2.35 -2.35l2.35 2.35l-2.35 2.35zM92.6 374.8l2.35 -2.35l2.35 2.35l-2.35 2.35zM92.6 372.3l2.35 -2.35l2.35 2.35l-2.35 2.35zM92.6 369.8l2.35 -2.35l2.35 2.35l-2.35 2.35zM92.6 367.5l2.35 -2.35l2.35 2.35l-2.35 2.35zM92.6 365.1l2.35 -2.35l2.35 2.35l-2.35 2.35zM92.6 362.1l2.35 -2.35l2.35 2.35l-2.35 2.35zM92.6 359.3l2.35 -2.35l2.35 2.35l-2.35 2.35zM92.6 355.8l2.35 -2.35l2.35 2.35l-2.35 2.35zM92.6 354.6l2.35 -2.35l2.35 2.35l-2.35 2.35zM92.6 352.6l2.35 -2.35l2.35 2.35l-2.35 2.35zM92.6 350.7l2.35 -2.35l2.35 2.35l-2.35 2.35zM92.6 348.8l2.35 -2.35l2.35 2.35l-2.35 2.35zM98 427l2.35 -2.35l2.35 2.35l-2.35 2.35zM98 422.7l2.35 -2.35l2.35 2.35l-2.35 2.35zM98 415.7l2.35 -2.35l2.35 2.35l-2.35 2.35zM98 409l2.35 -2.35l2.35 2.35l-2.35 2.35zM98 406.5l2.35 -2.35l2.35 2.35l-2.35 2.35zM98 403.9l2.35 -2.35l2.35 2.35l-2.35 2.35zM98 401.6l2.35 -2.35l2.35 2.35l-2.35 2.35zM98 398.8l2.35 -2.35l2.35 2.35l-2.35 2.35zM98 396.9l2.35 -2.35l2.35 2.35l-2.35 2.35zM98 395.1l2.35 -2.35l2.35 2.35l-2.35 2.35zM98 393.3l2.35 -2.35l2.35 2.35l-2.35 2.35zM98 390.8l2.35 -2.35l2.35 2.35l-2.35 2.35zM98 388.7l2.35 -2.35l2.35 2.35l-2.35 2.35zM98 386.2l2.35 -2.35l2.35 2.35l-2.35 2.35zM98 383.8l2.35 -2.35l2.35 2.35l-2.35 2.35zM98 381.6l2.35 -2.35l2.35 2.35l-2.35 2.35zM98 379.5l2.35 -2.35l2.35 2.35l-2.35 2.35zM98 377.2l2.35 -2.35l2.35 2.35l-2.35 2.35zM98 374.8l2.35 -2.35l2.35 2.35l-2.35 2.35zM98 372.7l2.35 -2.35l2.35 2.35l-2.35 2.35zM98 370.5l2.35 -2.35l2.35 2.35l-2.35 2.35zM98 367.6l2.35 -2.35l2.35 2.35l-2.35 2.35zM98 365.1l2.35 -2.35l2.35 2.35l-2.35 2.35zM98 361.8l2.35 -2.35l2.35 2.35l-2.35 2.35zM98 360.6l2.35 -2.35l2.35 2.35l-2.35 2.35zM98 358.8l2.35 -2.35l2.35 2.35l-2.35 2.35zM98 357l2.35 -2.35l2.35 2.35l-2.35 2.35zM98 355.3l2.35 -2.35l2.35 2.35l-2.35 2.35zM103.4 428.6l2.35 -2.35l2.35 2.35l-2.35 2.35zM103.4 424.7l2.35 -2.35l2.35 2.35l-2.35 2.35zM103.4 418.2l2.35 -2.35l2.35 2.35l-2.35 2.35zM103.4 412l2.35 -2.35l2.35 2.35l-2.35 2.35zM103.4 409.8l2.35 -2.35l2.35 2.35l-2.35 2.35zM103.4 407.4l2.35 -2.35l2.35 2.35l-2.35 2.35zM103.4 405.2l2.35 -2.35l2.35 2.35l-2.35 2.35zM103.4 402.6l2.35 -2.35l2.35 2.35l-2.35 2.35zM103.4 400.9l2.35 -2.35l2.35 2.35l-2.35 2.35zM103.4 399.2l2.35 -2.35l2.35 2.35l-2.35 2.35zM103.4 397.6l2.35 -2.35l2.35 2.35l-2.35 2.35zM103.4 395.3l2.35 -2.35l2.35 2.35l-2.35 2.35zM103.4 393.4l2.35 -2.35l2.35 2.35l-2.35 2.35zM103.4 391.1l2.35 -2.35l2.35 2.35l-2.35 2.35zM103.4 388.9l2.35 -2.35l2.35 2.35l-2.35 2.35zM103.4 386.8l2.35 -2.35l2.35 2.35l-2.35 2.35zM103.4 384.9l2.35 -2.35l2.35 2.35l-2.35 2.35zM103.4 382.8l2.35 -2.35l2.35 2.35l-2.35 2.35zM103.4 380.6l2.35 -2.35l2.35 2.35l-2.35 2.35zM103.4 378.7l2.35 -2.35l2.35 2.35l-2.35 2.35zM103.4 376.7l2.35 -2.35l2.35 2.35l-2.35 2.35zM103.4 374l2.35 -2.35l2.35 2.35l-2.35 2.35zM103.4 371.7l2.35 -2.35l2.35 2.35l-2.35 2.35zM103.4 368.7l2.35 -2.35l2.35 2.35l-2.35 2.35zM103.4 367.6l2.35 -2.35l2.35 2.35l-2.35 2.35zM103.4 365.9l2.35 -2.35l2.35 2.35l-2.35 2.35zM103.4 364.3l2.35 -2.35l2.35 2.35l-2.35 2.35zM103.4 362.7l2.35 -2.35l2.35 2.35l-2.35 2.35zM108.9 430.3l2.35 -2.35l2.35 2.35l-2.35 2.35zM108.9 426.8l2.35 -2.35l2.35 2.35l-2.35 2.35zM108.9 421l2.35 -2.35l2.35 2.35l-2.35 2.35zM108.9 415.4l2.35 -2.35l2.35 2.35l-2.35 2.35zM108.9 413.4l2.35 -2.35l2.35 2.35l-2.35 2.35zM108.9 411.3l2.35 -2.35l2.35 2.35l-2.35 2.35zM108.9 409.3l2.35 -2.35l2.35 2.35l-2.35 2.35zM108.9 407l2.35 -2.35l2.35 2.35l-2.35 2.35zM108.9 405.4l2.35 -2.35l2.35 2.35l-2.35 2.35zM108.9 403.9l2.35 -2.35l2.35 2.35l-2.35 2.35zM108.9 402.5l2.35 -2.35l2.35 2.35l-2.35 2.35zM108.9 400.4l2.35 -2.35l2.35 2.35l-2.35 2.35zM108.9 398.6l2.35 -2.35l2.35 2.35l-2.35 2.35zM108.9 396.6l2.35 -2.35l2.35 2.35l-2.35 2.35zM108.9 394.6l2.35 -2.35l2.35 2.35l-2.35 2.35zM108.9 392.8l2.35 -2.35l2.35 2.35l-2.35 2.35zM108.9 391l2.35 -2.35l2.35 2.35l-2.35 2.35zM108.9 389.2l2.35 -2.35l2.35 2.35l-2.35 2.35zM108.9 387.2l2.35 -2.35l2.35 2.35l-2.35 2.35zM108.9 385.4l2.35 -2.35l2.35 2.35l-2.35 2.35zM108.9 383.6l2.35 -2.35l2.35 2.35l-2.35 2.35zM108.9 381.2l2.35 -2.35l2.35 2.35l-2.35 2.35zM108.9 379.1l2.35 -2.35l2.35 2.35l-2.35 2.35zM108.9 376.4l2.35 -2.35l2.35 2.35l-2.35 2.35zM108.9 375.4l2.35 -2.35l2.35 2.35l-2.35 2.35zM108.9 373.9l2.35 -2.35l2.35 2.35l-2.35 2.35zM108.9 372.5l2.35 -2.35l2.35 2.35l-2.35 2.35zM108.9 371l2.35 -2.35l2.35 2.35l-2.35 2.35zM114.3 432.3l2.35 -2.35l2.35 2.35l-2.35 2.35zM114.3 429.2l2.35 -2.35l2.35 2.35l-2.35 2.35zM114.3 424.1l2.35 -2.35l2.35 2.35l-2.35 2.35zM114.3 419.2l2.35 -2.35l2.35 2.35l-2.35 2.35zM114.3 417.4l2.35 -2.35l2.35 2.35l-2.35 2.35zM114.3 415.5l2.35 -2.35l2.35 2.35l-2.35 2.35zM114.3 413.8l2.35 -2.35l2.35 2.35l-2.35 2.35zM114.3 411.8l2.35 -2.35l2.35 2.35l-2.35 2.35zM114.3 410.4l2.35 -2.35l2.35 2.35l-2.35 2.35zM114.3 409.1l2.35 -2.35l2.35 2.35l-2.35 2.35zM114.3 407.8l2.35 -2.35l2.35 2.35l-2.35 2.35zM114.3 406l2.35 -2.35l2.35 2.35l-2.35 2.35zM114.3 404.4l2.35 -2.35l2.35 2.35l-2.35 2.35zM114.3 402.7l2.35 -2.35l2.35 2.35l-2.35 2.35zM114.3 400.9l2.35 -2.35l2.35 2.35l-2.35 2.35zM114.3 399.3l2.35 -2.35l2.35 2.35l-2.35 2.35zM114.3 397.8l2.35 -2.35l2.35 2.35l-2.35 2.35zM114.3 396.1l2.35 -2.35l2.35 2.35l-2.35 2.35zM114.3 394.4l2.35 -2.35l2.35 2.35l-2.35 2.35zM114.3 392.8l2.35 -2.35l2.35 2.35l-2.35 2.35zM114.3 391.2l2.35 -2.35l2.35 2.35l-2.35 2.35zM114.3 389.1l2.35 -2.35l2.35 2.35l-2.35 2.35zM114.3 387.3l2.35 -2.35l2.35 2.35l-2.35 2.35zM114.3 384.9l2.35 -2.35l2.35 2.35l-2.35 2.35zM114.3 384.1l2.35 -2.35l2.35 2.35l-2.35 2.35zM114.3 382.7l2.35 -2.35l2.35 2.35l-2.35 2.35zM114.3 381.4l2.35 -2.35l2.35 2.35l-2.35 2.35zM114.3 380.2l2.35 -2.35l2.35 2.35l-2.35 2.35zM119.7 434.4l2.35 -2.35l2.35 2.35l-2.35 2.35zM119.7 431.8l2.35 -2.35l2.35 2.35l-2.35 2.35zM119.7 427.4l2.35 -2.35l2.35 2.35l-2.35 2.35zM119.7 423.3l2.35 -2.35l2.35 2.35l-2.35 2.35zM119.7 421.7l2.35 -2.35l2.35 2.35l-2.35 2.35zM119.7 420.1l2.35 -2.35l2.35 2.35l-2.35 2.35zM119.7 418.7l2.35 -2.35l2.35 2.35l-2.35 2.35zM119.7 416.9l2.35 -2.35l2.35 2.35l-2.35 2.35zM119.7 415.8l2.35 -2.35l2.35 2.35l-2.35 2.35zM119.7 414.7l2.35 -2.35l2.35 2.35l-2.35 2.35zM119.7 413.5l2.35 -2.35l2.35 2.35l-2.35 2.35zM119.7 412l2.35 -2.35l2.35 2.35l-2.35 2.35zM119.7 410.7l2.35 -2.35l2.35 2.35l-2.35 2.35zM119.7 409.2l2.35 -2.35l2.35 2.35l-2.35 2.35zM119.7 407.7l2.35 -2.35l2.35 2.35l-2.35 2.35zM119.7 406.3l2.35 -2.35l2.35 2.35l-2.35 2.35zM119.7 405l2.35 -2.35l2.35 2.35l-2.35 2.35zM119.7 403.6l2.35 -2.35l2.35 2.35l-2.35 2.35zM119.7 402.1l2.35 -2.35l2.35 2.35l-2.35 2.35zM119.7 400.8l2.35 -2.35l2.35 2.35l-2.35 2.35zM119.7 399.5l2.35 -2.35l2.35 2.35l-2.35 2.35zM119.7 397.7l2.35 -2.35l2.35 2.35l-2.35 2.35zM119.7 396.1l2.35 -2.35l2.35 2.35l-2.35 2.35zM119.7 394.1l2.35 -2.35l2.35 2.35l-2.35 2.35zM119.7 393.4l2.35 -2.35l2.35 2.35l-2.35 2.35zM119.7 392.2l2.35 -2.35l2.35 2.35l-2.35 2.35zM119.7 391.1l2.35 -2.35l2.35 2.35l-2.35 2.35zM119.7 390.1l2.35 -2.35l2.35 2.35l-2.35 2.35zM125.2 436.6l2.35 -2.35l2.35 2.35l-2.35 2.35zM125.2 434.5l2.35 -2.35l2.35 2.35l-2.35 2.35zM125.2 430.9l2.35 -2.35l2.35 2.35l-2.35 2.35zM125.2 427.6l2.35 -2.35l2.35 2.35l-2.35 2.35zM125.2 426.3l2.35 -2.35l2.35 2.35l-2.35 2.35zM125.2 425l2.35 -2.35l2.35 2.35l-2.35 2.35zM125.2 423.8l2.35 -2.35l2.35 2.35l-2.35 2.35zM125.2 422.4l2.35 -2.35l2.35 2.35l-2.35 2.35zM125.2 421.5l2.35 -2.35l2.35 2.35l-2.35 2.35zM125.2 420.6l2.35 -2.35l2.35 2.35l-2.35 2.35zM125.2 419.7l2.35 -2.35l2.35 2.35l-2.35 2.35zM125.2 418.4l2.35 -2.35l2.35 2.35l-2.35 2.35zM125.2 417.4l2.35 -2.35l2.35 2.35l-2.35 2.35zM125.2 416.1l2.35 -2.35l2.35 2.35l-2.35 2.35zM125.2 414.9l2.35 -2.35l2.35 2.35l-2.35 2.35zM125.2 413.8l2.35 -2.35l2.35 2.35l-2.35 2.35zM125.2 412.7l2.35 -2.35l2.35 2.35l-2.35 2.35zM125.2 411.6l2.35 -2.35l2.35 2.35l-2.35 2.35zM125.2 410.4l2.35 -2.35l2.35 2.35l-2.35 2.35zM125.2 409.3l2.35 -2.35l2.35 2.35l-2.35 2.35zM125.2 408.2l2.35 -2.35l2.35 2.35l-2.35 2.35zM125.2 406.8l2.35 -2.35l2.35 2.35l-2.35 2.35zM125.2 405.5l2.35 -2.35l2.35 2.35l-2.35 2.35zM125.2 403.8l2.35 -2.35l2.35 2.35l-2.35 2.35zM125.2 403.2l2.35 -2.35l2.35 2.35l-2.35 2.35zM125.2 402.3l2.35 -2.35l2.35 2.35l-2.35 2.35zM125.2 401.4l2.35 -2.35l2.35 2.35l-2.35 2.35zM125.2 400.6l2.35 -2.35l2.35 2.35l-2.35 2.35zM130.6 439l2.35 -2.35l2.35 2.35l-2.35 2.35zM130.6 437.3l2.35 -2.35l2.35 2.35l-2.35 2.35zM130.6 434.6l2.35 -2.35l2.35 2.35l-2.35 2.35zM130.6 432.1l2.35 -2.35l2.35 2.35l-2.35 2.35zM130.6 431.1l2.35 -2.35l2.35 2.35l-2.35 2.35zM130.6 430.1l2.35 -2.35l2.35 2.35l-2.35 2.35zM130.6 429.2l2.35 -2.35l2.35 2.35l-2.35 2.35zM130.6 428.2l2.35 -2.35l2.35 2.35l-2.35 2.35zM130.6 427.4l2.35 -2.35l2.35 2.35l-2.35 2.35zM130.6 426.8l2.35 -2.35l2.35 2.35l-2.35 2.35zM130.6 426.1l2.35 -2.35l2.35 2.35l-2.35 2.35zM130.6 425.1l2.35 -2.35l2.35 2.35l-2.35 2.35zM130.6 424.3l2.35 -2.35l2.35 2.35l-2.35 2.35zM130.6 423.4l2.35 -2.35l2.35 2.35l-2.35 2.35zM130.6 422.5l2.35 -2.35l2.35 2.35l-2.35 2.35zM130.6 421.6l2.35 -2.35l2.35 2.35l-2.35 2.35zM130.6 420.8l2.35 -2.35l2.35 2.35l-2.35 2.35zM130.6 419.9l2.35 -2.35l2.35 2.35l-2.35 2.35zM130.6 419l2.35 -2.35l2.35 2.35l-2.35 2.35zM130.6 418.2l2.35 -2.35l2.35 2.35l-2.35 2.35zM130.6 417.4l2.35 -2.35l2.35 2.35l-2.35 2.35zM130.6 416.3l2.35 -2.35l2.35 2.35l-2.35 2.35zM130.6 415.3l2.35 -2.35l2.35 2.35l-2.35 2.35zM130.6 414.1l2.35 -2.35l2.35 2.35l-2.35 2.35zM130.6 413.6l2.35 -2.35l2.35 2.35l-2.35 2.35zM130.6 412.9l2.35 -2.35l2.35 2.35l-2.35 2.35zM130.6 412.2l2.35 -2.35l2.35 2.35l-2.35 2.35zM130.6 411.6l2.35 -2.35l2.35 2.35l-2.35 2.35zM136 441.4l2.35 -2.35l2.35 2.35l-2.35 2.35zM136 440.3l2.35 -2.35l2.35 2.35l-2.35 2.35zM136 438.5l2.35 -2.35l2.35 2.35l-2.35 2.35zM136 436.7l2.35 -2.35l2.35 2.35l-2.35 2.35zM136 436.1l2.35 -2.35l2.35 2.35l-2.35 2.35zM136 435.5l2.35 -2.35l2.35 2.35l-2.35 2.35zM136 434.8l2.35 -2.35l2.35 2.35l-2.35 2.35zM136 434.1l2.35 -2.35l2.35 2.35l-2.35 2.35zM136 433.6l2.35 -2.35l2.35 2.35l-2.35 2.35zM136 433.2l2.35 -2.35l2.35 2.35l-2.35 2.35zM136 432.7l2.35 -2.35l2.35 2.35l-2.35 2.35zM136 432.1l2.35 -2.35l2.35 2.35l-2.35 2.35zM136 431.5l2.35 -2.35l2.35 2.35l-2.35 2.35zM136 430.9l2.35 -2.35l2.35 2.35l-2.35 2.35zM136 430.3l2.35 -2.35l2.35 2.35l-2.35 2.35zM136 429.7l2.35 -2.35l2.35 2.35l-2.35 2.35zM136 429.2l2.35 -2.35l2.35 2.35l-2.35 2.35zM136 428.6l2.35 -2.35l2.35 2.35l-2.35 2.35zM136 428l2.35 -2.35l2.35 2.35l-2.35 2.35zM136 427.4l2.35 -2.35l2.35 2.35l-2.35 2.35zM136 426.9l2.35 -2.35l2.35 2.35l-2.35 2.35zM136 426.1l2.35 -2.35l2.35 2.35l-2.35 2.35zM136 425.5l2.35 -2.35l2.35 2.35l-2.35 2.35zM136 424.6l2.35 -2.35l2.35 2.35l-2.35 2.35zM136 424.3l2.35 -2.35l2.35 2.35l-2.35 2.35zM136 423.9l2.35 -2.35l2.35 2.35l-2.35 2.35zM136 423.4l2.35 -2.35l2.35 2.35l-2.35 2.35zM136 422.9l2.35 -2.35l2.35 2.35l-2.35 2.35zM141.5 443.8l2.35 -2.35l2.35 2.35l-2.35 2.35zM141.5 443.3l2.35 -2.35l2.35 2.35l-2.35 2.35zM141.5 442.4l2.35 -2.35l2.35 2.35l-2.35 2.35zM141.5 441.5l2.35 -2.35l2.35 2.35l-2.35 2.35zM141.5 441.2l2.35 -2.35l2.35 2.35l-2.35 2.35zM141.5 440.9l2.35 -2.35l2.35 2.35l-2.35 2.35zM141.5 440.6l2.35 -2.35l2.35 2.35l-2.35 2.35zM141.5 440.2l2.35 -2.35l2.35 2.35l-2.35 2.35zM141.5 440l2.35 -2.35l2.35 2.35l-2.35 2.35zM141.5 439.7l2.35 -2.35l2.35 2.35l-2.35 2.35zM141.5 439.5l2.35 -2.35l2.35 2.35l-2.35 2.35zM141.5 439.2l2.35 -2.35l2.35 2.35l-2.35 2.35zM141.5 438.9l2.35 -2.35l2.35 2.35l-2.35 2.35zM141.5 438.6l2.35 -2.35l2.35 2.35l-2.35 2.35zM141.5 438.3l2.35 -2.35l2.35 2.35l-2.35 2.35zM141.5 438l2.35 -2.35l2.35 2.35l-2.35 2.35zM141.5 437.7l2.35 -2.35l2.35 2.35l-2.35 2.35zM141.5 437.4l2.35 -2.35l2.35 2.35l-2.35 2.35zM141.5 437.1l2.35 -2.35l2.35 2.35l-2.35 2.35zM141.5 436.8l2.35 -2.35l2.35 2.35l-2.35 2.35zM141.5 436.5l2.35 -2.35l2.35 2.35l-2.35 2.35zM141.5 436.2l2.35 -2.35l2.35 2.35l-2.35 2.35zM141.5 435.8l2.35 -2.35l2.35 2.35l-2.35 2.35zM141.5 435.4l2.35 -2.35l2.35 2.35l-2.35 2.35zM141.5 435.3l2.35 -2.35l2.35 2.35l-2.35 2.35zM141.5 435l2.35 -2.35l2.35 2.35l-2.35 2.35zM141.5 434.8l2.35 -2.35l2.35 2.35l-2.35 2.35zM141.5 434.6l2.35 -2.35l2.35 2.35l-2.35 2.35zM146.9 446.4l2.35 -2.35l2.35 2.35l-2.35 2.35zM146.9 446.4l2.35 -2.35l2.35 2.35l-2.35 2.35zM146.9 446.4l2.35 -2.35l2.35 2.35l-2.35 2.35zM146.9 446.4l2.35 -2.35l2.35 2.35l-2.35 2.35zM146.9 446.4l2.35 -2.35l2.35 2.35l-2.35 2.35zM146.9 446.4l2.35 -2.35l2.35 2.35l-2.35 2.35zM146.9 446.4l2.35 -2.35l2.35 2.35l-2.35 2.35zM146.9 446.4l2.35 -2.35l2.35 2.35l-2.35 2.35zM146.9 446.4l2.35 -2.35l2.35 2.35l-2.35 2.35zM146.9 446.4l2.35 -2.35l2.35 2.35l-2.35 2.35zM146.9 446.4l2.35 -2.35l2.35 2.35l-2.35 2.35zM146.9 446.4l2.35 -2.35l2.35 2.35l-2.35 2.35zM146.9 446.4l2.35 -2.35l2.35 2.35l-2.35 2.35zM146.9 446.4l2.35 -2.35l2.35 2.35l-2.35 2.35zM146.9 446.4l2.35 -2.35l2.35 2.35l-2.35 2.35zM146.9 446.4l2.35 -2.35l2.35 2.35l-2.35 2.35zM146.9 446.4l2.35 -2.35l2.35 2.35l-2.35 2.35zM146.9 446.4l2.35 -2.35l2.35 2.35l-2.35 2.35zM146.9 446.4l2.35 -2.35l2.35 2.35l-2.35 2.35zM146.9 446.4l2.35 -2.35l2.35 2.35l-2.35 2.35zM146.9 446.4l2.35 -2.35l2.35 2.35l-2.35 2.35zM146.9 446.4l2.35 -2.35l2.35 2.35l-2.35 2.35zM146.9 446.4l2.35 -2.35l2.35 2.35l-2.35 2.35zM146.9 446.4l2.35 -2.35l2.35 2.35l-2.35 2.35zM146.9 446.4l2.35 -2.35l2.35 2.35l-2.35 2.35zM146.9 446.4l2.35 -2.35l2.35 2.35l-2.35 2.35zM146.9 446.4l2.35 -2.35l2.35 2.35l-2.35 2.35zM146.9 446.4l2.35 -2.35l2.35 2.35l-2.35 2.35zM152.3 448.9l2.35 -2.35l2.35 2.35l-2.35 2.35zM152.3 449.4l2.35 -2.35l2.35 2.35l-2.35 2.35zM152.3 450.3l2.35 -2.35l2.35 2.35l-2.35 2.35zM152.3 451.2l2.35 -2.35l2.35 2.35l-2.35 2.35zM152.3 451.5l2.35 -2.35l2.35 2.35l-2.35 2.35zM152.3 451.8l2.35 -2.35l2.35 2.35l-2.35 2.35zM152.3 452.1l2.35 -2.35l2.35 2.35l-2.35 2.35zM152.3 452.5l2.35 -2.35l2.35 2.35l-2.35 2.35zM152.3 452.7l2.35 -2.35l2.35 2.35l-2.35 2.35zM152.3 453l2.35 -2.35l2.35 2.35l-2.35 2.35zM152.3 453.2l2.35 -2.35l2.35 2.35l-2.35 2.35zM152.3 453.5l2.35 -2.35l2.35 2.35l-2.35 2.35zM152.3 453.8l2.35 -2.35l2.35 2.35l-2.35 2.35zM152.3 454.1l2.35 -2.35l2.35 2.35l-2.35 2.35zM152.3 454.4l2.35 -2.35l2.35 2.35l-2.35 2.35zM152.3 454.7l2.35 -2.35l2.35 2.35l-2.35 2.35zM152.3 455l2.35 -2.35l2.35 2.35l-2.35 2.35zM152.3 455.3l2.35 -2.35l2.35 2.35l-2.35 2.35zM152.3 455.6l2.35 -2.35l2.35 2.35l-2.35 2.35zM152.3 455.9l2.35 -2.35l2.35 2.35l-2.35 2.35zM152.3 456.2l2.35 -2.35l2.35 2.35l-2.35 2.35zM152.3 456.5l2.35 -2.35l2.35 2.35l-2.35 2.35zM152.3 456.9l2.35 -2.35l2.35 2.35l-2.35 2.35zM152.3 457.3l2.35 -2.35l2.35 2.35l-2.35 2.35zM152.3 457.4l2.35 -2.35l2.35 2.35l-2.35 2.35zM152.3 457.7l2.35 -2.35l2.35 2.35l-2.35 2.35zM152.3 457.9l2.35 -2.35l2.35 2.35l-2.35 2.35zM152.3 458.1l2.35 -2.35l2.35 2.35l-2.35 2.35zM157.8 451.3l2.35 -2.35l2.35 2.35l-2.35 2.35zM157.8 452.4l2.35 -2.35l2.35 2.35l-2.35 2.35zM157.8 454.2l2.35 -2.35l2.35 2.35l-2.35 2.35zM157.8 456l2.35 -2.35l2.35 2.35l-2.35 2.35zM157.8 456.6l2.35 -2.35l2.35 2.35l-2.35 2.35zM157.8 457.2l2.35 -2.35l2.35 2.35l-2.35 2.35zM157.8 457.9l2.35 -2.35l2.35 2.35l-2.35 2.35zM157.8 458.6l2.35 -2.35l2.35 2.35l-2.35 2.35zM157.8 459.1l2.35 -2.35l2.35 2.35l-2.35 2.35zM157.8 459.5l2.35 -2.35l2.35 2.35l-2.35 2.35zM157.8 460l2.35 -2.35l2.35 2.35l-2.35 2.35zM157.8 460.6l2.35 -2.35l2.35 2.35l-2.35 2.35zM157.8 461.2l2.35 -2.35l2.35 2.35l-2.35 2.35zM157.8 461.8l2.35 -2.35l2.35 2.35l-2.35 2.35zM157.8 462.4l2.35 -2.35l2.35 2.35l-2.35 2.35zM157.8 463l2.35 -2.35l2.35 2.35l-2.35 2.35zM157.8 463.5l2.35 -2.35l2.35 2.35l-2.35 2.35zM157.8 464.1l2.35 -2.35l2.35 2.35l-2.35 2.35zM157.8 464.7l2.35 -2.35l2.35 2.35l-2.35 2.35zM157.8 465.3l2.35 -2.35l2.35 2.35l-2.35 2.35zM157.8 465.8l2.35 -2.35l2.35 2.35l-2.35 2.35zM157.8 466.6l2.35 -2.35l2.35 2.35l-2.35 2.35zM157.8 467.2l2.35 -2.35l2.35 2.35l-2.35 2.35zM157.8 468.1l2.35 -2.35l2.35 2.35l-2.35 2.35zM157.8 468.4l2.35 -2.35l2.35 2.35l-2.35 2.35zM157.8 468.8l2.35 -2.35l2.35 2.35l-2.35 2.35zM157.8 469.3l2.35 -2.35l2.35 2.35l-2.35 2.35zM157.8 469.8l2.35 -2.35l2.35 2.35l-2.35 2.35zM163.2 453.7l2.35 -2.35l2.35 2.35l-2.35 2.35zM163.2 455.4l2.35 -2.35l2.35 2.35l-2.35 2.35zM163.2 458.1l2.35 -2.35l2.35 2.35l-2.35 2.35zM163.2 460.6l2.35 -2.35l2.35 2.35l-2.35 2.35zM163.2 461.6l2.35 -2.35l2.35 2.35l-2.35 2.35zM163.2 462.6l2.35 -2.35l2.35 2.35l-2.35 2.35zM163.2 463.5l2.35 -2.35l2.35 2.35l-2.35 2.35zM163.2 464.5l2.35 -2.35l2.35 2.35l-2.35 2.35zM163.2 465.3l2.35 -2.35l2.35 2.35l-2.35 2.35zM163.2 465.9l2.35 -2.35l2.35 2.35l-2.35 2.35zM163.2 466.6l2.35 -2.35l2.35 2.35l-2.35 2.35zM163.2 467.6l2.35 -2.35l2.35 2.35l-2.35 2.35zM163.2 468.4l2.35 -2.35l2.35 2.35l-2.35 2.35zM163.2 469.3l2.35 -2.35l2.35 2.35l-2.35 2.35zM163.2 470.2l2.35 -2.35l2.35 2.35l-2.35 2.35zM163.2 471.1l2.35 -2.35l2.35 2.35l-2.35 2.35zM163.2 471.9l2.35 -2.35l2.35 2.35l-2.35 2.35zM163.2 472.8l2.35 -2.35l2.35 2.35l-2.35 2.35zM163.2 473.7l2.35 -2.35l2.35 2.35l-2.35 2.35zM163.2 474.5l2.35 -2.35l2.35 2.35l-2.35 2.35zM163.2 475.3l2.35 -2.35l2.35 2.35l-2.35 2.35zM163.2 476.4l2.35 -2.35l2.35 2.35l-2.35 2.35zM163.2 477.4l2.35 -2.35l2.35 2.35l-2.35 2.35zM163.2 478.6l2.35 -2.35l2.35 2.35l-2.35 2.35zM163.2 479.1l2.35 -2.35l2.35 2.35l-2.35 2.35zM163.2 479.8l2.35 -2.35l2.35 2.35l-2.35 2.35zM163.2 480.5l2.35 -2.35l2.35 2.35l-2.35 2.35zM163.2 481.1l2.35 -2.35l2.35 2.35l-2.35 2.35zM168.6 456.1l2.35 -2.35l2.35 2.35l-2.35 2.35zM168.6 458.2l2.35 -2.35l2.35 2.35l-2.35 2.35zM168.6 461.8l2.35 -2.35l2.35 2.35l-2.35 2.35zM168.6 465.1l2.35 -2.35l2.35 2.35l-2.35 2.35zM168.6 466.4l2.35 -2.35l2.35 2.35l-2.35 2.35zM168.6 467.7l2.35 -2.35l2.35 2.35l-2.35 2.35zM168.6 468.9l2.35 -2.35l2.35 2.35l-2.35 2.35zM168.6 470.3l2.35 -2.35l2.35 2.35l-2.35 2.35zM168.6 471.2l2.35 -2.35l2.35 2.35l-2.35 2.35zM168.6 472.1l2.35 -2.35l2.35 2.35l-2.35 2.35zM168.6 473l2.35 -2.35l2.35 2.35l-2.35 2.35zM168.6 474.3l2.35 -2.35l2.35 2.35l-2.35 2.35zM168.6 475.3l2.35 -2.35l2.35 2.35l-2.35 2.35zM168.6 476.6l2.35 -2.35l2.35 2.35l-2.35 2.35zM168.6 477.8l2.35 -2.35l2.35 2.35l-2.35 2.35zM168.6 478.9l2.35 -2.35l2.35 2.35l-2.35 2.35zM168.6 480l2.35 -2.35l2.35 2.35l-2.35 2.35zM168.6 481.1l2.35 -2.35l2.35 2.35l-2.35 2.35zM168.6 482.3l2.35 -2.35l2.35 2.35l-2.35 2.35zM168.6 483.4l2.35 -2.35l2.35 2.35l-2.35 2.35zM168.6 484.5l2.35 -2.35l2.35 2.35l-2.35 2.35zM168.6 485.9l2.35 -2.35l2.35 2.35l-2.35 2.35zM168.6 487.2l2.35 -2.35l2.35 2.35l-2.35 2.35zM168.6 488.9l2.35 -2.35l2.35 2.35l-2.35 2.35zM168.6 489.5l2.35 -2.35l2.35 2.35l-2.35 2.35zM168.6 490.4l2.35 -2.35l2.35 2.35l-2.35 2.35zM168.6 491.3l2.35 -2.35l2.35 2.35l-2.35 2.35zM168.6 492.1l2.35 -2.35l2.35 2.35l-2.35 2.35zM174.1 458.3l2.35 -2.35l2.35 2.35l-2.35 2.35zM174.1 460.9l2.35 -2.35l2.35 2.35l-2.35 2.35zM174.1 465.3l2.35 -2.35l2.35 2.35l-2.35 2.35zM174.1 469.4l2.35 -2.35l2.35 2.35l-2.35 2.35zM174.1 471l2.35 -2.35l2.35 2.35l-2.35 2.35zM174.1 472.6l2.35 -2.35l2.35 2.35l-2.35 2.35zM174.1 474l2.35 -2.35l2.35 2.35l-2.35 2.35zM174.1 475.8l2.35 -2.35l2.35 2.35l-2.35 2.35zM174.1 476.9l2.35 -2.35l2.35 2.35l-2.35 2.35zM174.1 478l2.35 -2.35l2.35 2.35l-2.35 2.35zM174.1 479.2l2.35 -2.35l2.35 2.35l-2.35 2.35zM174.1 480.7l2.35 -2.35l2.35 2.35l-2.35 2.35zM174.1 482l2.35 -2.35l2.35 2.35l-2.35 2.35zM174.1 483.5l2.35 -2.35l2.35 2.35l-2.35 2.35zM174.1 485l2.35 -2.35l2.35 2.35l-2.35 2.35zM174.1 486.4l2.35 -2.35l2.35 2.35l-2.35 2.35zM174.1 487.7l2.35 -2.35l2.35 2.35l-2.35 2.35zM174.1 489.1l2.35 -2.35l2.35 2.35l-2.35 2.35zM174.1 490.6l2.35 -2.35l2.35 2.35l-2.35 2.35zM174.1 491.9l2.35 -2.35l2.35 2.35l-2.35 2.35zM174.1 493.2l2.35 -2.35l2.35 2.35l-2.35 2.35zM174.1 495l2.35 -2.35l2.35 2.35l-2.35 2.35zM174.1 496.6l2.35 -2.35l2.35 2.35l-2.35 2.35zM174.1 498.6l2.35 -2.35l2.35 2.35l-2.35 2.35zM174.1 499.3l2.35 -2.35l2.35 2.35l-2.35 2.35zM174.1 500.5l2.35 -2.35l2.35 2.35l-2.35 2.35zM174.1 501.6l2.35 -2.35l2.35 2.35l-2.35 2.35zM174.1 502.6l2.35 -2.35l2.35 2.35l-2.35 2.35zM179.5 460.4l2.35 -2.35l2.35 2.35l-2.35 2.35zM179.5 463.5l2.35 -2.35l2.35 2.35l-2.35 2.35zM179.5 468.6l2.35 -2.35l2.35 2.35l-2.35 2.35zM179.5 473.5l2.35 -2.35l2.35 2.35l-2.35 2.35zM179.5 475.3l2.35 -2.35l2.35 2.35l-2.35 2.35zM179.5 477.2l2.35 -2.35l2.35 2.35l-2.35 2.35zM179.5 478.9l2.35 -2.35l2.35 2.35l-2.35 2.35zM179.5 480.9l2.35 -2.35l2.35 2.35l-2.35 2.35zM179.5 482.3l2.35 -2.35l2.35 2.35l-2.35 2.35zM179.5 483.6l2.35 -2.35l2.35 2.35l-2.35 2.35zM179.5 484.9l2.35 -2.35l2.35 2.35l-2.35 2.35zM179.5 486.7l2.35 -2.35l2.35 2.35l-2.35 2.35zM179.5 488.3l2.35 -2.35l2.35 2.35l-2.35 2.35zM179.5 490l2.35 -2.35l2.35 2.35l-2.35 2.35zM179.5 491.8l2.35 -2.35l2.35 2.35l-2.35 2.35zM179.5 493.4l2.35 -2.35l2.35 2.35l-2.35 2.35zM179.5 494.9l2.35 -2.35l2.35 2.35l-2.35 2.35zM179.5 496.6l2.35 -2.35l2.35 2.35l-2.35 2.35zM179.5 498.3l2.35 -2.35l2.35 2.35l-2.35 2.35zM179.5 499.9l2.35 -2.35l2.35 2.35l-2.35 2.35zM179.5 501.5l2.35 -2.35l2.35 2.35l-2.35 2.35zM179.5 503.6l2.35 -2.35l2.35 2.35l-2.35 2.35zM179.5 505.4l2.35 -2.35l2.35 2.35l-2.35 2.35zM179.5 507.8l2.35 -2.35l2.35 2.35l-2.35 2.35zM179.5 508.6l2.35 -2.35l2.35 2.35l-2.35 2.35zM179.5 510l2.35 -2.35l2.35 2.35l-2.35 2.35zM179.5 511.3l2.35 -2.35l2.35 2.35l-2.35 2.35zM179.5 512.5l2.35 -2.35l2.35 2.35l-2.35 2.35zM184.9 462.4l2.35 -2.35l2.35 2.35l-2.35 2.35zM184.9 465.9l2.35 -2.35l2.35 2.35l-2.35 2.35zM184.9 471.7l2.35 -2.35l2.35 2.35l-2.35 2.35zM184.9 477.3l2.35 -2.35l2.35 2.35l-2.35 2.35zM184.9 479.3l2.35 -2.35l2.35 2.35l-2.35 2.35zM184.9 481.4l2.35 -2.35l2.35 2.35l-2.35 2.35zM184.9 483.4l2.35 -2.35l2.35 2.35l-2.35 2.35zM184.9 485.7l2.35 -2.35l2.35 2.35l-2.35 2.35zM184.9 487.3l2.35 -2.35l2.35 2.35l-2.35 2.35zM184.9 488.8l2.35 -2.35l2.35 2.35l-2.35 2.35zM184.9 490.2l2.35 -2.35l2.35 2.35l-2.35 2.35zM184.9 492.3l2.35 -2.35l2.35 2.35l-2.35 2.35zM184.9 494.1l2.35 -2.35l2.35 2.35l-2.35 2.35zM184.9 496.1l2.35 -2.35l2.35 2.35l-2.35 2.35zM184.9 498.1l2.35 -2.35l2.35 2.35l-2.35 2.35zM184.9 499.9l2.35 -2.35l2.35 2.35l-2.35 2.35zM184.9 501.7l2.35 -2.35l2.35 2.35l-2.35 2.35zM184.9 503.5l2.35 -2.35l2.35 2.35l-2.35 2.35zM184.9 505.5l2.35 -2.35l2.35 2.35l-2.35 2.35zM184.9 507.3l2.35 -2.35l2.35 2.35l-2.35 2.35zM184.9 509.1l2.35 -2.35l2.35 2.35l-2.35 2.35zM184.9 511.5l2.35 -2.35l2.35 2.35l-2.35 2.35zM184.9 513.6l2.35 -2.35l2.35 2.35l-2.35 2.35zM184.9 516.3l2.35 -2.35l2.35 2.35l-2.35 2.35zM184.9 517.3l2.35 -2.35l2.35 2.35l-2.35 2.35zM184.9 518.8l2.35 -2.35l2.35 2.35l-2.35 2.35zM184.9 520.2l2.35 -2.35l2.35 2.35l-2.35 2.35zM184.9 521.7l2.35 -2.35l2.35 2.35l-2.35 2.35zM190.4 464.1l2.35 -2.35l2.35 2.35l-2.35 2.35zM190.4 468l2.35 -2.35l2.35 2.35l-2.35 2.35zM190.4 474.5l2.35 -2.35l2.35 2.35l-2.35 2.35zM190.4 480.7l2.35 -2.35l2.35 2.35l-2.35 2.35zM190.4 482.9l2.35 -2.35l2.35 2.35l-2.35 2.35zM190.4 485.3l2.35 -2.35l2.35 2.35l-2.35 2.35zM190.4 487.5l2.35 -2.35l2.35 2.35l-2.35 2.35zM190.4 490.1l2.35 -2.35l2.35 2.35l-2.35 2.35zM190.4 491.8l2.35 -2.35l2.35 2.35l-2.35 2.35zM190.4 493.5l2.35 -2.35l2.35 2.35l-2.35 2.35zM190.4 495.1l2.35 -2.35l2.35 2.35l-2.35 2.35zM190.4 497.4l2.35 -2.35l2.35 2.35l-2.35 2.35zM190.4 499.3l2.35 -2.35l2.35 2.35l-2.35 2.35zM190.4 501.6l2.35 -2.35l2.35 2.35l-2.35 2.35zM190.4 503.8l2.35 -2.35l2.35 2.35l-2.35 2.35zM190.4 505.9l2.35 -2.35l2.35 2.35l-2.35 2.35zM190.4 507.8l2.35 -2.35l2.35 2.35l-2.35 2.35zM190.4 509.9l2.35 -2.35l2.35 2.35l-2.35 2.35zM190.4 512.1l2.35 -2.35l2.35 2.35l-2.35 2.35zM190.4 514l2.35 -2.35l2.35 2.35l-2.35 2.35zM190.4 516l2.35 -2.35l2.35 2.35l-2.35 2.35zM190.4 518.7l2.35 -2.35l2.35 2.35l-2.35 2.35zM190.4 521l2.35 -2.35l2.35 2.35l-2.35 2.35zM190.4 524l2.35 -2.35l2.35 2.35l-2.35 2.35zM190.4 525.1l2.35 -2.35l2.35 2.35l-2.35 2.35zM190.4 526.8l2.35 -2.35l2.35 2.35l-2.35 2.35zM190.4 528.4l2.35 -2.35l2.35 2.35l-2.35 2.35zM190.4 530l2.35 -2.35l2.35 2.35l-2.35 2.35zM195.8 465.7l2.35 -2.35l2.35 2.35l-2.35 2.35zM195.8 470l2.35 -2.35l2.35 2.35l-2.35 2.35zM195.8 477l2.35 -2.35l2.35 2.35l-2.35 2.35zM195.8 483.7l2.35 -2.35l2.35 2.35l-2.35 2.35zM195.8 486.2l2.35 -2.35l2.35 2.35l-2.35 2.35zM195.8 488.8l2.35 -2.35l2.35 2.35l-2.35 2.35zM195.8 491.1l2.35 -2.35l2.35 2.35l-2.35 2.35zM195.8 493.9l2.35 -2.35l2.35 2.35l-2.35 2.35zM195.8 495.8l2.35 -2.35l2.35 2.35l-2.35 2.35zM195.8 497.6l2.35 -2.35l2.35 2.35l-2.35 2.35zM195.8 499.4l2.35 -2.35l2.35 2.35l-2.35 2.35zM195.8 501.9l2.35 -2.35l2.35 2.35l-2.35 2.35zM195.8 504l2.35 -2.35l2.35 2.35l-2.35 2.35zM195.8 506.5l2.35 -2.35l2.35 2.35l-2.35 2.35zM195.8 508.9l2.35 -2.35l2.35 2.35l-2.35 2.35zM195.8 511.1l2.35 -2.35l2.35 2.35l-2.35 2.35zM195.8 513.2l2.35 -2.35l2.35 2.35l-2.35 2.35zM195.8 515.5l2.35 -2.35l2.35 2.35l-2.35 2.35zM195.8 517.9l2.35 -2.35l2.35 2.35l-2.35 2.35zM195.8 520l2.35 -2.35l2.35 2.35l-2.35 2.35zM195.8 522.2l2.35 -2.35l2.35 2.35l-2.35 2.35zM195.8 525.1l2.35 -2.35l2.35 2.35l-2.35 2.35zM195.8 527.6l2.35 -2.35l2.35 2.35l-2.35 2.35zM195.8 530.9l2.35 -2.35l2.35 2.35l-2.35 2.35zM195.8 532.1l2.35 -2.35l2.35 2.35l-2.35 2.35zM195.8 533.9l2.35 -2.35l2.35 2.35l-2.35 2.35zM195.8 535.7l2.35 -2.35l2.35 2.35l-2.35 2.35zM195.8 537.4l2.35 -2.35l2.35 2.35l-2.35 2.35zM201.2 467.1l2.35 -2.35l2.35 2.35l-2.35 2.35zM201.2 471.6l2.35 -2.35l2.35 2.35l-2.35 2.35zM201.2 479.2l2.35 -2.35l2.35 2.35l-2.35 2.35zM201.2 486.3l2.35 -2.35l2.35 2.35l-2.35 2.35zM201.2 489l2.35 -2.35l2.35 2.35l-2.35 2.35zM201.2 491.8l2.35 -2.35l2.35 2.35l-2.35 2.35zM201.2 494.3l2.35 -2.35l2.35 2.35l-2.35 2.35zM201.2 497.3l2.35 -2.35l2.35 2.35l-2.35 2.35zM201.2 499.3l2.35 -2.35l2.35 2.35l-2.35 2.35zM201.2 501.3l2.35 -2.35l2.35 2.35l-2.35 2.35zM201.2 503.2l2.35 -2.35l2.35 2.35l-2.35 2.35zM201.2 505.9l2.35 -2.35l2.35 2.35l-2.35 2.35zM201.2 508.1l2.35 -2.35l2.35 2.35l-2.35 2.35zM201.2 510.7l2.35 -2.35l2.35 2.35l-2.35 2.35zM201.2 513.3l2.35 -2.35l2.35 2.35l-2.35 2.35zM201.2 515.7l2.35 -2.35l2.35 2.35l-2.35 2.35zM201.2 517.9l2.35 -2.35l2.35 2.35l-2.35 2.35zM201.2 520.4l2.35 -2.35l2.35 2.35l-2.35 2.35zM201.2 522.9l2.35 -2.35l2.35 2.35l-2.35 2.35zM201.2 525.2l2.35 -2.35l2.35 2.35l-2.35 2.35zM201.2 527.6l2.35 -2.35l2.35 2.35l-2.35 2.35zM201.2 530.6l2.35 -2.35l2.35 2.35l-2.35 2.35zM201.2 533.4l2.35 -2.35l2.35 2.35l-2.35 2.35zM201.2 536.9l2.35 -2.35l2.35 2.35l-2.35 2.35zM201.2 538.1l2.35 -2.35l2.35 2.35l-2.35 2.35zM201.2 540.1l2.35 -2.35l2.35 2.35l-2.35 2.35zM201.2 542l2.35 -2.35l2.35 2.35l-2.35 2.35zM201.2 543.9l2.35 -2.35l2.35 2.35l-2.35 2.35zM206.7 468.2l2.35 -2.35l2.35 2.35l-2.35 2.35zM206.7 473l2.35 -2.35l2.35 2.35l-2.35 2.35zM206.7 481l2.35 -2.35l2.35 2.35l-2.35 2.35zM206.7 488.5l2.35 -2.35l2.35 2.35l-2.35 2.35zM206.7 491.3l2.35 -2.35l2.35 2.35l-2.35 2.35zM206.7 494.2l2.35 -2.35l2.35 2.35l-2.35 2.35zM206.7 496.9l2.35 -2.35l2.35 2.35l-2.35 2.35zM206.7 500.1l2.35 -2.35l2.35 2.35l-2.35 2.35zM206.7 502.2l2.35 -2.35l2.35 2.35l-2.35 2.35zM206.7 504.3l2.35 -2.35l2.35 2.35l-2.35 2.35zM206.7 506.3l2.35 -2.35l2.35 2.35l-2.35 2.35zM206.7 509.1l2.35 -2.35l2.35 2.35l-2.35 2.35zM206.7 511.5l2.35 -2.35l2.35 2.35l-2.35 2.35zM206.7 514.2l2.35 -2.35l2.35 2.35l-2.35 2.35zM206.7 517l2.35 -2.35l2.35 2.35l-2.35 2.35zM206.7 519.5l2.35 -2.35l2.35 2.35l-2.35 2.35zM206.7 521.9l2.35 -2.35l2.35 2.35l-2.35 2.35zM206.7 524.4l2.35 -2.35l2.35 2.35l-2.35 2.35zM206.7 527.1l2.35 -2.35l2.35 2.35l-2.35 2.35zM206.7 529.5l2.35 -2.35l2.35 2.35l-2.35 2.35zM206.7 532l2.35 -2.35l2.35 2.35l-2.35 2.35zM206.7 535.3l2.35 -2.35l2.35 2.35l-2.35 2.35zM206.7 538.1l2.35 -2.35l2.35 2.35l-2.35 2.35zM206.7 541.8l2.35 -2.35l2.35 2.35l-2.35 2.35zM206.7 543.2l2.35 -2.35l2.35 2.35l-2.35 2.35zM206.7 545.2l2.35 -2.35l2.35 2.35l-2.35 2.35zM206.7 547.2l2.35 -2.35l2.35 2.35l-2.35 2.35zM206.7 549.2l2.35 -2.35l2.35 2.35l-2.35 2.35zM212.1 469.1l2.35 -2.35l2.35 2.35l-2.35 2.35zM212.1 474.1l2.35 -2.35l2.35 2.35l-2.35 2.35zM212.1 482.4l2.35 -2.35l2.35 2.35l-2.35 2.35zM212.1 490.3l2.35 -2.35l2.35 2.35l-2.35 2.35zM212.1 493.2l2.35 -2.35l2.35 2.35l-2.35 2.35zM212.1 496.2l2.35 -2.35l2.35 2.35l-2.35 2.35zM212.1 499l2.35 -2.35l2.35 2.35l-2.35 2.35zM212.1 502.3l2.35 -2.35l2.35 2.35l-2.35 2.35zM212.1 504.5l2.35 -2.35l2.35 2.35l-2.35 2.35zM212.1 506.6l2.35 -2.35l2.35 2.35l-2.35 2.35zM212.1 508.7l2.35 -2.35l2.35 2.35l-2.35 2.35zM212.1 511.7l2.35 -2.35l2.35 2.35l-2.35 2.35zM212.1 514.2l2.35 -2.35l2.35 2.35l-2.35 2.35zM212.1 517l2.35 -2.35l2.35 2.35l-2.35 2.35zM212.1 519.9l2.35 -2.35l2.35 2.35l-2.35 2.35zM212.1 522.5l2.35 -2.35l2.35 2.35l-2.35 2.35zM212.1 525l2.35 -2.35l2.35 2.35l-2.35 2.35zM212.1 527.6l2.35 -2.35l2.35 2.35l-2.35 2.35zM212.1 530.5l2.35 -2.35l2.35 2.35l-2.35 2.35zM212.1 532.9l2.35 -2.35l2.35 2.35l-2.35 2.35zM212.1 535.5l2.35 -2.35l2.35 2.35l-2.35 2.35zM212.1 538.9l2.35 -2.35l2.35 2.35l-2.35 2.35zM212.1 541.9l2.35 -2.35l2.35 2.35l-2.35 2.35zM212.1 545.7l2.35 -2.35l2.35 2.35l-2.35 2.35zM212.1 547.1l2.35 -2.35l2.35 2.35l-2.35 2.35zM212.1 549.3l2.35 -2.35l2.35 2.35l-2.35 2.35zM212.1 551.4l2.35 -2.35l2.35 2.35l-2.35 2.35zM212.1 553.4l2.35 -2.35l2.35 2.35l-2.35 2.35zM217.5 469.8l2.35 -2.35l2.35 2.35l-2.35 2.35zM217.5 474.9l2.35 -2.35l2.35 2.35l-2.35 2.35zM217.5 483.4l2.35 -2.35l2.35 2.35l-2.35 2.35zM217.5 491.5l2.35 -2.35l2.35 2.35l-2.35 2.35zM217.5 494.5l2.35 -2.35l2.35 2.35l-2.35 2.35zM217.5 497.6l2.35 -2.35l2.35 2.35l-2.35 2.35zM217.5 500.5l2.35 -2.35l2.35 2.35l-2.35 2.35zM217.5 503.9l2.35 -2.35l2.35 2.35l-2.35 2.35zM217.5 506.2l2.35 -2.35l2.35 2.35l-2.35 2.35zM217.5 508.4l2.35 -2.35l2.35 2.35l-2.35 2.35zM217.5 510.5l2.35 -2.35l2.35 2.35l-2.35 2.35zM217.5 513.6l2.35 -2.35l2.35 2.35l-2.35 2.35zM217.5 516.1l2.35 -2.35l2.35 2.35l-2.35 2.35zM217.5 519.1l2.35 -2.35l2.35 2.35l-2.35 2.35zM217.5 522l2.35 -2.35l2.35 2.35l-2.35 2.35zM217.5 524.7l2.35 -2.35l2.35 2.35l-2.35 2.35zM217.5 527.2l2.35 -2.35l2.35 2.35l-2.35 2.35zM217.5 530l2.35 -2.35l2.35 2.35l-2.35 2.35zM217.5 532.9l2.35 -2.35l2.35 2.35l-2.35 2.35zM217.5 535.4l2.35 -2.35l2.35 2.35l-2.35 2.35zM217.5 538.1l2.35 -2.35l2.35 2.35l-2.35 2.35zM217.5 541.6l2.35 -2.35l2.35 2.35l-2.35 2.35zM217.5 544.6l2.35 -2.35l2.35 2.35l-2.35 2.35zM217.5 548.6l2.35 -2.35l2.35 2.35l-2.35 2.35zM217.5 550l2.35 -2.35l2.35 2.35l-2.35 2.35zM217.5 552.2l2.35 -2.35l2.35 2.35l-2.35 2.35zM217.5 554.4l2.35 -2.35l2.35 2.35l-2.35 2.35zM217.5 556.5l2.35 -2.35l2.35 2.35l-2.35 2.35zM223 470.2l2.35 -2.35l2.35 2.35l-2.35 2.35zM223 475.4l2.35 -2.35l2.35 2.35l-2.35 2.35zM223 484l2.35 -2.35l2.35 2.35l-2.35 2.35zM223 492.3l2.35 -2.35l2.35 2.35l-2.35 2.35zM223 495.3l2.35 -2.35l2.35 2.35l-2.35 2.35zM223 498.5l2.35 -2.35l2.35 2.35l-2.35 2.35zM223 501.4l2.35 -2.35l2.35 2.35l-2.35 2.35zM223 504.8l2.35 -2.35l2.35 2.35l-2.35 2.35zM223 507.2l2.35 -2.35l2.35 2.35l-2.35 2.35zM223 509.4l2.35 -2.35l2.35 2.35l-2.35 2.35zM223 511.6l2.35 -2.35l2.35 2.35l-2.35 2.35zM223 514.7l2.35 -2.35l2.35 2.35l-2.35 2.35zM223 517.3l2.35 -2.35l2.35 2.35l-2.35 2.35zM223 520.3l2.35 -2.35l2.35 2.35l-2.35 2.35zM223 523.2l2.35 -2.35l2.35 2.35l-2.35 2.35zM223 526l2.35 -2.35l2.35 2.35l-2.35 2.35zM223 528.6l2.35 -2.35l2.35 2.35l-2.35 2.35zM223 531.4l2.35 -2.35l2.35 2.35l-2.35 2.35zM223 534.3l2.35 -2.35l2.35 2.35l-2.35 2.35zM223 536.9l2.35 -2.35l2.35 2.35l-2.35 2.35zM223 539.6l2.35 -2.35l2.35 2.35l-2.35 2.35zM223 543.1l2.35 -2.35l2.35 2.35l-2.35 2.35zM223 546.3l2.35 -2.35l2.35 2.35l-2.35 2.35zM223 550.3l2.35 -2.35l2.35 2.35l-2.35 2.35zM223 551.8l2.35 -2.35l2.35 2.35l-2.35 2.35zM223 554l2.35 -2.35l2.35 2.35l-2.35 2.35zM223 556.2l2.35 -2.35l2.35 2.35l-2.35 2.35zM223 558.3l2.35 -2.35l2.35 2.35l-2.35 2.35zM228.4 470.3l2.35 -2.35l2.35 2.35l-2.35 2.35zM228.4 475.5l2.35 -2.35l2.35 2.35l-2.35 2.35zM228.4 484.2l2.35 -2.35l2.35 2.35l-2.35 2.35zM228.4 492.5l2.35 -2.35l2.35 2.35l-2.35 2.35zM228.4 495.6l2.35 -2.35l2.35 2.35l-2.35 2.35zM228.4 498.8l2.35 -2.35l2.35 2.35l-2.35 2.35zM228.4 501.7l2.35 -2.35l2.35 2.35l-2.35 2.35zM228.4 505.2l2.35 -2.35l2.35 2.35l-2.35 2.35zM228.4 507.5l2.35 -2.35l2.35 2.35l-2.35 2.35zM228.4 509.7l2.35 -2.35l2.35 2.35l-2.35 2.35zM228.4 512l2.35 -2.35l2.35 2.35l-2.35 2.35zM228.4 515.1l2.35 -2.35l2.35 2.35l-2.35 2.35zM228.4 517.6l2.35 -2.35l2.35 2.35l-2.35 2.35zM228.4 520.7l2.35 -2.35l2.35 2.35l-2.35 2.35zM228.4 523.7l2.35 -2.35l2.35 2.35l-2.35 2.35zM228.4 526.4l2.35 -2.35l2.35 2.35l-2.35 2.35zM228.4 529l2.35 -2.35l2.35 2.35l-2.35 2.35zM228.4 531.8l2.35 -2.35l2.35 2.35l-2.35 2.35zM228.4 534.8l2.35 -2.35l2.35 2.35l-2.35 2.35zM228.4 537.4l2.35 -2.35l2.35 2.35l-2.35 2.35zM228.4 540.1l2.35 -2.35l2.35 2.35l-2.35 2.35zM228.4 543.7l2.35 -2.35l2.35 2.35l-2.35 2.35zM228.4 546.8l2.35 -2.35l2.35 2.35l-2.35 2.35zM228.4 550.9l2.35 -2.35l2.35 2.35l-2.35 2.35zM228.4 552.3l2.35 -2.35l2.35 2.35l-2.35 2.35zM228.4 554.6l2.35 -2.35l2.35 2.35l-2.35 2.35zM228.4 556.8l2.35 -2.35l2.35 2.35l-2.35 2.35zM228.4 558.9l2.35 -2.35l2.35 2.35l-2.35 2.35zM233.8 470.2l2.35 -2.35l2.35 2.35l-2.35 2.35zM233.8 475.4l2.35 -2.35l2.35 2.35l-2.35 2.35zM233.8 484l2.35 -2.35l2.35 2.35l-2.35 2.35zM233.8 492.3l2.35 -2.35l2.35 2.35l-2.35 2.35zM233.8 495.3l2.35 -2.35l2.35 2.35l-2.35 2.35zM233.8 498.5l2.35 -2.35l2.35 2.35l-2.35 2.35zM233.8 501.4l2.35 -2.35l2.35 2.35l-2.35 2.35zM233.8 504.8l2.35 -2.35l2.35 2.35l-2.35 2.35zM233.8 507.2l2.35 -2.35l2.35 2.35l-2.35 2.35zM233.8 509.4l2.35 -2.35l2.35 2.35l-2.35 2.35zM233.8 511.6l2.35 -2.35l2.35 2.35l-2.35 2.35zM233.8 514.7l2.35 -2.35l2.35 2.35l-2.35 2.35zM233.8 517.3l2.35 -2.35l2.35 2.35l-2.35 2.35zM233.8 520.3l2.35 -2.35l2.35 2.35l-2.35 2.35zM233.8 523.2l2.35 -2.35l2.35 2.35l-2.35 2.35zM233.8 526l2.35 -2.35l2.35 2.35l-2.35 2.35zM233.8 528.6l2.35 -2.35l2.35 2.35l-2.35 2.35zM233.8 531.4l2.35 -2.35l2.35 2.35l-2.35 2.35zM233.8 534.3l2.35 -2.35l2.35 2.35l-2.35 2.35zM233.8 536.9l2.35 -2.35l2.35 2.35l-2.35 2.35zM233.8 539.6l2.35 -2.35l2.35 2.35l-2.35 2.35zM233.8 543.1l2.35 -2.35l2.35 2.35l-2.35 2.35zM233.8 546.3l2.35 -2.35l2.35 2.35l-2.35 2.35zM233.8 550.3l2.35 -2.35l2.35 2.35l-2.35 2.35zM233.8 551.8l2.35 -2.35l2.35 2.35l-2.35 2.35zM233.8 554l2.35 -2.35l2.35 2.35l-2.35 2.35zM233.8 556.2l2.35 -2.35l2.35 2.35l-2.35 2.35zM233.8 558.3l2.35 -2.35l2.35 2.35l-2.35 2.35zM239.3 469.8l2.35 -2.35l2.35 2.35l-2.35 2.35zM239.3 474.9l2.35 -2.35l2.35 2.35l-2.35 2.35zM239.3 483.4l2.35 -2.35l2.35 2.35l-2.35 2.35zM239.3 491.5l2.35 -2.35l2.35 2.35l-2.35 2.35zM239.3 494.5l2.35 -2.35l2.35 2.35l-2.35 2.35zM239.3 497.6l2.35 -2.35l2.35 2.35l-2.35 2.35zM239.3 500.5l2.35 -2.35l2.35 2.35l-2.35 2.35zM239.3 503.9l2.35 -2.35l2.35 2.35l-2.35 2.35zM239.3 506.2l2.35 -2.35l2.35 2.35l-2.35 2.35zM239.3 508.4l2.35 -2.35l2.35 2.35l-2.35 2.35zM239.3 510.5l2.35 -2.35l2.35 2.35l-2.35 2.35zM239.3 513.6l2.35 -2.35l2.35 2.35l-2.35 2.35zM239.3 516.1l2.35 -2.35l2.35 2.35l-2.35 2.35zM239.3 519.1l2.35 -2.35l2.35 2.35l-2.35 2.35zM239.3 522l2.35 -2.35l2.35 2.35l-2.35 2.35zM239.3 524.7l2.35 -2.35l2.35 2.35l-2.35 2.35zM239.3 527.2l2.35 -2.35l2.35 2.35l-2.35 2.35zM239.3 530l2.35 -2.35l2.35 2.35l-2.35 2.35zM239.3 532.9l2.35 -2.35l2.35 2.35l-2.35 2.35zM239.3 535.4l2.35 -2.35l2.35 2.35l-2.35 2.35zM239.3 538.1l2.35 -2.35l2.35 2.35l-2.35 2.35zM239.3 541.6l2.35 -2.35l2.35 2.35l-2.35 2.35zM239.3 544.6l2.35 -2.35l2.35 2.35l-2.35 2.35zM239.3 548.6l2.35 -2.35l2.35 2.35l-2.35 2.35zM239.3 550l2.35 -2.35l2.35 2.35l-2.35 2.35zM239.3 552.2l2.35 -2.35l2.35 2.35l-2.35 2.35zM239.3 554.4l2.35 -2.35l2.35 2.35l-2.35 2.35zM239.3 556.5l2.35 -2.35l2.35 2.35l-2.35 2.35zM244.7 469.1l2.35 -2.35l2.35 2.35l-2.35 2.35zM244.7 474.1l2.35 -2.35l2.35 2.35l-2.35 2.35zM244.7 482.4l2.35 -2.35l2.35 2.35l-2.35 2.35zM244.7 490.3l2.35 -2.35l2.35 2.35l-2.35 2.35zM244.7 493.2l2.35 -2.35l2.35 2.35l-2.35 2.35zM244.7 496.2l2.35 -2.35l2.35 2.35l-2.35 2.35zM244.7 499l2.35 -2.35l2.35 2.35l-2.35 2.35zM244.7 502.3l2.35 -2.35l2.35 2.35l-2.35 2.35zM244.7 504.5l2.35 -2.35l2.35 2.35l-2.35 2.35zM244.7 506.6l2.35 -2.35l2.35 2.35l-2.35 2.35zM244.7 508.7l2.35 -2.35l2.35 2.35l-2.35 2.35zM244.7 511.7l2.35 -2.35l2.35 2.35l-2.35 2.35zM244.7 514.2l2.35 -2.35l2.35 2.35l-2.35 2.35zM244.7 517l2.35 -2.35l2.35 2.35l-2.35 2.35zM244.7 519.9l2.35 -2.35l2.35 2.35l-2.35 2.35zM244.7 522.5l2.35 -2.35l2.35 2.35l-2.35 2.35zM244.7 525l2.35 -2.35l2.35 2.35l-2.35 2.35zM244.7 527.6l2.35 -2.35l2.35 2.35l-2.35 2.35zM244.7 530.5l2.35 -2.35l2.35 2.35l-2.35 2.35zM244.7 532.9l2.35 -2.35l2.35 2.35l-2.35 2.35zM244.7 535.5l2.35 -2.35l2.35 2.35l-2.35 2.35zM244.7 538.9l2.35 -2.35l2.35 2.35l-2.35 2.35zM244.7 541.9l2.35 -2.35l2.35 2.35l-2.35 2.35zM244.7 545.7l2.35 -2.35l2.35 2.35l-2.35 2.35zM244.7 547.1l2.35 -2.35l2.35 2.35l-2.35 2.35zM244.7 549.3l2.35 -2.35l2.35 2.35l-2.35 2.35zM244.7 551.4l2.35 -2.35l2.35 2.35l-2.35 2.35zM244.7 553.4l2.35 -2.35l2.35 2.35l-2.35 2.35zM250.1 468.2l2.35 -2.35l2.35 2.35l-2.35 2.35zM250.1 473l2.35 -2.35l2.35 2.35l-2.35 2.35zM250.1 481l2.35 -2.35l2.35 2.35l-2.35 2.35zM250.1 488.5l2.35 -2.35l2.35 2.35l-2.35 2.35zM250.1 491.3l2.35 -2.35l2.35 2.35l-2.35 2.35zM250.1 494.2l2.35 -2.35l2.35 2.35l-2.35 2.35zM250.1 496.9l2.35 -2.35l2.35 2.35l-2.35 2.35zM250.1 500.1l2.35 -2.35l2.35 2.35l-2.35 2.35zM250.1 502.2l2.35 -2.35l2.35 2.35l-2.35 2.35zM250.1 504.3l2.35 -2.35l2.35 2.35l-2.35 2.35zM250.1 506.3l2.35 -2.35l2.35 2.35l-2.35 2.35zM250.1 509.1l2.35 -2.35l2.35 2.35l-2.35 2.35zM250.1 511.5l2.35 -2.35l2.35 2.35l-2.35 2.35zM250.1 514.2l2.35 -2.35l2.35 2.35l-2.35 2.35zM250.1 517l2.35 -2.35l2.35 2.35l-2.35 2.35zM250.1 519.5l2.35 -2.35l2.35 2.35l-2.35 2.35zM250.1 521.9l2.35 -2.35l2.35 2.35l-2.35 2.35zM250.1 524.4l2.35 -2.35l2.35 2.35l-2.35 2.35zM250.1 527.1l2.35 -2.35l2.35 2.35l-2.35 2.35zM250.1 529.5l2.35 -2.35l2.35 2.35l-2.35 2.35zM250.1 532l2.35 -2.35l2.35 2.35l-2.35 2.35zM250.1 535.3l2.35 -2.35l2.35 2.35l-2.35 2.35zM250.1 538.1l2.35 -2.35l2.35 2.35l-2.35 2.35zM250.1 541.8l2.35 -2.35l2.35 2.35l-2.35 2.35zM250.1 543.2l2.35 -2.35l2.35 2.35l-2.35 2.35zM250.1 545.2l2.35 -2.35l2.35 2.35l-2.35 2.35zM250.1 547.2l2.35 -2.35l2.35 2.35l-2.35 2.35zM250.1 549.2l2.35 -2.35l2.35 2.35l-2.35 2.35zM255.6 467.1l2.35 -2.35l2.35 2.35l-2.35 2.35zM255.6 471.6l2.35 -2.35l2.35 2.35l-2.35 2.35zM255.6 479.2l2.35 -2.35l2.35 2.35l-2.35 2.35zM255.6 486.3l2.35 -2.35l2.35 2.35l-2.35 2.35zM255.6 489l2.35 -2.35l2.35 2.35l-2.35 2.35zM255.6 491.8l2.35 -2.35l2.35 2.35l-2.35 2.35zM255.6 494.3l2.35 -2.35l2.35 2.35l-2.35 2.35zM255.6 497.3l2.35 -2.35l2.35 2.35l-2.35 2.35zM255.6 499.3l2.35 -2.35l2.35 2.35l-2.35 2.35zM255.6 501.3l2.35 -2.35l2.35 2.35l-2.35 2.35zM255.6 503.2l2.35 -2.35l2.35 2.35l-2.35 2.35zM255.6 505.9l2.35 -2.35l2.35 2.35l-2.35 2.35zM255.6 508.1l2.35 -2.35l2.35 2.35l-2.35 2.35zM255.6 510.7l2.35 -2.35l2.35 2.35l-2.35 2.35zM255.6 513.3l2.35 -2.35l2.35 2.35l-2.35 2.35zM255.6 515.7l2.35 -2.35l2.35 2.35l-2.35 2.35zM255.6 517.9l2.35 -2.35l2.35 2.35l-2.35 2.35zM255.6 520.4l2.35 -2.35l2.35 2.35l-2.35 2.35zM255.6 522.9l2.35 -2.35l2.35 2.35l-2.35 2.35zM255.6 525.2l2.35 -2.35l2.35 2.35l-2.35 2.35zM255.6 527.6l2.35 -2.35l2.35 2.35l-2.35 2.35zM255.6 530.6l2.35 -2.35l2.35 2.35l-2.35 2.35zM255.6 533.4l2.35 -2.35l2.35 2.35l-2.35 2.35zM255.6 536.9l2.35 -2.35l2.35 2.35l-2.35 2.35zM255.6 538.1l2.35 -2.35l2.35 2.35l-2.35 2.35zM255.6 540.1l2.35 -2.35l2.35 2.35l-2.35 2.35zM255.6 542l2.35 -2.35l2.35 2.35l-2.35 2.35zM255.6 543.9l2.35 -2.35l2.35 2.35l-2.35 2.35zM261 465.7l2.35 -2.35l2.35 2.35l-2.35 2.35zM261 470l2.35 -2.35l2.35 2.35l-2.35 2.35zM261 477l2.35 -2.35l2.35 2.35l-2.35 2.35zM261 483.7l2.35 -2.35l2.35 2.35l-2.35 2.35zM261 486.2l2.35 -2.35l2.35 2.35l-2.35 2.35zM261 488.8l2.35 -2.35l2.35 2.35l-2.35 2.35zM261 491.1l2.35 -2.35l2.35 2.35l-2.35 2.35zM261 493.9l2.35 -2.35l2.35 2.35l-2.35 2.35zM261 495.8l2.35 -2.35l2.35 2.35l-2.35 2.35zM261 497.6l2.35 -2.35l2.35 2.35l-2.35 2.35zM261 499.4l2.35 -2.35l2.35 2.35l-2.35 2.35zM261 501.9l2.35 -2.35l2.35 2.35l-2.35 2.35zM261 504l2.35 -2.35l2.35 2.35l-2.35 2.35zM261 506.5l2.35 -2.35l2.35 2.35l-2.35 2.35zM261 508.9l2.35 -2.35l2.35 2.35l-2.35 2.35zM261 511.1l2.35 -2.35l2.35 2.35l-2.35 2.35zM261 513.2l2.35 -2.35l2.35 2.35l-2.35 2.35zM261 515.5l2.35 -2.35l2.35 2.35l-2.35 2.35zM261 517.9l2.35 -2.35l2.35 2.35l-2.35 2.35zM261 520l2.35 -2.35l2.35 2.35l-2.35 2.35zM261 522.2l2.35 -2.35l2.35 2.35l-2.35 2.35zM261 525.1l2.35 -2.35l2.35 2.35l-2.35 2.35zM261 527.6l2.35 -2.35l2.35 2.35l-2.35 2.35zM261 530.9l2.35 -2.35l2.35 2.35l-2.35 2.35zM261 532.1l2.35 -2.35l2.35 2.35l-2.35 2.35zM261 533.9l2.35 -2.35l2.35 2.35l-2.35 2.35zM261 535.7l2.35 -2.35l2.35 2.35l-2.35 2.35zM261 537.4l2.35 -2.35l2.35 2.35l-2.35 2.35zM266.4 464.1l2.35 -2.35l2.35 2.35l-2.35 2.35zM266.4 468l2.35 -2.35l2.35 2.35l-2.35 2.35zM266.4 474.5l2.35 -2.35l2.35 2.35l-2.35 2.35zM266.4 480.7l2.35 -2.35l2.35 2.35l-2.35 2.35zM266.4 482.9l2.35 -2.35l2.35 2.35l-2.35 2.35zM266.4 485.3l2.35 -2.35l2.35 2.35l-2.35 2.35zM266.4 487.5l2.35 -2.35l2.35 2.35l-2.35 2.35zM266.4 490.1l2.35 -2.35l2.35 2.35l-2.35 2.35zM266.4 491.8l2.35 -2.35l2.35 2.35l-2.35 2.35zM266.4 493.5l2.35 -2.35l2.35 2.35l-2.35 2.35zM266.4 495.1l2.35 -2.35l2.35 2.35l-2.35 2.35zM266.4 497.4l2.35 -2.35l2.35 2.35l-2.35 2.35zM266.4 499.3l2.35 -2.35l2.35 2.35l-2.35 2.35zM266.4 501.6l2.35 -2.35l2.35 2.35l-2.35 2.35zM266.4 503.8l2.35 -2.35l2.35 2.35l-2.35 2.35zM266.4 505.9l2.35 -2.35l2.35 2.35l-2.35 2.35zM266.4 507.8l2.35 -2.35l2.35 2.35l-2.35 2.35zM266.4 509.9l2.35 -2.35l2.35 2.35l-2.35 2.35zM266.4 512.1l2.35 -2.35l2.35 2.35l-2.35 2.35zM266.4 514l2.35 -2.35l2.35 2.35l-2.35 2.35zM266.4 516l2.35 -2.35l2.35 2.35l-2.35 2.35zM266.4 518.7l2.35 -2.35l2.35 2.35l-2.35 2.35zM266.4 521l2.35 -2.35l2.35 2.35l-2.35 2.35zM266.4 524l2.35 -2.35l2.35 2.35l-2.35 2.35zM266.4 525.1l2.35 -2.35l2.35 2.35l-2.35 2.35zM266.4 526.8l2.35 -2.35l2.35 2.35l-2.35 2.35zM266.4 528.4l2.35 -2.35l2.35 2.35l-2.35 2.35zM266.4 530l2.35 -2.35l2.35 2.35l-2.35 2.35zM271.9 462.4l2.35 -2.35l2.35 2.35l-2.35 2.35zM271.9 465.9l2.35 -2.35l2.35 2.35l-2.35 2.35zM271.9 471.7l2.35 -2.35l2.35 2.35l-2.35 2.35zM271.9 477.3l2.35 -2.35l2.35 2.35l-2.35 2.35zM271.9 479.3l2.35 -2.35l2.35 2.35l-2.35 2.35zM271.9 481.4l2.35 -2.35l2.35 2.35l-2.35 2.35zM271.9 483.4l2.35 -2.35l2.35 2.35l-2.35 2.35zM271.9 485.7l2.35 -2.35l2.35 2.35l-2.35 2.35zM271.9 487.3l2.35 -2.35l2.35 2.35l-2.35 2.35zM271.9 488.8l2.35 -2.35l2.35 2.35l-2.35 2.35zM271.9 490.2l2.35 -2.35l2.35 2.35l-2.35 2.35zM271.9 492.3l2.35 -2.35l2.35 2.35l-2.35 2.35zM271.9 494.1l2.35 -2.35l2.35 2.35l-2.35 2.35zM271.9 496.1l2.35 -2.35l2.35 2.35l-2.35 2.35zM271.9 498.1l2.35 -2.35l2.35 2.35l-2.35 2.35zM271.9 499.9l2.35 -2.35l2.35 2.35l-2.35 2.35zM271.9 501.7l2.35 -2.35l2.35 2.35l-2.35 2.35zM271.9 503.5l2.35 -2.35l2.35 2.35l-2.35 2.35zM271.9 505.5l2.35 -2.35l2.35 2.35l-2.35 2.35zM271.9 507.3l2.35 -2.35l2.35 2.35l-2.35 2.35zM271.9 509.1l2.35 -2.35l2.35 2.35l-2.35 2.35zM271.9 511.5l2.35 -2.35l2.35 2.35l-2.35 2.35zM271.9 513.6l2.35 -2.35l2.35 2.35l-2.35 2.35zM271.9 516.3l2.35 -2.35l2.35 2.35l-2.35 2.35zM271.9 517.3l2.35 -2.35l2.35 2.35l-2.35 2.35zM271.9 518.8l2.35 -2.35l2.35 2.35l-2.35 2.35zM271.9 520.2l2.35 -2.35l2.35 2.35l-2.35 2.35zM271.9 521.7l2.35 -2.35l2.35 2.35l-2.35 2.35zM277.3 460.4l2.35 -2.35l2.35 2.35l-2.35 2.35zM277.3 463.5l2.35 -2.35l2.35 2.35l-2.35 2.35zM277.3 468.6l2.35 -2.35l2.35 2.35l-2.35 2.35zM277.3 473.5l2.35 -2.35l2.35 2.35l-2.35 2.35zM277.3 475.3l2.35 -2.35l2.35 2.35l-2.35 2.35zM277.3 477.2l2.35 -2.35l2.35 2.35l-2.35 2.35zM277.3 478.9l2.35 -2.35l2.35 2.35l-2.35 2.35zM277.3 480.9l2.35 -2.35l2.35 2.35l-2.35 2.35zM277.3 482.3l2.35 -2.35l2.35 2.35l-2.35 2.35zM277.3 483.6l2.35 -2.35l2.35 2.35l-2.35 2.35zM277.3 484.9l2.35 -2.35l2.35 2.35l-2.35 2.35zM277.3 486.7l2.35 -2.35l2.35 2.35l-2.35 2.35zM277.3 488.3l2.35 -2.35l2.35 2.35l-2.35 2.35zM277.3 490l2.35 -2.35l2.35 2.35l-2.35 2.35zM277.3 491.8l2.35 -2.35l2.35 2.35l-2.35 2.35zM277.3 493.4l2.35 -2.35l2.35 2.35l-2.35 2.35zM277.3 494.9l2.35 -2.35l2.35 2.35l-2.35 2.35zM277.3 496.6l2.35 -2.35l2.35 2.35l-2.35 2.35zM277.3 498.3l2.35 -2.35l2.35 2.35l-2.35 2.35zM277.3 499.9l2.35 -2.35l2.35 2.35l-2.35 2.35zM277.3 501.5l2.35 -2.35l2.35 2.35l-2.35 2.35zM277.3 503.6l2.35 -2.35l2.35 2.35l-2.35 2.35zM277.3 505.4l2.35 -2.35l2.35 2.35l-2.35 2.35zM277.3 507.8l2.35 -2.35l2.35 2.35l-2.35 2.35zM277.3 508.6l2.35 -2.35l2.35 2.35l-2.35 2.35zM277.3 510l2.35 -2.35l2.35 2.35l-2.35 2.35zM277.3 511.3l2.35 -2.35l2.35 2.35l-2.35 2.35zM277.3 512.5l2.35 -2.35l2.35 2.35l-2.35 2.35zM282.7 458.3l2.35 -2.35l2.35 2.35l-2.35 2.35zM282.7 460.9l2.35 -2.35l2.35 2.35l-2.35 2.35zM282.7 465.3l2.35 -2.35l2.35 2.35l-2.35 2.35zM282.7 469.4l2.35 -2.35l2.35 2.35l-2.35 2.35zM282.7 471l2.35 -2.35l2.35 2.35l-2.35 2.35zM282.7 472.6l2.35 -2.35l2.35 2.35l-2.35 2.35zM282.7 474l2.35 -2.35l2.35 2.35l-2.35 2.35zM282.7 475.8l2.35 -2.35l2.35 2.35l-2.35 2.35zM282.7 476.9l2.35 -2.35l2.35 2.35l-2.35 2.35zM282.7 478l2.35 -2.35l2.35 2.35l-2.35 2.35zM282.7 479.2l2.35 -2.35l2.35 2.35l-2.35 2.35zM282.7 480.7l2.35 -2.35l2.35 2.35l-2.35 2.35zM282.7 482l2.35 -2.35l2.35 2.35l-2.35 2.35zM282.7 483.5l2.35 -2.35l2.35 2.35l-2.35 2.35zM282.7 485l2.35 -2.35l2.35 2.35l-2.35 2.35zM282.7 486.4l2.35 -2.35l2.35 2.35l-2.35 2.35zM282.7 487.7l2.35 -2.35l2.35 2.35l-2.35 2.35zM282.7 489.1l2.35 -2.35l2.35 2.35l-2.35 2.35zM282.7 490.6l2.35 -2.35l2.35 2.35l-2.35 2.35zM282.7 491.9l2.35 -2.35l2.35 2.35l-2.35 2.35zM282.7 493.2l2.35 -2.35l2.35 2.35l-2.35 2.35zM282.7 495l2.35 -2.35l2.35 2.35l-2.35 2.35zM282.7 496.6l2.35 -2.35l2.35 2.35l-2.35 2.35zM282.7 498.6l2.35 -2.35l2.35 2.35l-2.35 2.35zM282.7 499.3l2.35 -2.35l2.35 2.35l-2.35 2.35zM282.7 500.5l2.35 -2.35l2.35 2.35l-2.35 2.35zM282.7 501.6l2.35 -2.35l2.35 2.35l-2.35 2.35zM282.7 502.6l2.35 -2.35l2.35 2.35l-2.35 2.35zM288.2 456.1l2.35 -2.35l2.35 2.35l-2.35 2.35zM288.2 458.2l2.35 -2.35l2.35 2.35l-2.35 2.35zM288.2 461.8l2.35 -2.35l2.35 2.35l-2.35 2.35zM288.2 465.1l2.35 -2.35l2.35 2.35l-2.35 2.35zM288.2 466.4l2.35 -2.35l2.35 2.35l-2.35 2.35zM288.2 467.7l2.35 -2.35l2.35 2.35l-2.35 2.35zM288.2 468.9l2.35 -2.35l2.35 2.35l-2.35 2.35zM288.2 470.3l2.35 -2.35l2.35 2.35l-2.35 2.35zM288.2 471.2l2.35 -2.35l2.35 2.35l-2.35 2.35zM288.2 472.1l2.35 -2.35l2.35 2.35l-2.35 2.35zM288.2 473l2.35 -2.35l2.35 2.35l-2.35 2.35zM288.2 474.3l2.35 -2.35l2.35 2.35l-2.35 2.35zM288.2 475.3l2.35 -2.35l2.35 2.35l-2.35 2.35zM288.2 476.6l2.35 -2.35l2.35 2.35l-2.35 2.35zM288.2 477.8l2.35 -2.35l2.35 2.35l-2.35 2.35zM288.2 478.9l2.35 -2.35l2.35 2.35l-2.35 2.35zM288.2 480l2.35 -2.35l2.35 2.35l-2.35 2.35zM288.2 481.1l2.35 -2.35l2.35 2.35l-2.35 2.35zM288.2 482.3l2.35 -2.35l2.35 2.35l-2.35 2.35zM288.2 483.4l2.35 -2.35l2.35 2.35l-2.35 2.35zM288.2 484.5l2.35 -2.35l2.35 2.35l-2.35 2.35zM288.2 485.9l2.35 -2.35l2.35 2.35l-2.35 2.35zM288.2 487.2l2.35 -2.35l2.35 2.35l-2.35 2.35zM288.2 488.9l2.35 -2.35l2.35 2.35l-2.35 2.35zM288.2 489.5l2.35 -2.35l2.35 2.35l-2.35 2.35zM288.2 490.4l2.35 -2.35l2.35 2.35l-2.35 2.35zM288.2 491.3l2.35 -2.35l2.35 2.35l-2.35 2.35zM288.2 492.1l2.35 -2.35l2.35 2.35l-2.35 2.35zM293.6 453.7l2.35 -2.35l2.35 2.35l-2.35 2.35zM293.6 455.4l2.35 -2.35l2.35 2.35l-2.35 2.35zM293.6 458.1l2.35 -2.35l2.35 2.35l-2.35 2.35zM293.6 460.6l2.35 -2.35l2.35 2.35l-2.35 2.35zM293.6 461.6l2.35 -2.35l2.35 2.35l-2.35 2.35zM293.6 462.6l2.35 -2.35l2.35 2.35l-2.35 2.35zM293.6 463.5l2.35 -2.35l2.35 2.35l-2.35 2.35zM293.6 464.5l2.35 -2.35l2.35 2.35l-2.35 2.35zM293.6 465.3l2.35 -2.35l2.35 2.35l-2.35 2.35zM293.6 465.9l2.35 -2.35l2.35 2.35l-2.35 2.35zM293.6 466.6l2.35 -2.35l2.35 2.35l-2.35 2.35zM293.6 467.6l2.35 -2.35l2.35 2.35l-2.35 2.35zM293.6 468.4l2.35 -2.35l2.35 2.35l-2.35 2.35zM293.6 469.3l2.35 -2.35l2.35 2.35l-2.35 2.35zM293.6 470.2l2.35 -2.35l2.35 2.35l-2.35 2.35zM293.6 471.1l2.35 -2.35l2.35 2.35l-2.35 2.35zM293.6 471.9l2.35 -2.35l2.35 2.35l-2.35 2.35zM293.6 472.8l2.35 -2.35l2.35 2.35l-2.35 2.35zM293.6 473.7l2.35 -2.35l2.35 2.35l-2.35 2.35zM293.6 474.5l2.35 -2.35l2.35 2.35l-2.35 2.35zM293.6 475.3l2.35 -2.35l2.35 2.35l-2.35 2.35zM293.6 476.4l2.35 -2.35l2.35 2.35l-2.35 2.35zM293.6 477.4l2.35 -2.35l2.35 2.35l-2.35 2.35zM293.6 478.6l2.35 -2.35l2.35 2.35l-2.35 2.35zM293.6 479.1l2.35 -2.35l2.35 2.35l-2.35 2.35zM293.6 479.8l2.35 -2.35l2.35 2.35l-2.35 2.35zM293.6 480.5l2.35 -2.35l2.35 2.35l-2.35 2.35zM293.6 481.1l2.35 -2.35l2.35 2.35l-2.35 2.35zM299 451.3l2.35 -2.35l2.35 2.35l-2.35 2.35zM299 452.4l2.35 -2.35l2.35 2.35l-2.35 2.35zM299 454.2l2.35 -2.35l2.35 2.35l-2.35 2.35zM299 456l2.35 -2.35l2.35 2.35l-2.35 2.35zM299 456.6l2.35 -2.35l2.35 2.35l-2.35 2.35zM299 457.2l2.35 -2.35l2.35 2.35l-2.35 2.35zM299 457.9l2.35 -2.35l2.35 2.35l-2.35 2.35zM299 458.6l2.35 -2.35l2.35 2.35l-2.35 2.35zM299 459.1l2.35 -2.35l2.35 2.35l-2.35 2.35zM299 459.5l2.35 -2.35l2.35 2.35l-2.35 2.35zM299 460l2.35 -2.35l2.35 2.35l-2.35 2.35zM299 460.6l2.35 -2.35l2.35 2.35l-2.35 2.35zM299 461.2l2.35 -2.35l2.35 2.35l-2.35 2.35zM299 461.8l2.35 -2.35l2.35 2.35l-2.35 2.35zM299 462.4l2.35 -2.35l2.35 2.35l-2.35 2.35zM299 463l2.35 -2.35l2.35 2.35l-2.35 2.35zM299 463.5l2.35 -2.35l2.35 2.35l-2.35 2.35zM299 464.1l2.35 -2.35l2.35 2.35l-2.35 2.35zM299 464.7l2.35 -2.35l2.35 2.35l-2.35 2.35zM299 465.3l2.35 -2.35l2.35 2.35l-2.35 2.35zM299 465.8l2.35 -2.35l2.35 2.35l-2.35 2.35zM299 466.6l2.35 -2.35l2.35 2.35l-2.35 2.35zM299 467.2l2.35 -2.35l2.35 2.35l-2.35 2.35zM299 468.1l2.35 -2.35l2.35 2.35l-2.35 2.35zM299 468.4l2.35 -2.35l2.35 2.35l-2.35 2.35zM299 468.8l2.35 -2.35l2.35 2.35l-2.35 2.35zM299 469.3l2.35 -2.35l2.35 2.35l-2.35 2.35zM299 469.8l2.35 -2.35l2.35 2.35l-2.35 2.35zM304.5 448.9l2.35 -2.35l2.35 2.35l-2.35 2.35zM304.5 449.4l2.35 -2.35l2.35 2.35l-2.35 2.35zM304.5 450.3l2.35 -2.35l2.35 2.35l-2.35 2.35zM304.5 451.2l2.35 -2.35l2.35 2.35l-2.35 2.35zM304.5 451.5l2.35 -2.35l2.35 2.35l-2.35 2.35zM304.5 451.8l2.35 -2.35l2.35 2.35l-2.35 2.35zM304.5 452.1l2.35 -2.35l2.35 2.35l-2.35 2.35zM304.5 452.5l2.35 -2.35l2.35 2.35l-2.35 2.35zM304.5 452.7l2.35 -2.35l2.35 2.35l-2.35 2.35zM304.5 453l2.35 -2.35l2.35 2.35l-2.35 2.35zM304.5 453.2l2.35 -2.35l2.35 2.35l-2.35 2.35zM304.5 453.5l2.35 -2.35l2.35 2.35l-2.35 2.35zM304.5 453.8l2.35 -2.35l2.35 2.35l-2.35 2.35zM304.5 454.1l2.35 -2.35l2.35 2.35l-2.35 2.35zM304.5 454.4l2.35 -2.35l2.35 2.35l-2.35 2.35zM304.5 454.7l2.35 -2.35l2.35 2.35l-2.35 2.35zM304.5 455l2.35 -2.35l2.35 2.35l-2.35 2.35zM304.5 455.3l2.35 -2.35l2.35 2.35l-2.35 2.35zM304.5 455.6l2.35 -2.35l2.35 2.35l-2.35 2.35zM304.5 455.9l2.35 -2.35l2.35 2.35l-2.35 2.35zM304.5 456.2l2.35 -2.35l2.35 2.35l-2.35 2.35zM304.5 456.5l2.35 -2.35l2.35 2.35l-2.35 2.35zM304.5 456.9l2.35 -2.35l2.35 2.35l-2.35 2.35zM304.5 457.3l2.35 -2.35l2.35 2.35l-2.35 2.35zM304.5 457.4l2.35 -2.35l2.35 2.35l-2.35 2.35zM304.5 457.7l2.35 -2.35l2.35 2.35l-2.35 2.35zM304.5 457.9l2.35 -2.35l2.35 2.35l-2.35 2.35zM304.5 458.1l2.35 -2.35l2.35 2.35l-2.35 2.35zM309.9 446.4l2.35 -2.35l2.35 2.35l-2.35 2.35zM309.9 446.4l2.35 -2.35l2.35 2.35l-2.35 2.35zM309.9 446.4l2.35 -2.35l2.35 2.35l-2.35 2.35zM309.9 446.4l2.35 -2.35l2.35 2.35l-2.35 2.35zM309.9 446.4l2.35 -2.35l2.35 2.35l-2.35 2.35zM309.9 446.4l2.35 -2.35l2.35 2.35l-2.35 2.35zM309.9 446.4l2.35 -2.35l2.35 2.35l-2.35 2.35zM309.9 446.4l2.35 -2.35l2.35 2.35l-2.35 2.35zM309.9 446.4l2.35 -2.35l2.35 2.35l-2.35 2.35zM309.9 446.4l2.35 -2.35l2.35 2.35l-2.35 2.35zM309.9 446.4l2.35 -2.35l2.35 2.35l-2.35 2.35zM309.9 446.4l2.35 -2.35l2.35 2.35l-2.35 2.35zM309.9 446.4l2.35 -2.35l2.35 2.35l-2.35 2.35zM309.9 446.4l2.35 -2.35l2.35 2.35l-2.35 2.35zM309.9 446.4l2.35 -2.35l2.35 2.35l-2.35 2.35zM309.9 446.4l2.35 -2.35l2.35 2.35l-2.35 2.35zM309.9 446.4l2.35 -2.35l2.35 2.35l-2.35 2.35zM309.9 446.4l2.35 -2.35l2.35 2.35l-2.35 2.35zM309.9 446.4l2.35 -2.35l2.35 2.35l-2.35 2.35zM309.9 446.4l2.35 -2.35l2.35 2.35l-2.35 2.35zM309.9 446.4l2.35 -2.35l2.35 2.35l-2.35 2.35zM309.9 446.4l2.35 -2.35l2.35 2.35l-2.35 2.35zM309.9 446.4l2.35 -2.35l2.35 2.35l-2.35 2.35zM309.9 446.4l2.35 -2.35l2.35 2.35l-2.35 2.35zM309.9 446.4l2.35 -2.35l2.35 2.35l-2.35 2.35zM309.9 446.4l2.35 -2.35l2.35 2.35l-2.35 2.35zM309.9 446.4l2.35 -2.35l2.35 2.35l-2.35 2.35zM309.9 446.4l2.35 -2.35l2.35 2.35l-2.35 2.35zM315.3 443.8l2.35 -2.35l2.35 2.35l-2.35 2.35zM315.3 443.3l2.35 -2.35l2.35 2.35l-2.35 2.35zM315.3 442.4l2.35 -2.35l2.35 2.35l-2.35 2.35zM315.3 441.5l2.35 -2.35l2.35 2.35l-2.35 2.35zM315.3 441.2l2.35 -2.35l2.35 2.35l-2.35 2.35zM315.3 440.9l2.35 -2.35l2.35 2.35l-2.35 2.35zM315.3 440.6l2.35 -2.35l2.35 2.35l-2.35 2.35zM315.3 440.2l2.35 -2.35l2.35 2.35l-2.35 2.35zM315.3 440l2.35 -2.35l2.35 2.35l-2.35 2.35zM315.3 439.7l2.35 -2.35l2.35 2.35l-2.35 2.35zM315.3 439.5l2.35 -2.35l2.35 2.35l-2.35 2.35zM315.3 439.2l2.35 -2.35l2.35 2.35l-2.35 2.35zM315.3 438.9l2.35 -2.35l2.35 2.35l-2.35 2.35zM315.3 438.6l2.35 -2.35l2.35 2.35l-2.35 2.35zM315.3 438.3l2.35 -2.35l2.35 2.35l-2.35 2.35zM315.3 438l2.35 -2.35l2.35 2.35l-2.35 2.35zM315.3 437.7l2.35 -2.35l2.35 2.35l-2.35 2.35zM315.3 437.4l2.35 -2.35l2.35 2.35l-2.35 2.35zM315.3 437.1l2.35 -2.35l2.35 2.35l-2.35 2.35zM315.3 436.8l2.35 -2.35l2.35 2.35l-2.35 2.35zM315.3 436.5l2.35 -2.35l2.35 2.35l-2.35 2.35zM315.3 436.2l2.35 -2.35l2.35 2.35l-2.35 2.35zM315.3 435.8l2.35 -2.35l2.35 2.35l-2.35 2.35zM315.3 435.4l2.35 -2.35l2.35 2.35l-2.35 2.35zM315.3 435.3l2.35 -2.35l2.35 2.35l-2.35 2.35zM315.3 435l2.35 -2.35l2.35 2.35l-2.35 2.35zM315.3 434.8l2.35 -2.35l2.35 2.35l-2.35 2.35zM315.3 434.6l2.35 -2.35l2.35 2.35l-2.35 2.35zM320.8 441.4l2.35 -2.35l2.35 2.35l-2.35 2.35zM320.8 440.3l2.35 -2.35l2.35 2.35l-2.35 2.35zM320.8 438.5l2.35 -2.35l2.35 2.35l-2.35 2.35zM320.8 436.7l2.35 -2.35l2.35 2.35l-2.35 2.35zM320.8 436.1l2.35 -2.35l2.35 2.35l-2.35 2.35zM320.8 435.5l2.35 -2.35l2.35 2.35l-2.35 2.35zM320.8 434.8l2.35 -2.35l2.35 2.35l-2.35 2.35zM320.8 434.1l2.35 -2.35l2.35 2.35l-2.35 2.35zM320.8 433.6l2.35 -2.35l2.35 2.35l-2.35 2.35zM320.8 433.2l2.35 -2.35l2.35 2.35l-2.35 2.35zM320.8 432.7l2.35 -2.35l2.35 2.35l-2.35 2.35zM320.8 432.1l2.35 -2.35l2.35 2.35l-2.35 2.35zM320.8 431.5l2.35 -2.35l2.35 2.35l-2.35 2.35zM320.8 430.9l2.35 -2.35l2.35 2.35l-2.35 2.35zM320.8 430.3l2.35 -2.35l2.35 2.35l-2.35 2.35zM320.8 429.7l2.35 -2.35l2.35 2.35l-2.35 2.35zM320.8 429.2l2.35 -2.35l2.35 2.35l-2.35 2.35zM320.8 428.6l2.35 -2.35l2.35 2.35l-2.35 2.35zM320.8 428l2.35 -2.35l2.35 2.35l-2.35 2.35zM320.8 427.4l2.35 -2.35l2.35 2.35l-2.35 2.35zM320.8 426.9l2.35 -2.35l2.35 2.35l-2.35 2.35zM320.8 426.1l2.35 -2.35l2.35 2.35l-2.35 2.35zM320.8 425.5l2.35 -2.35l2.35 2.35l-2.35 2.35zM320.8 424.6l2.35 -2.35l2.35 2.35l-2.35 2.35zM320.8 424.3l2.35 -2.35l2.35 2.35l-2.35 2.35zM320.8 423.9l2.35 -2.35l2.35 2.35l-2.35 2.35zM320.8 423.4l2.35 -2.35l2.35 2.35l-2.35 2.35zM320.8 422.9l2.35 -2.35l2.35 2.35l-2.35 2.35zM326.2 439l2.35 -2.35l2.35 2.35l-2.35 2.35zM326.2 437.3l2.35 -2.35l2.35 2.35l-2.35 2.35zM326.2 434.6l2.35 -2.35l2.35 2.35l-2.35 2.35zM326.2 432.1l2.35 -2.35l2.35 2.35l-2.35 2.35zM326.2 431.1l2.35 -2.35l2.35 2.35l-2.35 2.35zM326.2 430.1l2.35 -2.35l2.35 2.35l-2.35 2.35zM326.2 429.2l2.35 -2.35l2.35 2.35l-2.35 2.35zM326.2 428.2l2.35 -2.35l2.35 2.35l-2.35 2.35zM326.2 427.4l2.35 -2.35l2.35 2.35l-2.35 2.35zM326.2 426.8l2.35 -2.35l2.35 2.35l-2.35 2.35zM326.2 426.1l2.35 -2.35l2.35 2.35l-2.35 2.35zM326.2 425.1l2.35 -2.35l2.35 2.35l-2.35 2.35zM326.2 424.3l2.35 -2.35l2.35 2.35l-2.35 2.35zM326.2 423.4l2.35 -2.35l2.35 2.35l-2.35 2.35zM326.2 422.5l2.35 -2.35l2.35 2.35l-2.35 2.35zM326.2 421.6l2.35 -2.35l2.35 2.35l-2.35 2.35zM326.2 420.8l2.35 -2.35l2.35 2.35l-2.35 2.35zM326.2 419.9l2.35 -2.35l2.35 2.35l-2.35 2.35zM326.2 419l2.35 -2.35l2.35 2.35l-2.35 2.35zM326.2 418.2l2.35 -2.35l2.35 2.35l-2.35 2.35zM326.2 417.4l2.35 -2.35l2.35 2.35l-2.35 2.35zM326.2 416.3l2.35 -2.35l2.35 2.35l-2.35 2.35zM326.2 415.3l2.35 -2.35l2.35 2.35l-2.35 2.35zM326.2 414.1l2.35 -2.35l2.35 2.35l-2.35 2.35zM326.2 413.6l2.35 -2.35l2.35 2.35l-2.35 2.35zM326.2 412.9l2.35 -2.35l2.35 2.35l-2.35 2.35zM326.2 412.2l2.35 -2.35l2.35 2.35l-2.35 2.35zM326.2 411.6l2.35 -2.35l2.35 2.35l-2.35 2.35zM331.6 436.6l2.35 -2.35l2.35 2.35l-2.35 2.35zM331.6 434.5l2.35 -2.35l2.35 2.35l-2.35 2.35zM331.6 430.9l2.35 -2.35l2.35 2.35l-2.35 2.35zM331.6 427.6l2.35 -2.35l2.35 2.35l-2.35 2.35zM331.6 426.3l2.35 -2.35l2.35 2.35l-2.35 2.35zM331.6 425l2.35 -2.35l2.35 2.35l-2.35 2.35zM331.6 423.8l2.35 -2.35l2.35 2.35l-2.35 2.35zM331.6 422.4l2.35 -2.35l2.35 2.35l-2.35 2.35zM331.6 421.5l2.35 -2.35l2.35 2.35l-2.35 2.35zM331.6 420.6l2.35 -2.35l2.35 2.35l-2.35 2.35zM331.6 419.7l2.35 -2.35l2.35 2.35l-2.35 2.35zM331.6 418.4l2.35 -2.35l2.35 2.35l-2.35 2.35zM331.6 417.4l2.35 -2.35l2.35 2.35l-2.35 2.35zM331.6 416.1l2.35 -2.35l2.35 2.35l-2.35 2.35zM331.6 414.9l2.35 -2.35l2.35 2.35l-2.35 2.35zM331.6 413.8l2.35 -2.35l2.35 2.35l-2.35 2.35zM331.6 412.7l2.35 -2.35l2.35 2.35l-2.35 2.35zM331.6 411.6l2.35 -2.35l2.35 2.35l-2.35 2.35zM331.6 410.4l2.35 -2.35l2.35 2.35l-2.35 2.35zM331.6 409.3l2.35 -2.35l2.35 2.35l-2.35 2.35zM331.6 408.2l2.35 -2.35l2.35 2.35l-2.35 2.35zM331.6 406.8l2.35 -2.35l2.35 2.35l-2.35 2.35zM331.6 405.5l2.35 -2.35l2.35 2.35l-2.35 2.35zM331.6 403.8l2.35 -2.35l2.35 2.35l-2.35 2.35zM331.6 403.2l2.35 -2.35l2.35 2.35l-2.35 2.35zM331.6 402.3l2.35 -2.35l2.35 2.35l-2.35 2.35zM331.6 401.4l2.35 -2.35l2.35 2.35l-2.35 2.35zM331.6 400.6l2.35 -2.35l2.35 2.35l-2.35 2.35zM337.1 434.4l2.35 -2.35l2.35 2.35l-2.35 2.35zM337.1 431.8l2.35 -2.35l2.35 2.35l-2.35 2.35zM337.1 427.4l2.35 -2.35l2.35 2.35l-2.35 2.35zM337.1 423.3l2.35 -2.35l2.35 2.35l-2.35 2.35zM337.1 421.7l2.35 -2.35l2.35 2.35l-2.35 2.35zM337.1 420.1l2.35 -2.35l2.35 2.35l-2.35 2.35zM337.1 418.7l2.35 -2.35l2.35 2.35l-2.35 2.35zM337.1 416.9l2.35 -2.35l2.35 2.35l-2.35 2.35zM337.1 415.8l2.35 -2.35l2.35 2.35l-2.35 2.35zM337.1 414.7l2.35 -2.35l2.35 2.35l-2.35 2.35zM337.1 413.5l2.35 -2.35l2.35 2.35l-2.35 2.35zM337.1 412l2.35 -2.35l2.35 2.35l-2.35 2.35zM337.1 410.7l2.35 -2.35l2.35 2.35l-2.35 2.35zM337.1 409.2l2.35 -2.35l2.35 2.35l-2.35 2.35zM337.1 407.7l2.35 -2.35l2.35 2.35l-2.35 2.35zM337.1 406.3l2.35 -2.35l2.35 2.35l-2.35 2.35zM337.1 405l2.35 -2.35l2.35 2.35l-2.35 2.35zM337.1 403.6l2.35 -2.35l2.35 2.35l-2.35 2.35zM337.1 402.1l2.35 -2.35l2.35 2.35l-2.35 2.35zM337.1 400.8l2.35 -2.35l2.35 2.35l-2.35 2.35zM337.1 399.5l2.35 -2.35l2.35 2.35l-2.35 2.35zM337.1 397.7l2.35 -2.35l2.35 2.35l-2.35 2.35zM337.1 396.1l2.35 -2.35l2.35 2.35l-2.35 2.35zM337.1 394.1l2.35 -2.35l2.35 2.35l-2.35 2.35zM337.1 393.4l2.35 -2.35l2.35 2.35l-2.35 2.35zM337.1 392.2l2.35 -2.35l2.35 2.35l-2.35 2.35zM337.1 391.1l2.35 -2.35l2.35 2.35l-2.35 2.35zM337.1 390.1l2.35 -2.35l2.35 2.35l-2.35 2.35zM342.5 432.3l2.35 -2.35l2.35 2.35l-2.35 2.35zM342.5 429.2l2.35 -2.35l2.35 2.35l-2.35 2.35zM342.5 424.1l2.35 -2.35l2.35 2.35l-2.35 2.35zM342.5 419.2l2.35 -2.35l2.35 2.35l-2.35 2.35zM342.5 417.4l2.35 -2.35l2.35 2.35l-2.35 2.35zM342.5 415.5l2.35 -2.35l2.35 2.35l-2.35 2.35zM342.5 413.8l2.35 -2.35l2.35 2.35l-2.35 2.35zM342.5 411.8l2.35 -2.35l2.35 2.35l-2.35 2.35zM342.5 410.4l2.35 -2.35l2.35 2.35l-2.35 2.35zM342.5 409.1l2.35 -2.35l2.35 2.35l-2.35 2.35zM342.5 407.8l2.35 -2.35l2.35 2.35l-2.35 2.35zM342.5 406l2.35 -2.35l2.35 2.35l-2.35 2.35zM342.5 404.4l2.35 -2.35l2.35 2.35l-2.35 2.35zM342.5 402.7l2.35 -2.35l2.35 2.35l-2.35 2.35zM342.5 400.9l2.35 -2.35l2.35 2.35l-2.35 2.35zM342.5 399.3l2.35 -2.35l2.35 2.35l-2.35 2.35zM342.5 397.8l2.35 -2.35l2.35 2.35l-2.35 2.35zM342.5 396.1l2.35 -2.35l2.35 2.35l-2.35 2.35zM342.5 394.4l2.35 -2.35l2.35 2.35l-2.35 2.35zM342.5 392.8l2.35 -2.35l2.35 2.35l-2.35 2.35zM342.5 391.2l2.35 -2.35l2.35 2.35l-2.35 2.35zM342.5 389.1l2.35 -2.35l2.35 2.35l-2.35 2.35zM342.5 387.3l2.35 -2.35l2.35 2.35l-2.35 2.35zM342.5 384.9l2.35 -2.35l2.35 2.35l-2.35 2.35zM342.5 384.1l2.35 -2.35l2.35 2.35l-2.35 2.35zM342.5 382.7l2.35 -2.35l2.35 2.35l-2.35 2.35zM342.5 381.4l2.35 -2.35l2.35 2.35l-2.35 2.35zM342.5 380.2l2.35 -2.35l2.35 2.35l-2.35 2.35zM347.9 430.3l2.35 -2.35l2.35 2.35l-2.35 2.35zM347.9 426.8l2.35 -2.35l2.35 2.35l-2.35 2.35zM347.9 421l2.35 -2.35l2.35 2.35l-2.35 2.35zM347.9 415.4l2.35 -2.35l2.35 2.35l-2.35 2.35zM347.9 413.4l2.35 -2.35l2.35 2.35l-2.35 2.35zM347.9 411.3l2.35 -2.35l2.35 2.35l-2.35 2.35zM347.9 409.3l2.35 -2.35l2.35 2.35l-2.35 2.35zM347.9 407l2.35 -2.35l2.35 2.35l-2.35 2.35zM347.9 405.4l2.35 -2.35l2.35 2.35l-2.35 2.35zM347.9 403.9l2.35 -2.35l2.35 2.35l-2.35 2.35zM347.9 402.5l2.35 -2.35l2.35 2.35l-2.35 2.35zM347.9 400.4l2.35 -2.35l2.35 2.35l-2.35 2.35zM347.9 398.6l2.35 -2.35l2.35 2.35l-2.35 2.35zM347.9 396.6l2.35 -2.35l2.35 2.35l-2.35 2.35zM347.9 394.6l2.35 -2.35l2.35 2.35l-2.35 2.35zM347.9 392.8l2.35 -2.35l2.35 2.35l-2.35 2.35zM347.9 391l2.35 -2.35l2.35 2.35l-2.35 2.35zM347.9 389.2l2.35 -2.35l2.35 2.35l-2.35 2.35zM347.9 387.2l2.35 -2.35l2.35 2.35l-2.35 2.35zM347.9 385.4l2.35 -2.35l2.35 2.35l-2.35 2.35zM347.9 383.6l2.35 -2.35l2.35 2.35l-2.35 2.35zM347.9 381.2l2.35 -2.35l2.35 2.35l-2.35 2.35zM347.9 379.1l2.35 -2.35l2.35 2.35l-2.35 2.35zM347.9 376.4l2.35 -2.35l2.35 2.35l-2.35 2.35zM347.9 375.4l2.35 -2.35l2.35 2.35l-2.35 2.35zM347.9 373.9l2.35 -2.35l2.35 2.35l-2.35 2.35zM347.9 372.5l2.35 -2.35l2.35 2.35l-2.35 2.35zM347.9 371l2.35 -2.35l2.35 2.35l-2.35 2.35zM353.4 428.6l2.35 -2.35l2.35 2.35l-2.35 2.35zM353.4 424.7l2.35 -2.35l2.35 2.35l-2.35 2.35zM353.4 418.2l2.35 -2.35l2.35 2.35l-2.35 2.35zM353.4 412l2.35 -2.35l2.35 2.35l-2.35 2.35zM353.4 409.8l2.35 -2.35l2.35 2.35l-2.35 2.35zM353.4 407.4l2.35 -2.35l2.35 2.35l-2.35 2.35zM353.4 405.2l2.35 -2.35l2.35 2.35l-2.35 2.35zM353.4 402.6l2.35 -2.35l2.35 2.35l-2.35 2.35zM353.4 400.9l2.35 -2.35l2.35 2.35l-2.35 2.35zM353.4 399.2l2.35 -2.35l2.35 2.35l-2.35 2.35zM353.4 397.6l2.35 -2.35l2.35 2.35l-2.35 2.35zM353.4 395.3l2.35 -2.35l2.35 2.35l-2.35 2.35zM353.4 393.4l2.35 -2.35l2.35 2.35l-2.35 2.35zM353.4 391.1l2.35 -2.35l2.35 2.35l-2.35 2.35zM353.4 388.9l2.35 -2.35l2.35 2.35l-2.35 2.35zM353.4 386.8l2.35 -2.35l2.35 2.35l-2.35 2.35zM353.4 384.9l2.35 -2.35l2.35 2.35l-2.35 2.35zM353.4 382.8l2.35 -2.35l2.35 2.35l-2.35 2.35zM353.4 380.6l2.35 -2.35l2.35 2.35l-2.35 2.35zM353.4 378.7l2.35 -2.35l2.35 2.35l-2.35 2.35zM353.4 376.7l2.35 -2.35l2.35 2.35l-2.35 2.35zM353.4 374l2.35 -2.35l2.35 2.35l-2.35 2.35zM353.4 371.7l2.35 -2.35l2.35 2.35l-2.35 2.35zM353.4 368.7l2.35 -2.35l2.35 2.35l-2.35 2.35zM353.4 367.6l2.35 -2.35l2.35 2.35l-2.35 2.35zM353.4 365.9l2.35 -2.35l2.35 2.35l-2.35 2.35zM353.4 364.3l2.35 -2.35l2.35 2.35l-2.35 2.35zM353.4 362.7l2.35 -2.35l2.35 2.35l-2.35 2.35zM358.8 427l2.35 -2.35l2.35 2.35l-2.35 2.35zM358.8 422.7l2.35 -2.35l2.35 2.35l-2.35 2.35zM358.8 415.7l2.35 -2.35l2.35 2.35l-2.35 2.35zM358.8 409l2.35 -2.35l2.35 2.35l-2.35 2.35zM358.8 406.5l2.35 -2.35l2.35 2.35l-2.35 2.35zM358.8 403.9l2.35 -2.35l2.35 2.35l-2.35 2.35zM358.8 401.6l2.35 -2.35l2.35 2.35l-2.35 2.35zM358.8 398.8l2.35 -2.35l2.35 2.35l-2.35 2.35zM358.8 396.9l2.35 -2.35l2.35 2.35l-2.35 2.35zM358.8 395.1l2.35 -2.35l2.35 2.35l-2.35 2.35zM358.8 393.3l2.35 -2.35l2.35 2.35l-2.35 2.35zM358.8 390.8l2.35 -2.35l2.35 2.35l-2.35 2.35zM358.8 388.7l2.35 -2.35l2.35 2.35l-2.35 2.35zM358.8 386.2l2.35 -2.35l2.35 2.35l-2.35 2.35zM358.8 383.8l2.35 -2.35l2.35 2.35l-2.35 2.35zM358.8 381.6l2.35 -2.35l2.35 2.35l-2.35 2.35zM358.8 379.5l2.35 -2.35l2.35 2.35l-2.35 2.35zM358.8 377.2l2.35 -2.35l2.35 2.35l-2.35 2.35zM358.8 374.8l2.35 -2.35l2.35 2.35l-2.35 2.35zM358.8 372.7l2.35 -2.35l2.35 2.35l-2.35 2.35zM358.8 370.5l2.35 -2.35l2.35 2.35l-2.35 2.35zM358.8 367.6l2.35 -2.35l2.35 2.35l-2.35 2.35zM358.8 365.1l2.35 -2.35l2.35 2.35l-2.35 2.35zM358.8 361.8l2.35 -2.35l2.35 2.35l-2.35 2.35zM358.8 360.6l2.35 -2.35l2.35 2.35l-2.35 2.35zM358.8 358.8l2.35 -2.35l2.35 2.35l-2.35 2.35zM358.8 357l2.35 -2.35l2.35 2.35l-2.35 2.35zM358.8 355.3l2.35 -2.35l2.35 2.35l-2.35 2.35zM364.2 425.6l2.35 -2.35l2.35 2.35l-2.35 2.35zM364.2 421.1l2.35 -2.35l2.35 2.35l-2.35 2.35zM364.2 413.5l2.35 -2.35l2.35 2.35l-2.35 2.35zM364.2 406.4l2.35 -2.35l2.35 2.35l-2.35 2.35zM364.2 403.7l2.35 -2.35l2.35 2.35l-2.35 2.35zM364.2 400.9l2.35 -2.35l2.35 2.35l-2.35 2.35zM364.2 398.4l2.35 -2.35l2.35 2.35l-2.35 2.35zM364.2 395.4l2.35 -2.35l2.35 2.35l-2.35 2.35zM364.2 393.4l2.35 -2.35l2.35 2.35l-2.35 2.35zM364.2 391.4l2.35 -2.35l2.35 2.35l-2.35 2.35zM364.2 389.5l2.35 -2.35l2.35 2.35l-2.35 2.35zM364.2 386.8l2.35 -2.35l2.35 2.35l-2.35 2.35zM364.2 384.6l2.35 -2.35l2.35 2.35l-2.35 2.35zM364.2 382l2.35 -2.35l2.35 2.35l-2.35 2.35zM364.2 379.4l2.35 -2.35l2.35 2.35l-2.35 2.35zM364.2 377l2.35 -2.35l2.35 2.35l-2.35 2.35zM364.2 374.8l2.35 -2.35l2.35 2.35l-2.35 2.35zM364.2 372.3l2.35 -2.35l2.35 2.35l-2.35 2.35zM364.2 369.8l2.35 -2.35l2.35 2.35l-2.35 2.35zM364.2 367.5l2.35 -2.35l2.35 2.35l-2.35 2.35zM364.2 365.1l2.35 -2.35l2.35 2.35l-2.35 2.35zM364.2 362.1l2.35 -2.35l2.35 2.35l-2.35 2.35zM364.2 359.3l2.35 -2.35l2.35 2.35l-2.35 2.35zM364.2 355.8l2.35 -2.35l2.35 2.35l-2.35 2.35zM364.2 354.6l2.35 -2.35l2.35 2.35l-2.35 2.35zM364.2 352.6l2.35 -2.35l2.35 2.35l-2.35 2.35zM364.2 350.7l2.35 -2.35l2.35 2.35l-2.35 2.35zM364.2 348.8l2.35 -2.35l2.35 2.35l-2.35 2.35zM369.7 424.5l2.35 -2.35l2.35 2.35l-2.35 2.35zM369.7 419.7l2.35 -2.35l2.35 2.35l-2.35 2.35zM369.7 411.7l2.35 -2.35l2.35 2.35l-2.35 2.35zM369.7 404.2l2.35 -2.35l2.35 2.35l-2.35 2.35zM369.7 401.4l2.35 -2.35l2.35 2.35l-2.35 2.35zM369.7 398.5l2.35 -2.35l2.35 2.35l-2.35 2.35zM369.7 395.8l2.35 -2.35l2.35 2.35l-2.35 2.35zM369.7 392.6l2.35 -2.35l2.35 2.35l-2.35 2.35zM369.7 390.5l2.35 -2.35l2.35 2.35l-2.35 2.35zM369.7 388.4l2.35 -2.35l2.35 2.35l-2.35 2.35zM369.7 386.4l2.35 -2.35l2.35 2.35l-2.35 2.35zM369.7 383.6l2.35 -2.35l2.35 2.35l-2.35 2.35zM369.7 381.2l2.35 -2.35l2.35 2.35l-2.35 2.35zM369.7 378.5l2.35 -2.35l2.35 2.35l-2.35 2.35zM369.7 375.7l2.35 -2.35l2.35 2.35l-2.35 2.35zM369.7 373.2l2.35 -2.35l2.35 2.35l-2.35 2.35zM369.7 370.8l2.35 -2.35l2.35 2.35l-2.35 2.35zM369.7 368.3l2.35 -2.35l2.35 2.35l-2.35 2.35zM369.7 365.6l2.35 -2.35l2.35 2.35l-2.35 2.35zM369.7 363.2l2.35 -2.35l2.35 2.35l-2.35 2.35zM369.7 360.7l2.35 -2.35l2.35 2.35l-2.35 2.35zM369.7 357.4l2.35 -2.35l2.35 2.35l-2.35 2.35zM369.7 354.6l2.35 -2.35l2.35 2.35l-2.35 2.35zM369.7 350.9l2.35 -2.35l2.35 2.35l-2.35 2.35zM369.7 349.5l2.35 -2.35l2.35 2.35l-2.35 2.35zM369.7 347.5l2.35 -2.35l2.35 2.35l-2.35 2.35zM369.7 345.5l2.35 -2.35l2.35 2.35l-2.35 2.35zM369.7 343.5l2.35 -2.35l2.35 2.35l-2.35 2.35zM375.1 423.6l2.35 -2.35l2.35 2.35l-2.35 2.35zM375.1 418.6l2.35 -2.35l2.35 2.35l-2.35 2.35zM375.1 410.3l2.35 -2.35l2.35 2.35l-2.35 2.35zM375.1 402.4l2.35 -2.35l2.35 2.35l-2.35 2.35zM375.1 399.5l2.35 -2.35l2.35 2.35l-2.35 2.35zM375.1 396.5l2.35 -2.35l2.35 2.35l-2.35 2.35zM375.1 393.7l2.35 -2.35l2.35 2.35l-2.35 2.35zM375.1 390.4l2.35 -2.35l2.35 2.35l-2.35 2.35zM375.1 388.2l2.35 -2.35l2.35 2.35l-2.35 2.35zM375.1 386.1l2.35 -2.35l2.35 2.35l-2.35 2.35zM375.1 384l2.35 -2.35l2.35 2.35l-2.35 2.35zM375.1 381l2.35 -2.35l2.35 2.35l-2.35 2.35zM375.1 378.5l2.35 -2.35l2.35 2.35l-2.35 2.35zM375.1 375.7l2.35 -2.35l2.35 2.35l-2.35 2.35zM375.1 372.8l2.35 -2.35l2.35 2.35l-2.35 2.35zM375.1 370.2l2.35 -2.35l2.35 2.35l-2.35 2.35zM375.1 367.7l2.35 -2.35l2.35 2.35l-2.35 2.35zM375.1 365.1l2.35 -2.35l2.35 2.35l-2.35 2.35zM375.1 362.2l2.35 -2.35l2.35 2.35l-2.35 2.35zM375.1 359.8l2.35 -2.35l2.35 2.35l-2.35 2.35zM375.1 357.2l2.35 -2.35l2.35 2.35l-2.35 2.35zM375.1 353.8l2.35 -2.35l2.35 2.35l-2.35 2.35zM375.1 350.8l2.35 -2.35l2.35 2.35l-2.35 2.35zM375.1 347l2.35 -2.35l2.35 2.35l-2.35 2.35zM375.1 345.6l2.35 -2.35l2.35 2.35l-2.35 2.35zM375.1 343.4l2.35 -2.35l2.35 2.35l-2.35 2.35zM375.1 341.3l2.35 -2.35l2.35 2.35l-2.35 2.35zM375.1 339.3l2.35 -2.35l2.35 2.35l-2.35 2.35zM380.5 422.9l2.35 -2.35l2.35 2.35l-2.35 2.35zM380.5 417.8l2.35 -2.35l2.35 2.35l-2.35 2.35zM380.5 409.3l2.35 -2.35l2.35 2.35l-2.35 2.35zM380.5 401.2l2.35 -2.35l2.35 2.35l-2.35 2.35zM380.5 398.2l2.35 -2.35l2.35 2.35l-2.35 2.35zM380.5 395.1l2.35 -2.35l2.35 2.35l-2.35 2.35zM380.5 392.2l2.35 -2.35l2.35 2.35l-2.35 2.35zM380.5 388.8l2.35 -2.35l2.35 2.35l-2.35 2.35zM380.5 386.5l2.35 -2.35l2.35 2.35l-2.35 2.35zM380.5 384.3l2.35 -2.35l2.35 2.35l-2.35 2.35zM380.5 382.2l2.35 -2.35l2.35 2.35l-2.35 2.35zM380.5 379.1l2.35 -2.35l2.35 2.35l-2.35 2.35zM380.5 376.6l2.35 -2.35l2.35 2.35l-2.35 2.35zM380.5 373.6l2.35 -2.35l2.35 2.35l-2.35 2.35zM380.5 370.7l2.35 -2.35l2.35 2.35l-2.35 2.35zM380.5 368l2.35 -2.35l2.35 2.35l-2.35 2.35zM380.5 365.5l2.35 -2.35l2.35 2.35l-2.35 2.35zM380.5 362.7l2.35 -2.35l2.35 2.35l-2.35 2.35zM380.5 359.8l2.35 -2.35l2.35 2.35l-2.35 2.35zM380.5 357.3l2.35 -2.35l2.35 2.35l-2.35 2.35zM380.5 354.6l2.35 -2.35l2.35 2.35l-2.35 2.35zM380.5 351.1l2.35 -2.35l2.35 2.35l-2.35 2.35zM380.5 348.1l2.35 -2.35l2.35 2.35l-2.35 2.35zM380.5 344.1l2.35 -2.35l2.35 2.35l-2.35 2.35zM380.5 342.7l2.35 -2.35l2.35 2.35l-2.35 2.35zM380.5 340.5l2.35 -2.35l2.35 2.35l-2.35 2.35zM380.5 338.3l2.35 -2.35l2.35 2.35l-2.35 2.35zM380.5 336.2l2.35 -2.35l2.35 2.35l-2.35 2.35zM386 422.5l2.35 -2.35l2.35 2.35l-2.35 2.35zM386 417.3l2.35 -2.35l2.35 2.35l-2.35 2.35zM386 408.7l2.35 -2.35l2.35 2.35l-2.35 2.35zM386 400.4l2.35 -2.35l2.35 2.35l-2.35 2.35zM386 397.4l2.35 -2.35l2.35 2.35l-2.35 2.35zM386 394.2l2.35 -2.35l2.35 2.35l-2.35 2.35zM386 391.3l2.35 -2.35l2.35 2.35l-2.35 2.35zM386 387.9l2.35 -2.35l2.35 2.35l-2.35 2.35zM386 385.5l2.35 -2.35l2.35 2.35l-2.35 2.35zM386 383.3l2.35 -2.35l2.35 2.35l-2.35 2.35zM386 381.1l2.35 -2.35l2.35 2.35l-2.35 2.35zM386 378l2.35 -2.35l2.35 2.35l-2.35 2.35zM386 375.4l2.35 -2.35l2.35 2.35l-2.35 2.35zM386 372.4l2.35 -2.35l2.35 2.35l-2.35 2.35zM386 369.5l2.35 -2.35l2.35 2.35l-2.35 2.35zM386 366.7l2.35 -2.35l2.35 2.35l-2.35 2.35zM386 364.1l2.35 -2.35l2.35 2.35l-2.35 2.35zM386 361.3l2.35 -2.35l2.35 2.35l-2.35 2.35zM386 358.4l2.35 -2.35l2.35 2.35l-2.35 2.35zM386 355.8l2.35 -2.35l2.35 2.35l-2.35 2.35zM386 353.1l2.35 -2.35l2.35 2.35l-2.35 2.35zM386 349.6l2.35 -2.35l2.35 2.35l-2.35 2.35zM386 346.4l2.35 -2.35l2.35 2.35l-2.35 2.35zM386 342.4l2.35 -2.35l2.35 2.35l-2.35 2.35zM386 340.9l2.35 -2.35l2.35 2.35l-2.35 2.35zM386 338.7l2.35 -2.35l2.35 2.35l-2.35 2.35zM386 336.5l2.35 -2.35l2.35 2.35l-2.35 2.35zM386 334.4l2.35 -2.35l2.35 2.35l-2.35 2.35z" fill="none" stroke="#0808e0" stroke-width="1.1"/>
<path d="M66 421.1h3.4v3.4h-3.4zM66 405h3.4v3.4h-3.4zM66 395.4h3.4v3.4h-3.4zM66 392.3h3.4v3.4h-3.4zM66 385.7h3.4v3.4h-3.4zM66 383.6h3.4v3.4h-3.4zM66 381.3h3.4v3.4h-3.4zM66 379.1h3.4v3.4h-3.4zM66 373.3h3.4v3.4h-3.4zM66 370.5h3.4v3.4h-3.4zM66 367.4h3.4v3.4h-3.4zM66 361.9h3.4v3.4h-3.4zM66 359.3h3.4v3.4h-3.4zM66 356.1h3.4v3.4h-3.4zM66 353.7h3.4v3.4h-3.4zM66 347.1h3.4v3.4h-3.4zM66 344h3.4v3.4h-3.4zM66 338.7h3.4v3.4h-3.4zM66 336.4h3.4v3.4h-3.4zM66 334.2h3.4v3.4h-3.4zM66 332.1h3.4v3.4h-3.4zM71.5 421.2h3.4v3.4h-3.4zM71.5 405.2h3.4v3.4h-3.4zM71.5 395.7h3.4v3.4h-3.4zM71.5 392.6h3.4v3.4h-3.4zM71.5 386h3.4v3.4h-3.4zM71.5 383.9h3.4v3.4h-3.4zM71.5 381.6h3.4v3.4h-3.4zM71.5 379.4h3.4v3.4h-3.4zM71.5 373.7h3.4v3.4h-3.4zM71.5 370.9h3.4v3.4h-3.4zM71.5 367.9h3.4v3.4h-3.4zM71.5 362.4h3.4v3.4h-3.4zM71.5 359.8h3.4v3.4h-3.4zM71.5 356.6h3.4v3.4h-3.4zM71.5 354.2h3.4v3.4h-3.4zM71.5 347.7h3.4v3.4h-3.4zM71.5 344.6h3.4v3.4h-3.4zM71.5 339.2h3.4v3.4h-3.4zM71.5 337h3.4v3.4h-3.4zM71.5 334.8h3.4v3.4h-3.4zM71.5 332.7h3.4v3.4h-3.4zM76.9 421.6h3.4v3.4h-3.4zM76.9 405.9h3.4v3.4h-3.4zM76.9 396.5h3.4v3.4h-3.4zM76.9 393.5h3.4v3.4h-3.4zM76.9 387h3.4v3.4h-3.4zM76.9 384.9h3.4v3.4h-3.4zM76.9 382.7h3.4v3.4h-3.4zM76.9 380.5h3.4v3.4h-3.4zM76.9 374.8h3.4v3.4h-3.4zM76.9 372.1h3.4v3.4h-3.4zM76.9 369.1h3.4v3.4h-3.4zM76.9 363.7h3.4v3.4h-3.4zM76.9 361.2h3.4v3.4h-3.4zM76.9 358h3.4v3.4h-3.4zM76.9 355.7h3.4v3.4h-3.4zM76.9 349.3h3.4v3.4h-3.4zM76.9 346.2h3.4v3.4h-3.4zM76.9 341h3.4v3.4h-3.4zM76.9 338.8h3.4v3.4h-3.4zM76.9 336.6h3.4v3.4h-3.4zM76.9 334.5h3.4v3.4h-3.4zM82.3 422.2h3.4v3.4h-3.4zM82.3 406.9h3.4v3.4h-3.4zM82.3 397.8h3.4v3.4h-3.4zM82.3 394.9h3.4v3.4h-3.4zM82.3 388.6h3.4v3.4h-3.4zM82.3 386.6h3.4v3.4h-3.4zM82.3 384.4h3.4v3.4h-3.4zM82.3 382.3h3.4v3.4h-3.4zM82.3 376.8h3.4v3.4h-3.4zM82.3 374.1h3.4v3.4h-3.4zM82.3 371.2h3.4v3.4h-3.4zM82.3 366h3.4v3.4h-3.4zM82.3 363.5h3.4v3.4h-3.4zM82.3 360.4h3.4v3.4h-3.4zM82.3 358.2h3.4v3.4h-3.4zM82.3 351.9h3.4v3.4h-3.4zM82.3 348.9h3.4v3.4h-3.4zM82.3 343.9h3.4v3.4h-3.4zM82.3 341.7h3.4v3.4h-3.4zM82.3 339.6h3.4v3.4h-3.4zM82.3 337.6h3.4v3.4h-3.4zM87.8 423.1h3.4v3.4h-3.4zM87.8 408.4h3.4v3.4h-3.4zM87.8 399.7h3.4v3.4h-3.4zM87.8 396.8h3.4v3.4h-3.4zM87.8 390.8h3.4v3.4h-3.4zM87.8 388.9h3.4v3.4h-3.4zM87.8 386.8h3.4v3.4h-3.4zM87.8 384.7h3.4v3.4h-3.4zM87.8 379.5h3.4v3.4h-3.4zM87.8 376.9h3.4v3.4h-3.4zM87.8 374.1h3.4v3.4h-3.4zM87.8 369.1h3.4v3.4h-3.4zM87.8 366.7h3.4v3.4h-3.4zM87.8 363.8h3.4v3.4h-3.4zM87.8 361.6h3.4v3.4h-3.4zM87.8 355.6h3.4v3.4h-3.4zM87.8 352.7h3.4v3.4h-3.4zM87.8 347.8h3.4v3.4h-3.4zM87.8 345.8h3.4v3.4h-3.4zM87.8 343.8h3.4v3.4h-3.4zM87.8 341.8h3.4v3.4h-3.4zM93.2 424.2h3.4v3.4h-3.4zM93.2 410.3h3.4v3.4h-3.4zM93.2 402h3.4v3.4h-3.4zM93.2 399.3h3.4v3.4h-3.4zM93.2 393.6h3.4v3.4h-3.4zM93.2 391.8h3.4v3.4h-3.4zM93.2 389.8h3.4v3.4h-3.4zM93.2 387.9h3.4v3.4h-3.4zM93.2 382.8h3.4v3.4h-3.4zM93.2 380.4h3.4v3.4h-3.4zM93.2 377.8h3.4v3.4h-3.4zM93.2 373h3.4v3.4h-3.4zM93.2 370.7h3.4v3.4h-3.4zM93.2 368h3.4v3.4h-3.4zM93.2 365.9h3.4v3.4h-3.4zM93.2 360.2h3.4v3.4h-3.4zM93.2 357.5h3.4v3.4h-3.4zM93.2 352.9h3.4v3.4h-3.4zM93.2 350.9h3.4v3.4h-3.4zM93.2 349h3.4v3.4h-3.4zM93.2 347.1h3.4v3.4h-3.4zM98.6 425.6h3.4v3.4h-3.4zM98.6 412.6h3.4v3.4h-3.4zM98.6 404.8h3.4v3.4h-3.4zM98.6 402.3h3.4v3.4h-3.4zM98.6 396.9h3.4v3.4h-3.4zM98.6 395.3h3.4v3.4h-3.4zM98.6 393.4h3.4v3.4h-3.4zM98.6 391.6h3.4v3.4h-3.4zM98.6 386.9h3.4v3.4h-3.4zM98.6 384.7h3.4v3.4h-3.4zM98.6 382.2h3.4v3.4h-3.4zM98.6 377.7h3.4v3.4h-3.4zM98.6 375.6h3.4v3.4h-3.4zM98.6 373h3.4v3.4h-3.4zM98.6 371.1h3.4v3.4h-3.4zM98.6 365.8h3.4v3.4h-3.4zM98.6 363.2h3.4v3.4h-3.4zM98.6 358.9h3.4v3.4h-3.4zM98.6 357.1h3.4v3.4h-3.4zM98.6 355.3h3.4v3.4h-3.4zM98.6 353.6h3.4v3.4h-3.4zM104.1 427.1h3.4v3.4h-3.4zM104.1 415.2h3.4v3.4h-3.4zM104.1 408.1h3.4v3.4h-3.4zM104.1 405.8h3.4v3.4h-3.4zM104.1 400.8h3.4v3.4h-3.4zM104.1 399.3h3.4v3.4h-3.4zM104.1 397.6h3.4v3.4h-3.4zM104.1 395.9h3.4v3.4h-3.4zM104.1 391.6h3.4v3.4h-3.4zM104.1 389.6h3.4v3.4h-3.4zM104.1 387.3h3.4v3.4h-3.4zM104.1 383.2h3.4v3.4h-3.4zM104.1 381.2h3.4v3.4h-3.4zM104.1 378.8h3.4v3.4h-3.4zM104.1 377.1h3.4v3.4h-3.4zM104.1 372.2h3.4v3.4h-3.4zM104.1 369.9h3.4v3.4h-3.4zM104.1 365.9h3.4v3.4h-3.4zM104.1 364.2h3.4v3.4h-3.4zM104.1 362.6h3.4v3.4h-3.4zM104.1 361h3.4v3.4h-3.4zM109.5 428.9h3.4v3.4h-3.4zM109.5 418.1h3.4v3.4h-3.4zM109.5 411.7h3.4v3.4h-3.4zM109.5 409.6h3.4v3.4h-3.4zM109.5 405.2h3.4v3.4h-3.4zM109.5 403.8h3.4v3.4h-3.4zM109.5 402.2h3.4v3.4h-3.4zM109.5 400.8h3.4v3.4h-3.4zM109.5 396.9h3.4v3.4h-3.4zM109.5 395h3.4v3.4h-3.4zM109.5 393h3.4v3.4h-3.4zM109.5 389.3h3.4v3.4h-3.4zM109.5 387.5h3.4v3.4h-3.4zM109.5 385.4h3.4v3.4h-3.4zM109.5 383.8h3.4v3.4h-3.4zM109.5 379.4h3.4v3.4h-3.4zM109.5 377.3h3.4v3.4h-3.4zM109.5 373.7h3.4v3.4h-3.4zM109.5 372.2h3.4v3.4h-3.4zM109.5 370.8h3.4v3.4h-3.4zM109.5 369.3h3.4v3.4h-3.4zM115 430.8h3.4v3.4h-3.4zM115 421.3h3.4v3.4h-3.4zM115 415.7h3.4v3.4h-3.4zM115 413.9h3.4v3.4h-3.4zM115 410h3.4v3.4h-3.4zM115 408.8h3.4v3.4h-3.4zM115 407.4h3.4v3.4h-3.4zM115 406.1h3.4v3.4h-3.4zM115 402.7h3.4v3.4h-3.4zM115 401.1h3.4v3.4h-3.4zM115 399.3h3.4v3.4h-3.4zM115 396h3.4v3.4h-3.4zM115 394.5h3.4v3.4h-3.4zM115 392.6h3.4v3.4h-3.4zM115 391.2h3.4v3.4h-3.4zM115 387.3h3.4v3.4h-3.4zM115 385.5h3.4v3.4h-3.4zM115 382.4h3.4v3.4h-3.4zM115 381h3.4v3.4h-3.4zM115 379.7h3.4v3.4h-3.4zM115 378.5h3.4v3.4h-3.4zM120.4 432.9h3.4v3.4h-3.4zM120.4 424.8h3.4v3.4h-3.4zM120.4 420h3.4v3.4h-3.4zM120.4 418.5h3.4v3.4h-3.4zM120.4 415.2h3.4v3.4h-3.4zM120.4 414.1h3.4v3.4h-3.4zM120.4 413h3.4v3.4h-3.4zM120.4 411.9h3.4v3.4h-3.4zM120.4 409h3.4v3.4h-3.4zM120.4 407.6h3.4v3.4h-3.4zM120.4 406h3.4v3.4h-3.4zM120.4 403.3h3.4v3.4h-3.4zM120.4 402h3.4v3.4h-3.4zM120.4 400.4h3.4v3.4h-3.4zM120.4 399.2h3.4v3.4h-3.4zM120.4 395.9h3.4v3.4h-3.4zM120.4 394.3h3.4v3.4h-3.4zM120.4 391.7h3.4v3.4h-3.4zM120.4 390.5h3.4v3.4h-3.4zM120.4 389.4h3.4v3.4h-3.4zM120.4 388.4h3.4v3.4h-3.4zM125.8 435.1h3.4v3.4h-3.4zM125.8 428.5h3.4v3.4h-3.4zM125.8 424.6h3.4v3.4h-3.4zM125.8 423.4h3.4v3.4h-3.4zM125.8 420.7h3.4v3.4h-3.4zM125.8 419.8h3.4v3.4h-3.4zM125.8 418.9h3.4v3.4h-3.4zM125.8 418h3.4v3.4h-3.4zM125.8 415.6h3.4v3.4h-3.4zM125.8 414.5h3.4v3.4h-3.4zM125.8 413.2h3.4v3.4h-3.4zM125.8 411h3.4v3.4h-3.4zM125.8 409.9h3.4v3.4h-3.4zM125.8 408.6h3.4v3.4h-3.4zM125.8 407.7h3.4v3.4h-3.4zM125.8 405h3.4v3.4h-3.4zM125.8 403.7h3.4v3.4h-3.4zM125.8 401.5h3.4v3.4h-3.4zM125.8 400.6h3.4v3.4h-3.4zM125.8 399.7h3.4v3.4h-3.4zM125.8 398.9h3.4v3.4h-3.4zM131.2 437.4h3.4v3.4h-3.4zM131.2 432.4h3.4v3.4h-3.4zM131.2 429.4h3.4v3.4h-3.4zM131.2 428.5h3.4v3.4h-3.4zM131.2 426.4h3.4v3.4h-3.4zM131.2 425.8h3.4v3.4h-3.4zM131.2 425.1h3.4v3.4h-3.4zM131.2 424.4h3.4v3.4h-3.4zM131.2 422.6h3.4v3.4h-3.4zM131.2 421.7h3.4v3.4h-3.4zM131.2 420.8h3.4v3.4h-3.4zM131.2 419.1h3.4v3.4h-3.4zM131.2 418.3h3.4v3.4h-3.4zM131.2 417.3h3.4v3.4h-3.4zM131.2 416.5h3.4v3.4h-3.4zM131.2 414.5h3.4v3.4h-3.4zM131.2 413.5h3.4v3.4h-3.4zM131.2 411.9h3.4v3.4h-3.4zM131.2 411.2h3.4v3.4h-3.4zM131.2 410.5h3.4v3.4h-3.4zM131.2 409.9h3.4v3.4h-3.4zM136.7 439.7h3.4v3.4h-3.4zM136.7 436.4h3.4v3.4h-3.4zM136.7 434.4h3.4v3.4h-3.4zM136.7 433.8h3.4v3.4h-3.4zM136.7 432.4h3.4v3.4h-3.4zM136.7 432h3.4v3.4h-3.4zM136.7 431.5h3.4v3.4h-3.4zM136.7 431h3.4v3.4h-3.4zM136.7 429.8h3.4v3.4h-3.4zM136.7 429.2h3.4v3.4h-3.4zM136.7 428.6h3.4v3.4h-3.4zM136.7 427.4h3.4v3.4h-3.4zM136.7 426.9h3.4v3.4h-3.4zM136.7 426.2h3.4v3.4h-3.4zM136.7 425.7h3.4v3.4h-3.4zM136.7 424.4h3.4v3.4h-3.4zM136.7 423.7h3.4v3.4h-3.4zM136.7 422.6h3.4v3.4h-3.4zM136.7 422.2h3.4v3.4h-3.4zM136.7 421.7h3.4v3.4h-3.4zM136.7 421.2h3.4v3.4h-3.4zM142.1 442.2h3.4v3.4h-3.4zM142.1 440.5h3.4v3.4h-3.4zM142.1 439.5h3.4v3.4h-3.4zM142.1 439.2h3.4v3.4h-3.4zM142.1 438.5h3.4v3.4h-3.4zM142.1 438.3h3.4v3.4h-3.4zM142.1 438h3.4v3.4h-3.4zM142.1 437.8h3.4v3.4h-3.4zM142.1 437.2h3.4v3.4h-3.4zM142.1 436.9h3.4v3.4h-3.4zM142.1 436.6h3.4v3.4h-3.4zM142.1 436h3.4v3.4h-3.4zM142.1 435.7h3.4v3.4h-3.4zM142.1 435.4h3.4v3.4h-3.4zM142.1 435.1h3.4v3.4h-3.4zM142.1 434.5h3.4v3.4h-3.4zM142.1 434.1h3.4v3.4h-3.4zM142.1 433.6h3.4v3.4h-3.4zM142.1 433.3h3.4v3.4h-3.4zM142.1 433.1h3.4v3.4h-3.4zM142.1 432.9h3.4v3.4h-3.4zM147.6 444.7h3.4v3.4h-3.4zM147.6 444.7h3.4v3.4h-3.4zM147.6 444.7h3.4v3.4h-3.4zM147.6 444.7h3.4v3.4h-3.4zM147.6 444.7h3.4v3.4h-3.4zM147.6 444.7h3.4v3.4h-3.4zM147.6 444.7h3.4v3.4h-3.4zM147.6 444.7h3.4v3.4h-3.4zM147.6 444.7h3.4v3.4h-3.4zM147.6 444.7h3.4v3.4h-3.4zM147.6 444.7h3.4v3.4h-3.4zM147.6 444.7h3.4v3.4h-3.4zM147.6 444.7h3.4v3.4h-3.4zM147.6 444.7h3.4v3.4h-3.4zM147.6 444.7h3.4v3.4h-3.4zM147.6 444.7h3.4v3.4h-3.4zM147.6 444.7h3.4v3.4h-3.4zM147.6 444.7h3.4v3.4h-3.4zM147.6 444.7h3.4v3.4h-3.4zM147.6 444.7h3.4v3.4h-3.4zM147.6 444.7h3.4v3.4h-3.4zM153 447.1h3.4v3.4h-3.4zM153 448.8h3.4v3.4h-3.4zM153 449.8h3.4v3.4h-3.4zM153 450.1h3.4v3.4h-3.4zM153 450.8h3.4v3.4h-3.4zM153 451h3.4v3.4h-3.4zM153 451.3h3.4v3.4h-3.4zM153 451.5h3.4v3.4h-3.4zM153 452.1h3.4v3.4h-3.4zM153 452.4h3.4v3.4h-3.4zM153 452.7h3.4v3.4h-3.4zM153 453.3h3.4v3.4h-3.4zM153 453.6h3.4v3.4h-3.4zM153 453.9h3.4v3.4h-3.4zM153 454.2h3.4v3.4h-3.4zM153 454.8h3.4v3.4h-3.4zM153 455.2h3.4v3.4h-3.4zM153 455.7h3.4v3.4h-3.4zM153 456h3.4v3.4h-3.4zM153 456.2h3.4v3.4h-3.4zM153 456.4h3.4v3.4h-3.4zM158.4 449.6h3.4v3.4h-3.4zM158.4 452.9h3.4v3.4h-3.4zM158.4 454.9h3.4v3.4h-3.4zM158.4 455.5h3.4v3.4h-3.4zM158.4 456.9h3.4v3.4h-3.4zM158.4 457.3h3.4v3.4h-3.4zM158.4 457.8h3.4v3.4h-3.4zM158.4 458.3h3.4v3.4h-3.4zM158.4 459.5h3.4v3.4h-3.4zM158.4 460.1h3.4v3.4h-3.4zM158.4 460.7h3.4v3.4h-3.4zM158.4 461.9h3.4v3.4h-3.4zM158.4 462.4h3.4v3.4h-3.4zM158.4 463.1h3.4v3.4h-3.4zM158.4 463.6h3.4v3.4h-3.4zM158.4 464.9h3.4v3.4h-3.4zM158.4 465.6h3.4v3.4h-3.4zM158.4 466.7h3.4v3.4h-3.4zM158.4 467.1h3.4v3.4h-3.4zM158.4 467.6h3.4v3.4h-3.4zM158.4 468.1h3.4v3.4h-3.4zM163.9 451.9h3.4v3.4h-3.4zM163.9 456.9h3.4v3.4h-3.4zM163.9 459.9h3.4v3.4h-3.4zM163.9 460.8h3.4v3.4h-3.4zM163.9 462.9h3.4v3.4h-3.4zM163.9 463.5h3.4v3.4h-3.4zM163.9 464.2h3.4v3.4h-3.4zM163.9 464.9h3.4v3.4h-3.4zM163.9 466.7h3.4v3.4h-3.4zM163.9 467.6h3.4v3.4h-3.4zM163.9 468.5h3.4v3.4h-3.4zM163.9 470.2h3.4v3.4h-3.4zM163.9 471h3.4v3.4h-3.4zM163.9 472h3.4v3.4h-3.4zM163.9 472.8h3.4v3.4h-3.4zM163.9 474.8h3.4v3.4h-3.4zM163.9 475.8h3.4v3.4h-3.4zM163.9 477.4h3.4v3.4h-3.4zM163.9 478.1h3.4v3.4h-3.4zM163.9 478.8h3.4v3.4h-3.4zM163.9 479.4h3.4v3.4h-3.4zM169.3 454.2h3.4v3.4h-3.4zM169.3 460.8h3.4v3.4h-3.4zM169.3 464.7h3.4v3.4h-3.4zM169.3 465.9h3.4v3.4h-3.4zM169.3 468.6h3.4v3.4h-3.4zM169.3 469.5h3.4v3.4h-3.4zM169.3 470.4h3.4v3.4h-3.4zM169.3 471.3h3.4v3.4h-3.4zM169.3 473.7h3.4v3.4h-3.4zM169.3 474.8h3.4v3.4h-3.4zM169.3 476.1h3.4v3.4h-3.4zM169.3 478.3h3.4v3.4h-3.4zM169.3 479.4h3.4v3.4h-3.4zM169.3 480.7h3.4v3.4h-3.4zM169.3 481.6h3.4v3.4h-3.4zM169.3 484.3h3.4v3.4h-3.4zM169.3 485.6h3.4v3.4h-3.4zM169.3 487.8h3.4v3.4h-3.4zM169.3 488.7h3.4v3.4h-3.4zM169.3 489.6h3.4v3.4h-3.4zM169.3 490.4h3.4v3.4h-3.4zM174.7 456.4h3.4v3.4h-3.4zM174.7 464.5h3.4v3.4h-3.4zM174.7 469.3h3.4v3.4h-3.4zM174.7 470.8h3.4v3.4h-3.4zM174.7 474.1h3.4v3.4h-3.4zM174.7 475.2h3.4v3.4h-3.4zM174.7 476.3h3.4v3.4h-3.4zM174.7 477.4h3.4v3.4h-3.4zM174.7 480.3h3.4v3.4h-3.4zM174.7 481.7h3.4v3.4h-3.4zM174.7 483.3h3.4v3.4h-3.4zM174.7 486h3.4v3.4h-3.4zM174.7 487.3h3.4v3.4h-3.4zM174.7 488.9h3.4v3.4h-3.4zM174.7 490.1h3.4v3.4h-3.4zM174.7 493.4h3.4v3.4h-3.4zM174.7 495h3.4v3.4h-3.4zM174.7 497.6h3.4v3.4h-3.4zM174.7 498.8h3.4v3.4h-3.4zM174.7 499.9h3.4v3.4h-3.4zM174.7 500.9h3.4v3.4h-3.4zM180.2 458.5h3.4v3.4h-3.4zM180.2 468h3.4v3.4h-3.4zM180.2 473.6h3.4v3.4h-3.4zM180.2 475.4h3.4v3.4h-3.4zM180.2 479.3h3.4v3.4h-3.4zM180.2 480.5h3.4v3.4h-3.4zM180.2 481.9h3.4v3.4h-3.4zM180.2 483.2h3.4v3.4h-3.4zM180.2 486.6h3.4v3.4h-3.4zM180.2 488.2h3.4v3.4h-3.4zM180.2 490h3.4v3.4h-3.4zM180.2 493.3h3.4v3.4h-3.4zM180.2 494.8h3.4v3.4h-3.4zM180.2 496.7h3.4v3.4h-3.4zM180.2 498.1h3.4v3.4h-3.4zM180.2 502h3.4v3.4h-3.4zM180.2 503.8h3.4v3.4h-3.4zM180.2 506.9h3.4v3.4h-3.4zM180.2 508.3h3.4v3.4h-3.4zM180.2 509.6h3.4v3.4h-3.4zM180.2 510.8h3.4v3.4h-3.4zM185.6 460.4h3.4v3.4h-3.4zM185.6 471.2h3.4v3.4h-3.4zM185.6 477.6h3.4v3.4h-3.4zM185.6 479.7h3.4v3.4h-3.4zM185.6 484.1h3.4v3.4h-3.4zM185.6 485.5h3.4v3.4h-3.4zM185.6 487.1h3.4v3.4h-3.4zM185.6 488.5h3.4v3.4h-3.4zM185.6 492.4h3.4v3.4h-3.4zM185.6 494.3h3.4v3.4h-3.4zM185.6 496.3h3.4v3.4h-3.4zM185.6 500h3.4v3.4h-3.4zM185.6 501.8h3.4v3.4h-3.4zM185.6 503.9h3.4v3.4h-3.4zM185.6 505.5h3.4v3.4h-3.4zM185.6 509.9h3.4v3.4h-3.4zM185.6 512h3.4v3.4h-3.4zM185.6 515.6h3.4v3.4h-3.4zM185.6 517.1h3.4v3.4h-3.4zM185.6 518.5h3.4v3.4h-3.4zM185.6 520h3.4v3.4h-3.4zM191 462.2h3.4v3.4h-3.4zM191 474.1h3.4v3.4h-3.4zM191 481.2h3.4v3.4h-3.4zM191 483.5h3.4v3.4h-3.4zM191 488.5h3.4v3.4h-3.4zM191 490h3.4v3.4h-3.4zM191 491.7h3.4v3.4h-3.4zM191 493.4h3.4v3.4h-3.4zM191 497.7h3.4v3.4h-3.4zM191 499.7h3.4v3.4h-3.4zM191 502h3.4v3.4h-3.4zM191 506.1h3.4v3.4h-3.4zM191 508.1h3.4v3.4h-3.4zM191 510.5h3.4v3.4h-3.4zM191 512.2h3.4v3.4h-3.4zM191 517.1h3.4v3.4h-3.4zM191 519.4h3.4v3.4h-3.4zM191 523.4h3.4v3.4h-3.4zM191 525.1h3.4v3.4h-3.4zM191 526.7h3.4v3.4h-3.4zM191 528.3h3.4v3.4h-3.4zM196.5 463.7h3.4v3.4h-3.4zM196.5 476.7h3.4v3.4h-3.4zM196.5 484.5h3.4v3.4h-3.4zM196.5 487h3.4v3.4h-3.4zM196.5 492.4h3.4v3.4h-3.4zM196.5 494h3.4v3.4h-3.4zM196.5 495.9h3.4v3.4h-3.4zM196.5 497.7h3.4v3.4h-3.4zM196.5 502.4h3.4v3.4h-3.4zM196.5 504.6h3.4v3.4h-3.4zM196.5 507.1h3.4v3.4h-3.4zM196.5 511.6h3.4v3.4h-3.4zM196.5 513.7h3.4v3.4h-3.4zM196.5 516.3h3.4v3.4h-3.4zM196.5 518.2h3.4v3.4h-3.4zM196.5 523.5h3.4v3.4h-3.4zM196.5 526.1h3.4v3.4h-3.4zM196.5 530.4h3.4v3.4h-3.4zM196.5 532.2h3.4v3.4h-3.4zM196.5 534h3.4v3.4h-3.4zM196.5 535.7h3.4v3.4h-3.4zM201.9 465.1h3.4v3.4h-3.4zM201.9 479h3.4v3.4h-3.4zM201.9 487.3h3.4v3.4h-3.4zM201.9 490h3.4v3.4h-3.4zM201.9 495.7h3.4v3.4h-3.4zM201.9 497.5h3.4v3.4h-3.4zM201.9 499.5h3.4v3.4h-3.4zM201.9 501.4h3.4v3.4h-3.4zM201.9 506.5h3.4v3.4h-3.4zM201.9 508.9h3.4v3.4h-3.4zM201.9 511.5h3.4v3.4h-3.4zM201.9 516.3h3.4v3.4h-3.4zM201.9 518.6h3.4v3.4h-3.4zM201.9 521.3h3.4v3.4h-3.4zM201.9 523.4h3.4v3.4h-3.4zM201.9 529.1h3.4v3.4h-3.4zM201.9 531.8h3.4v3.4h-3.4zM201.9 536.4h3.4v3.4h-3.4zM201.9 538.4h3.4v3.4h-3.4zM201.9 540.3h3.4v3.4h-3.4zM201.9 542.2h3.4v3.4h-3.4zM207.3 466.2h3.4v3.4h-3.4zM207.3 480.9h3.4v3.4h-3.4zM207.3 489.6h3.4v3.4h-3.4zM207.3 492.5h3.4v3.4h-3.4zM207.3 498.5h3.4v3.4h-3.4zM207.3 500.4h3.4v3.4h-3.4zM207.3 502.5h3.4v3.4h-3.4zM207.3 504.6h3.4v3.4h-3.4zM207.3 509.8h3.4v3.4h-3.4zM207.3 512.4h3.4v3.4h-3.4zM207.3 515.2h3.4v3.4h-3.4zM207.3 520.2h3.4v3.4h-3.4zM207.3 522.6h3.4v3.4h-3.4zM207.3 525.5h3.4v3.4h-3.4zM207.3 527.7h3.4v3.4h-3.4zM207.3 533.7h3.4v3.4h-3.4zM207.3 536.6h3.4v3.4h-3.4zM207.3 541.5h3.4v3.4h-3.4zM207.3 543.5h3.4v3.4h-3.4zM207.3 545.5h3.4v3.4h-3.4zM207.3 547.5h3.4v3.4h-3.4zM212.8 467.1h3.4v3.4h-3.4zM212.8 482.4h3.4v3.4h-3.4zM212.8 491.5h3.4v3.4h-3.4zM212.8 494.4h3.4v3.4h-3.4zM212.8 500.7h3.4v3.4h-3.4zM212.8 502.7h3.4v3.4h-3.4zM212.8 504.9h3.4v3.4h-3.4zM212.8 507h3.4v3.4h-3.4zM212.8 512.5h3.4v3.4h-3.4zM212.8 515.2h3.4v3.4h-3.4zM212.8 518.1h3.4v3.4h-3.4zM212.8 523.3h3.4v3.4h-3.4zM212.8 525.8h3.4v3.4h-3.4zM212.8 528.9h3.4v3.4h-3.4zM212.8 531.1h3.4v3.4h-3.4zM212.8 537.4h3.4v3.4h-3.4zM212.8 540.4h3.4v3.4h-3.4zM212.8 545.4h3.4v3.4h-3.4zM212.8 547.6h3.4v3.4h-3.4zM212.8 549.7h3.4v3.4h-3.4zM212.8 551.7h3.4v3.4h-3.4zM218.2 467.7h3.4v3.4h-3.4zM218.2 483.4h3.4v3.4h-3.4zM218.2 492.8h3.4v3.4h-3.4zM218.2 495.8h3.4v3.4h-3.4zM218.2 502.3h3.4v3.4h-3.4zM218.2 504.4h3.4v3.4h-3.4zM218.2 506.6h3.4v3.4h-3.4zM218.2 508.8h3.4v3.4h-3.4zM218.2 514.5h3.4v3.4h-3.4zM218.2 517.2h3.4v3.4h-3.4zM218.2 520.2h3.4v3.4h-3.4zM218.2 525.6h3.4v3.4h-3.4zM218.2 528.1h3.4v3.4h-3.4zM218.2 531.3h3.4v3.4h-3.4zM218.2 533.6h3.4v3.4h-3.4zM218.2 540h3.4v3.4h-3.4zM218.2 543.1h3.4v3.4h-3.4zM218.2 548.3h3.4v3.4h-3.4zM218.2 550.5h3.4v3.4h-3.4zM218.2 552.7h3.4v3.4h-3.4zM218.2 554.8h3.4v3.4h-3.4zM223.6 468.1h3.4v3.4h-3.4zM223.6 484.1h3.4v3.4h-3.4zM223.6 493.6h3.4v3.4h-3.4zM223.6 496.7h3.4v3.4h-3.4zM223.6 503.3h3.4v3.4h-3.4zM223.6 505.4h3.4v3.4h-3.4zM223.6 507.7h3.4v3.4h-3.4zM223.6 509.9h3.4v3.4h-3.4zM223.6 515.6h3.4v3.4h-3.4zM223.6 518.4h3.4v3.4h-3.4zM223.6 521.4h3.4v3.4h-3.4zM223.6 526.9h3.4v3.4h-3.4zM223.6 529.5h3.4v3.4h-3.4zM223.6 532.7h3.4v3.4h-3.4zM223.6 535.1h3.4v3.4h-3.4zM223.6 541.6h3.4v3.4h-3.4zM223.6 544.7h3.4v3.4h-3.4zM223.6 550.1h3.4v3.4h-3.4zM223.6 552.3h3.4v3.4h-3.4zM223.6 554.5h3.4v3.4h-3.4zM223.6 556.6h3.4v3.4h-3.4zM229.1 468.2h3.4v3.4h-3.4zM229.1 484.3h3.4v3.4h-3.4zM229.1 493.9h3.4v3.4h-3.4zM229.1 497h3.4v3.4h-3.4zM229.1 503.6h3.4v3.4h-3.4zM229.1 505.7h3.4v3.4h-3.4zM229.1 508h3.4v3.4h-3.4zM229.1 510.2h3.4v3.4h-3.4zM229.1 516h3.4v3.4h-3.4zM229.1 518.8h3.4v3.4h-3.4zM229.1 521.9h3.4v3.4h-3.4zM229.1 527.4h3.4v3.4h-3.4zM229.1 530h3.4v3.4h-3.4zM229.1 533.2h3.4v3.4h-3.4zM229.1 535.6h3.4v3.4h-3.4zM229.1 542.2h3.4v3.4h-3.4zM229.1 545.3h3.4v3.4h-3.4zM229.1 550.6h3.4v3.4h-3.4zM229.1 552.9h3.4v3.4h-3.4zM229.1 555.1h3.4v3.4h-3.4zM229.1 557.2h3.4v3.4h-3.4zM234.5 468.1h3.4v3.4h-3.4zM234.5 484.1h3.4v3.4h-3.4zM234.5 493.6h3.4v3.4h-3.4zM234.5 496.7h3.4v3.4h-3.4zM234.5 503.3h3.4v3.4h-3.4zM234.5 505.4h3.4v3.4h-3.4zM234.5 507.7h3.4v3.4h-3.4zM234.5 509.9h3.4v3.4h-3.4zM234.5 515.6h3.4v3.4h-3.4zM234.5 518.4h3.4v3.4h-3.4zM234.5 521.4h3.4v3.4h-3.4zM234.5 526.9h3.4v3.4h-3.4zM234.5 529.5h3.4v3.4h-3.4zM234.5 532.7h3.4v3.4h-3.4zM234.5 535.1h3.4v3.4h-3.4zM234.5 541.6h3.4v3.4h-3.4zM234.5 544.7h3.4v3.4h-3.4zM234.5 550.1h3.4v3.4h-3.4zM234.5 552.3h3.4v3.4h-3.4zM234.5 554.5h3.4v3.4h-3.4zM234.5 556.6h3.4v3.4h-3.4zM239.9 467.7h3.4v3.4h-3.4zM239.9 483.4h3.4v3.4h-3.4zM239.9 492.8h3.4v3.4h-3.4zM239.9 495.8h3.4v3.4h-3.4zM239.9 502.3h3.4v3.4h-3.4zM239.9 504.4h3.4v3.4h-3.4zM239.9 506.6h3.4v3.4h-3.4zM239.9 508.8h3.4v3.4h-3.4zM239.9 514.5h3.4v3.4h-3.4zM239.9 517.2h3.4v3.4h-3.4zM239.9 520.2h3.4v3.4h-3.4zM239.9 525.6h3.4v3.4h-3.4zM239.9 528.1h3.4v3.4h-3.4zM239.9 531.3h3.4v3.4h-3.4zM239.9 533.6h3.4v3.4h-3.4zM239.9 540h3.4v3.4h-3.4zM239.9 543.1h3.4v3.4h-3.4zM239.9 548.3h3.4v3.4h-3.4zM239.9 550.5h3.4v3.4h-3.4zM239.9 552.7h3.4v3.4h-3.4zM239.9 554.8h3.4v3.4h-3.4zM245.4 467.1h3.4v3.4h-3.4zM245.4 482.4h3.4v3.4h-3.4zM245.4 491.5h3.4v3.4h-3.4zM245.4 494.4h3.4v3.4h-3.4zM245.4 500.7h3.4v3.4h-3.4zM245.4 502.7h3.4v3.4h-3.4zM245.4 504.9h3.4v3.4h-3.4zM245.4 507h3.4v3.4h-3.4zM245.4 512.5h3.4v3.4h-3.4zM245.4 515.2h3.4v3.4h-3.4zM245.4 518.1h3.4v3.4h-3.4zM245.4 523.3h3.4v3.4h-3.4zM245.4 525.8h3.4v3.4h-3.4zM245.4 528.9h3.4v3.4h-3.4zM245.4 531.1h3.4v3.4h-3.4zM245.4 537.4h3.4v3.4h-3.4zM245.4 540.4h3.4v3.4h-3.4zM245.4 545.4h3.4v3.4h-3.4zM245.4 547.6h3.4v3.4h-3.4zM245.4 549.7h3.4v3.4h-3.4zM245.4 551.7h3.4v3.4h-3.4zM250.8 466.2h3.4v3.4h-3.4zM250.8 480.9h3.4v3.4h-3.4zM250.8 489.6h3.4v3.4h-3.4zM250.8 492.5h3.4v3.4h-3.4zM250.8 498.5h3.4v3.4h-3.4zM250.8 500.4h3.4v3.4h-3.4zM250.8 502.5h3.4v3.4h-3.4zM250.8 504.6h3.4v3.4h-3.4zM250.8 509.8h3.4v3.4h-3.4zM250.8 512.4h3.4v3.4h-3.4zM250.8 515.2h3.4v3.4h-3.4zM250.8 520.2h3.4v3.4h-3.4zM250.8 522.6h3.4v3.4h-3.4zM250.8 525.5h3.4v3.4h-3.4zM250.8 527.7h3.4v3.4h-3.4zM250.8 533.7h3.4v3.4h-3.4zM250.8 536.6h3.4v3.4h-3.4zM250.8 541.5h3.4v3.4h-3.4zM250.8 543.5h3.4v3.4h-3.4zM250.8 545.5h3.4v3.4h-3.4zM250.8 547.5h3.4v3.4h-3.4zM256.2 465.1h3.4v3.4h-3.4zM256.2 479h3.4v3.4h-3.4zM256.2 487.3h3.4v3.4h-3.4zM256.2 490h3.4v3.4h-3.4zM256.2 495.7h3.4v3.4h-3.4zM256.2 497.5h3.4v3.4h-3.4zM256.2 499.5h3.4v3.4h-3.4zM256.2 501.4h3.4v3.4h-3.4zM256.2 506.5h3.4v3.4h-3.4zM256.2 508.9h3.4v3.4h-3.4zM256.2 511.5h3.4v3.4h-3.4zM256.2 516.3h3.4v3.4h-3.4zM256.2 518.6h3.4v3.4h-3.4zM256.2 521.3h3.4v3.4h-3.4zM256.2 523.4h3.4v3.4h-3.4zM256.2 529.1h3.4v3.4h-3.4zM256.2 531.8h3.4v3.4h-3.4zM256.2 536.4h3.4v3.4h-3.4zM256.2 538.4h3.4v3.4h-3.4zM256.2 540.3h3.4v3.4h-3.4zM256.2 542.2h3.4v3.4h-3.4zM261.7 463.7h3.4v3.4h-3.4zM261.7 476.7h3.4v3.4h-3.4zM261.7 484.5h3.4v3.4h-3.4zM261.7 487h3.4v3.4h-3.4zM261.7 492.4h3.4v3.4h-3.4zM261.7 494h3.4v3.4h-3.4zM261.7 495.9h3.4v3.4h-3.4zM261.7 497.7h3.4v3.4h-3.4zM261.7 502.4h3.4v3.4h-3.4zM261.7 504.6h3.4v3.4h-3.4zM261.7 507.1h3.4v3.4h-3.4zM261.7 511.6h3.4v3.4h-3.4zM261.7 513.7h3.4v3.4h-3.4zM261.7 516.3h3.4v3.4h-3.4zM261.7 518.2h3.4v3.4h-3.4zM261.7 523.5h3.4v3.4h-3.4zM261.7 526.1h3.4v3.4h-3.4zM261.7 530.4h3.4v3.4h-3.4zM261.7 532.2h3.4v3.4h-3.4zM261.7 534h3.4v3.4h-3.4zM261.7 535.7h3.4v3.4h-3.4zM267.1 462.2h3.4v3.4h-3.4zM267.1 474.1h3.4v3.4h-3.4zM267.1 481.2h3.4v3.4h-3.4zM267.1 483.5h3.4v3.4h-3.4zM267.1 488.5h3.4v3.4h-3.4zM267.1 490h3.4v3.4h-3.4zM267.1 491.7h3.4v3.4h-3.4zM267.1 493.4h3.4v3.4h-3.4zM267.1 497.7h3.4v3.4h-3.4zM267.1 499.7h3.4v3.4h-3.4zM267.1 502h3.4v3.4h-3.4zM267.1 506.1h3.4v3.4h-3.4zM267.1 508.1h3.4v3.4h-3.4zM267.1 510.5h3.4v3.4h-3.4zM267.1 512.2h3.4v3.4h-3.4zM267.1 517.1h3.4v3.4h-3.4zM267.1 519.4h3.4v3.4h-3.4zM267.1 523.4h3.4v3.4h-3.4zM267.1 525.1h3.4v3.4h-3.4zM267.1 526.7h3.4v3.4h-3.4zM267.1 528.3h3.4v3.4h-3.4zM272.5 460.4h3.4v3.4h-3.4zM272.5 471.2h3.4v3.4h-3.4zM272.5 477.6h3.4v3.4h-3.4zM272.5 479.7h3.4v3.4h-3.4zM272.5 484.1h3.4v3.4h-3.4zM272.5 485.5h3.4v3.4h-3.4zM272.5 487.1h3.4v3.4h-3.4zM272.5 488.5h3.4v3.4h-3.4zM272.5 492.4h3.4v3.4h-3.4zM272.5 494.3h3.4v3.4h-3.4zM272.5 496.3h3.4v3.4h-3.4zM272.5 500h3.4v3.4h-3.4zM272.5 501.8h3.4v3.4h-3.4zM272.5 503.9h3.4v3.4h-3.4zM272.5 505.5h3.4v3.4h-3.4zM272.5 509.9h3.4v3.4h-3.4zM272.5 512h3.4v3.4h-3.4zM272.5 515.6h3.4v3.4h-3.4zM272.5 517.1h3.4v3.4h-3.4zM272.5 518.5h3.4v3.4h-3.4zM272.5 520h3.4v3.4h-3.4zM277.9 458.5h3.4v3.4h-3.4zM277.9 468h3.4v3.4h-3.4zM277.9 473.6h3.4v3.4h-3.4zM277.9 475.4h3.4v3.4h-3.4zM277.9 479.3h3.4v3.4h-3.4zM277.9 480.5h3.4v3.4h-3.4zM277.9 481.9h3.4v3.4h-3.4zM277.9 483.2h3.4v3.4h-3.4zM277.9 486.6h3.4v3.4h-3.4zM277.9 488.2h3.4v3.4h-3.4zM277.9 490h3.4v3.4h-3.4zM277.9 493.3h3.4v3.4h-3.4zM277.9 494.8h3.4v3.4h-3.4zM277.9 496.7h3.4v3.4h-3.4zM277.9 498.1h3.4v3.4h-3.4zM277.9 502h3.4v3.4h-3.4zM277.9 503.8h3.4v3.4h-3.4zM277.9 506.9h3.4v3.4h-3.4zM277.9 508.3h3.4v3.4h-3.4zM277.9 509.6h3.4v3.4h-3.4zM277.9 510.8h3.4v3.4h-3.4zM283.4 456.4h3.4v3.4h-3.4zM283.4 464.5h3.4v3.4h-3.4zM283.4 469.3h3.4v3.4h-3.4zM283.4 470.8h3.4v3.4h-3.4zM283.4 474.1h3.4v3.4h-3.4zM283.4 475.2h3.4v3.4h-3.4zM283.4 476.3h3.4v3.4h-3.4zM283.4 477.4h3.4v3.4h-3.4zM283.4 480.3h3.4v3.4h-3.4zM283.4 481.7h3.4v3.4h-3.4zM283.4 483.3h3.4v3.4h-3.4zM283.4 486h3.4v3.4h-3.4zM283.4 487.3h3.4v3.4h-3.4zM283.4 488.9h3.4v3.4h-3.4zM283.4 490.1h3.4v3.4h-3.4zM283.4 493.4h3.4v3.4h-3.4zM283.4 495h3.4v3.4h-3.4zM283.4 497.6h3.4v3.4h-3.4zM283.4 498.8h3.4v3.4h-3.4zM283.4 499.9h3.4v3.4h-3.4zM283.4 500.9h3.4v3.4h-3.4zM288.8 454.2h3.4v3.4h-3.4zM288.8 460.8h3.4v3.4h-3.4zM288.8 464.7h3.4v3.4h-3.4zM288.8 465.9h3.4v3.4h-3.4zM288.8 468.6h3.4v3.4h-3.4zM288.8 469.5h3.4v3.4h-3.4zM288.8 470.4h3.4v3.4h-3.4zM288.8 471.3h3.4v3.4h-3.4zM288.8 473.7h3.4v3.4h-3.4zM288.8 474.8h3.4v3.4h-3.4zM288.8 476.1h3.4v3.4h-3.4zM288.8 478.3h3.4v3.4h-3.4zM288.8 479.4h3.4v3.4h-3.4zM288.8 480.7h3.4v3.4h-3.4zM288.8 481.6h3.4v3.4h-3.4zM288.8 484.3h3.4v3.4h-3.4zM288.8 485.6h3.4v3.4h-3.4zM288.8 487.8h3.4v3.4h-3.4zM288.8 488.7h3.4v3.4h-3.4zM288.8 489.6h3.4v3.4h-3.4zM288.8 490.4h3.4v3.4h-3.4zM294.3 451.9h3.4v3.4h-3.4zM294.3 456.9h3.4v3.4h-3.4zM294.3 459.9h3.4v3.4h-3.4zM294.3 460.8h3.4v3.4h-3.4zM294.3 462.9h3.4v3.4h-3.4zM294.3 463.5h3.4v3.4h-3.4zM294.3 464.2h3.4v3.4h-3.4zM294.3 464.9h3.4v3.4h-3.4zM294.3 466.7h3.4v3.4h-3.4zM294.3 467.6h3.4v3.4h-3.4zM294.3 468.5h3.4v3.4h-3.4zM294.3 470.2h3.4v3.4h-3.4zM294.3 471h3.4v3.4h-3.4zM294.3 472h3.4v3.4h-3.4zM294.3 472.8h3.4v3.4h-3.4zM294.3 474.8h3.4v3.4h-3.4zM294.3 475.8h3.4v3.4h-3.4zM294.3 477.4h3.4v3.4h-3.4zM294.3 478.1h3.4v3.4h-3.4zM294.3 478.8h3.4v3.4h-3.4zM294.3 479.4h3.4v3.4h-3.4zM299.7 449.6h3.4v3.4h-3.4zM299.7 452.9h3.4v3.4h-3.4zM299.7 454.9h3.4v3.4h-3.4zM299.7 455.5h3.4v3.4h-3.4zM299.7 456.9h3.4v3.4h-3.4zM299.7 457.3h3.4v3.4h-3.4zM299.7 457.8h3.4v3.4h-3.4zM299.7 458.3h3.4v3.4h-3.4zM299.7 459.5h3.4v3.4h-3.4zM299.7 460.1h3.4v3.4h-3.4zM299.7 460.7h3.4v3.4h-3.4zM299.7 461.9h3.4v3.4h-3.4zM299.7 462.4h3.4v3.4h-3.4zM299.7 463.1h3.4v3.4h-3.4zM299.7 463.6h3.4v3.4h-3.4zM299.7 464.9h3.4v3.4h-3.4zM299.7 465.6h3.4v3.4h-3.4zM299.7 466.7h3.4v3.4h-3.4zM299.7 467.1h3.4v3.4h-3.4zM299.7 467.6h3.4v3.4h-3.4zM299.7 468.1h3.4v3.4h-3.4zM305.1 447.1h3.4v3.4h-3.4zM305.1 448.8h3.4v3.4h-3.4zM305.1 449.8h3.4v3.4h-3.4zM305.1 450.1h3.4v3.4h-3.4zM305.1 450.8h3.4v3.4h-3.4zM305.1 451h3.4v3.4h-3.4zM305.1 451.3h3.4v3.4h-3.4zM305.1 451.5h3.4v3.4h-3.4zM305.1 452.1h3.4v3.4h-3.4zM305.1 452.4h3.4v3.4h-3.4zM305.1 452.7h3.4v3.4h-3.4zM305.1 453.3h3.4v3.4h-3.4zM305.1 453.6h3.4v3.4h-3.4zM305.1 453.9h3.4v3.4h-3.4zM305.1 454.2h3.4v3.4h-3.4zM305.1 454.8h3.4v3.4h-3.4zM305.1 455.2h3.4v3.4h-3.4zM305.1 455.7h3.4v3.4h-3.4zM305.1 456h3.4v3.4h-3.4zM305.1 456.2h3.4v3.4h-3.4zM305.1 456.4h3.4v3.4h-3.4zM310.6 444.7h3.4v3.4h-3.4zM310.6 444.7h3.4v3.4h-3.4zM310.6 444.7h3.4v3.4h-3.4zM310.6 444.7h3.4v3.4h-3.4zM310.6 444.7h3.4v3.4h-3.4zM310.6 444.7h3.4v3.4h-3.4zM310.6 444.7h3.4v3.4h-3.4zM310.6 444.7h3.4v3.4h-3.4zM310.6 444.7h3.4v3.4h-3.4zM310.6 444.7h3.4v3.4h-3.4zM310.6 444.7h3.4v3.4h-3.4zM310.6 444.7h3.4v3.4h-3.4zM310.6 444.7h3.4v3.4h-3.4zM310.6 444.7h3.4v3.4h-3.4zM310.6 444.7h3.4v3.4h-3.4zM310.6 444.7h3.4v3.4h-3.4zM310.6 444.7h3.4v3.4h-3.4zM310.6 444.7h3.4v3.4h-3.4zM310.6 444.7h3.4v3.4h-3.4zM310.6 444.7h3.4v3.4h-3.4zM310.6 444.7h3.4v3.4h-3.4zM316 442.2h3.4v3.4h-3.4zM316 440.5h3.4v3.4h-3.4zM316 439.5h3.4v3.4h-3.4zM316 439.2h3.4v3.4h-3.4zM316 438.5h3.4v3.4h-3.4zM316 438.3h3.4v3.4h-3.4zM316 438h3.4v3.4h-3.4zM316 437.8h3.4v3.4h-3.4zM316 437.2h3.4v3.4h-3.4zM316 436.9h3.4v3.4h-3.4zM316 436.6h3.4v3.4h-3.4zM316 436h3.4v3.4h-3.4zM316 435.7h3.4v3.4h-3.4zM316 435.4h3.4v3.4h-3.4zM316 435.1h3.4v3.4h-3.4zM316 434.5h3.4v3.4h-3.4zM316 434.1h3.4v3.4h-3.4zM316 433.6h3.4v3.4h-3.4zM316 433.3h3.4v3.4h-3.4zM316 433.1h3.4v3.4h-3.4zM316 432.9h3.4v3.4h-3.4zM321.4 439.7h3.4v3.4h-3.4zM321.4 436.4h3.4v3.4h-3.4zM321.4 434.4h3.4v3.4h-3.4zM321.4 433.8h3.4v3.4h-3.4zM321.4 432.4h3.4v3.4h-3.4zM321.4 432h3.4v3.4h-3.4zM321.4 431.5h3.4v3.4h-3.4zM321.4 431h3.4v3.4h-3.4zM321.4 429.8h3.4v3.4h-3.4zM321.4 429.2h3.4v3.4h-3.4zM321.4 428.6h3.4v3.4h-3.4zM321.4 427.4h3.4v3.4h-3.4zM321.4 426.9h3.4v3.4h-3.4zM321.4 426.2h3.4v3.4h-3.4zM321.4 425.7h3.4v3.4h-3.4zM321.4 424.4h3.4v3.4h-3.4zM321.4 423.7h3.4v3.4h-3.4zM321.4 422.6h3.4v3.4h-3.4zM321.4 422.2h3.4v3.4h-3.4zM321.4 421.7h3.4v3.4h-3.4zM321.4 421.2h3.4v3.4h-3.4zM326.9 437.4h3.4v3.4h-3.4zM326.9 432.4h3.4v3.4h-3.4zM326.9 429.4h3.4v3.4h-3.4zM326.9 428.5h3.4v3.4h-3.4zM326.9 426.4h3.4v3.4h-3.4zM326.9 425.8h3.4v3.4h-3.4zM326.9 425.1h3.4v3.4h-3.4zM326.9 424.4h3.4v3.4h-3.4zM326.9 422.6h3.4v3.4h-3.4zM326.9 421.7h3.4v3.4h-3.4zM326.9 420.8h3.4v3.4h-3.4zM326.9 419.1h3.4v3.4h-3.4zM326.9 418.3h3.4v3.4h-3.4zM326.9 417.3h3.4v3.4h-3.4zM326.9 416.5h3.4v3.4h-3.4zM326.9 414.5h3.4v3.4h-3.4zM326.9 413.5h3.4v3.4h-3.4zM326.9 411.9h3.4v3.4h-3.4zM326.9 411.2h3.4v3.4h-3.4zM326.9 410.5h3.4v3.4h-3.4zM326.9 409.9h3.4v3.4h-3.4zM332.3 435.1h3.4v3.4h-3.4zM332.3 428.5h3.4v3.4h-3.4zM332.3 424.6h3.4v3.4h-3.4zM332.3 423.4h3.4v3.4h-3.4zM332.3 420.7h3.4v3.4h-3.4zM332.3 419.8h3.4v3.4h-3.4zM332.3 418.9h3.4v3.4h-3.4zM332.3 418h3.4v3.4h-3.4zM332.3 415.6h3.4v3.4h-3.4zM332.3 414.5h3.4v3.4h-3.4zM332.3 413.2h3.4v3.4h-3.4zM332.3 411h3.4v3.4h-3.4zM332.3 409.9h3.4v3.4h-3.4zM332.3 408.6h3.4v3.4h-3.4zM332.3 407.7h3.4v3.4h-3.4zM332.3 405h3.4v3.4h-3.4zM332.3 403.7h3.4v3.4h-3.4zM332.3 401.5h3.4v3.4h-3.4zM332.3 400.6h3.4v3.4h-3.4zM332.3 399.7h3.4v3.4h-3.4zM332.3 398.9h3.4v3.4h-3.4zM337.7 432.9h3.4v3.4h-3.4zM337.7 424.8h3.4v3.4h-3.4zM337.7 420h3.4v3.4h-3.4zM337.7 418.5h3.4v3.4h-3.4zM337.7 415.2h3.4v3.4h-3.4zM337.7 414.1h3.4v3.4h-3.4zM337.7 413h3.4v3.4h-3.4zM337.7 411.9h3.4v3.4h-3.4zM337.7 409h3.4v3.4h-3.4zM337.7 407.6h3.4v3.4h-3.4zM337.7 406h3.4v3.4h-3.4zM337.7 403.3h3.4v3.4h-3.4zM337.7 402h3.4v3.4h-3.4zM337.7 400.4h3.4v3.4h-3.4zM337.7 399.2h3.4v3.4h-3.4zM337.7 395.9h3.4v3.4h-3.4zM337.7 394.3h3.4v3.4h-3.4zM337.7 391.7h3.4v3.4h-3.4zM337.7 390.5h3.4v3.4h-3.4zM337.7 389.4h3.4v3.4h-3.4zM337.7 388.4h3.4v3.4h-3.4zM343.2 430.8h3.4v3.4h-3.4zM343.2 421.3h3.4v3.4h-3.4zM343.2 415.7h3.4v3.4h-3.4zM343.2 413.9h3.4v3.4h-3.4zM343.2 410h3.4v3.4h-3.4zM343.2 408.8h3.4v3.4h-3.4zM343.2 407.4h3.4v3.4h-3.4zM343.2 406.1h3.4v3.4h-3.4zM343.2 402.7h3.4v3.4h-3.4zM343.2 401.1h3.4v3.4h-3.4zM343.2 399.3h3.4v3.4h-3.4zM343.2 396h3.4v3.4h-3.4zM343.2 394.5h3.4v3.4h-3.4zM343.2 392.6h3.4v3.4h-3.4zM343.2 391.2h3.4v3.4h-3.4zM343.2 387.3h3.4v3.4h-3.4zM343.2 385.5h3.4v3.4h-3.4zM343.2 382.4h3.4v3.4h-3.4zM343.2 381h3.4v3.4h-3.4zM343.2 379.7h3.4v3.4h-3.4zM343.2 378.5h3.4v3.4h-3.4zM348.6 428.9h3.4v3.4h-3.4zM348.6 418.1h3.4v3.4h-3.4zM348.6 411.7h3.4v3.4h-3.4zM348.6 409.6h3.4v3.4h-3.4zM348.6 405.2h3.4v3.4h-3.4zM348.6 403.8h3.4v3.4h-3.4zM348.6 402.2h3.4v3.4h-3.4zM348.6 400.8h3.4v3.4h-3.4zM348.6 396.9h3.4v3.4h-3.4zM348.6 395h3.4v3.4h-3.4zM348.6 393h3.4v3.4h-3.4zM348.6 389.3h3.4v3.4h-3.4zM348.6 387.5h3.4v3.4h-3.4zM348.6 385.4h3.4v3.4h-3.4zM348.6 383.8h3.4v3.4h-3.4zM348.6 379.4h3.4v3.4h-3.4zM348.6 377.3h3.4v3.4h-3.4zM348.6 373.7h3.4v3.4h-3.4zM348.6 372.2h3.4v3.4h-3.4zM348.6 370.8h3.4v3.4h-3.4zM348.6 369.3h3.4v3.4h-3.4zM354 427.1h3.4v3.4h-3.4zM354 415.2h3.4v3.4h-3.4zM354 408.1h3.4v3.4h-3.4zM354 405.8h3.4v3.4h-3.4zM354 400.8h3.4v3.4h-3.4zM354 399.3h3.4v3.4h-3.4zM354 397.6h3.4v3.4h-3.4zM354 395.9h3.4v3.4h-3.4zM354 391.6h3.4v3.4h-3.4zM354 389.6h3.4v3.4h-3.4zM354 387.3h3.4v3.4h-3.4zM354 383.2h3.4v3.4h-3.4zM354 381.2h3.4v3.4h-3.4zM354 378.8h3.4v3.4h-3.4zM354 377.1h3.4v3.4h-3.4zM354 372.2h3.4v3.4h-3.4zM354 369.9h3.4v3.4h-3.4zM354 365.9h3.4v3.4h-3.4zM354 364.2h3.4v3.4h-3.4zM354 362.6h3.4v3.4h-3.4zM354 361h3.4v3.4h-3.4zM359.5 425.6h3.4v3.4h-3.4zM359.5 412.6h3.4v3.4h-3.4zM359.5 404.8h3.4v3.4h-3.4zM359.5 402.3h3.4v3.4h-3.4zM359.5 396.9h3.4v3.4h-3.4zM359.5 395.3h3.4v3.4h-3.4zM359.5 393.4h3.4v3.4h-3.4zM359.5 391.6h3.4v3.4h-3.4zM359.5 386.9h3.4v3.4h-3.4zM359.5 384.7h3.4v3.4h-3.4zM359.5 382.2h3.4v3.4h-3.4zM359.5 377.7h3.4v3.4h-3.4zM359.5 375.6h3.4v3.4h-3.4zM359.5 373h3.4v3.4h-3.4zM359.5 371.1h3.4v3.4h-3.4zM359.5 365.8h3.4v3.4h-3.4zM359.5 363.2h3.4v3.4h-3.4zM359.5 358.9h3.4v3.4h-3.4zM359.5 357.1h3.4v3.4h-3.4zM359.5 355.3h3.4v3.4h-3.4zM359.5 353.6h3.4v3.4h-3.4zM364.9 424.2h3.4v3.4h-3.4zM364.9 410.3h3.4v3.4h-3.4zM364.9 402h3.4v3.4h-3.4zM364.9 399.3h3.4v3.4h-3.4zM364.9 393.6h3.4v3.4h-3.4zM364.9 391.8h3.4v3.4h-3.4zM364.9 389.8h3.4v3.4h-3.4zM364.9 387.9h3.4v3.4h-3.4zM364.9 382.8h3.4v3.4h-3.4zM364.9 380.4h3.4v3.4h-3.4zM364.9 377.8h3.4v3.4h-3.4zM364.9 373h3.4v3.4h-3.4zM364.9 370.7h3.4v3.4h-3.4zM364.9 368h3.4v3.4h-3.4zM364.9 365.9h3.4v3.4h-3.4zM364.9 360.2h3.4v3.4h-3.4zM364.9 357.5h3.4v3.4h-3.4zM364.9 352.9h3.4v3.4h-3.4zM364.9 350.9h3.4v3.4h-3.4zM364.9 349h3.4v3.4h-3.4zM364.9 347.1h3.4v3.4h-3.4zM370.3 423.1h3.4v3.4h-3.4zM370.3 408.4h3.4v3.4h-3.4zM370.3 399.7h3.4v3.4h-3.4zM370.3 396.8h3.4v3.4h-3.4zM370.3 390.8h3.4v3.4h-3.4zM370.3 388.9h3.4v3.4h-3.4zM370.3 386.8h3.4v3.4h-3.4zM370.3 384.7h3.4v3.4h-3.4zM370.3 379.5h3.4v3.4h-3.4zM370.3 376.9h3.4v3.4h-3.4zM370.3 374.1h3.4v3.4h-3.4zM370.3 369.1h3.4v3.4h-3.4zM370.3 366.7h3.4v3.4h-3.4zM370.3 363.8h3.4v3.4h-3.4zM370.3 361.6h3.4v3.4h-3.4zM370.3 355.6h3.4v3.4h-3.4zM370.3 352.7h3.4v3.4h-3.4zM370.3 347.8h3.4v3.4h-3.4zM370.3 345.8h3.4v3.4h-3.4zM370.3 343.8h3.4v3.4h-3.4zM370.3 341.8h3.4v3.4h-3.4zM375.8 422.2h3.4v3.4h-3.4zM375.8 406.9h3.4v3.4h-3.4zM375.8 397.8h3.4v3.4h-3.4zM375.8 394.9h3.4v3.4h-3.4zM375.8 388.6h3.4v3.4h-3.4zM375.8 386.6h3.4v3.4h-3.4zM375.8 384.4h3.4v3.4h-3.4zM375.8 382.3h3.4v3.4h-3.4zM375.8 376.8h3.4v3.4h-3.4zM375.8 374.1h3.4v3.4h-3.4zM375.8 371.2h3.4v3.4h-3.4zM375.8 366h3.4v3.4h-3.4zM375.8 363.5h3.4v3.4h-3.4zM375.8 360.4h3.4v3.4h-3.4zM375.8 358.2h3.4v3.4h-3.4zM375.8 351.9h3.4v3.4h-3.4zM375.8 348.9h3.4v3.4h-3.4zM375.8 343.9h3.4v3.4h-3.4zM375.8 341.7h3.4v3.4h-3.4zM375.8 339.6h3.4v3.4h-3.4zM375.8 337.6h3.4v3.4h-3.4zM381.2 421.6h3.4v3.4h-3.4zM381.2 405.9h3.4v3.4h-3.4zM381.2 396.5h3.4v3.4h-3.4zM381.2 393.5h3.4v3.4h-3.4zM381.2 387h3.4v3.4h-3.4zM381.2 384.9h3.4v3.4h-3.4zM381.2 382.7h3.4v3.4h-3.4zM381.2 380.5h3.4v3.4h-3.4zM381.2 374.8h3.4v3.4h-3.4zM381.2 372.1h3.4v3.4h-3.4zM381.2 369.1h3.4v3.4h-3.4zM381.2 363.7h3.4v3.4h-3.4zM381.2 361.2h3.4v3.4h-3.4zM381.2 358h3.4v3.4h-3.4zM381.2 355.7h3.4v3.4h-3.4zM381.2 349.3h3.4v3.4h-3.4zM381.2 346.2h3.4v3.4h-3.4zM381.2 341h3.4v3.4h-3.4zM381.2 338.8h3.4v3.4h-3.4zM381.2 336.6h3.4v3.4h-3.4zM381.2 334.5h3.4v3.4h-3.4zM386.6 421.2h3.4v3.4h-3.4zM386.6 405.2h3.4v3.4h-3.4zM386.6 395.7h3.4v3.4h-3.4zM386.6 392.6h3.4v3.4h-3.4zM386.6 386h3.4v3.4h-3.4zM386.6 383.9h3.4v3.4h-3.4zM386.6 381.6h3.4v3.4h-3.4zM386.6 379.4h3.4v3.4h-3.4zM386.6 373.7h3.4v3.4h-3.4zM386.6 370.9h3.4v3.4h-3.4zM386.6 367.9h3.4v3.4h-3.4zM386.6 362.4h3.4v3.4h-3.4zM386.6 359.8h3.4v3.4h-3.4zM386.6 356.6h3.4v3.4h-3.4zM386.6 354.2h3.4v3.4h-3.4zM386.6 347.7h3.4v3.4h-3.4zM386.6 344.6h3.4v3.4h-3.4zM386.6 339.2h3.4v3.4h-3.4zM386.6 337h3.4v3.4h-3.4zM386.6 334.8h3.4v3.4h-3.4zM386.6 332.7h3.4v3.4h-3.4zM98.6 424.8h3.4v3.4h-3.4zM261.7 464.5h3.4v3.4h-3.4zM104.1 428.6h3.4v3.4h-3.4zM267.1 460.7h3.4v3.4h-3.4zM109.5 432.2h3.4v3.4h-3.4zM272.5 457.1h3.4v3.4h-3.4zM115 435.8h3.4v3.4h-3.4zM277.9 453.5h3.4v3.4h-3.4zM120.4 439.3h3.4v3.4h-3.4zM283.4 450h3.4v3.4h-3.4zM125.8 445.9h3.4v3.4h-3.4zM288.8 443.4h3.4v3.4h-3.4zM131.2 452.4h3.4v3.4h-3.4zM294.3 436.9h3.4v3.4h-3.4zM136.7 459.2h3.4v3.4h-3.4zM299.7 430.1h3.4v3.4h-3.4zM142.1 466.3h3.4v3.4h-3.4zM305.1 423h3.4v3.4h-3.4zM147.6 473.5h3.4v3.4h-3.4zM310.6 415.8h3.4v3.4h-3.4zM153 480.7h3.4v3.4h-3.4zM316 408.6h3.4v3.4h-3.4zM158.4 487.5h3.4v3.4h-3.4zM321.4 401.8h3.4v3.4h-3.4zM163.9 494.1h3.4v3.4h-3.4zM326.9 395.2h3.4v3.4h-3.4zM169.3 500.8h3.4v3.4h-3.4zM332.3 388.5h3.4v3.4h-3.4zM174.7 507.7h3.4v3.4h-3.4zM337.7 381.6h3.4v3.4h-3.4zM180.2 514.9h3.4v3.4h-3.4zM343.2 374.4h3.4v3.4h-3.4zM185.6 522.2h3.4v3.4h-3.4zM348.6 367.1h3.4v3.4h-3.4zM191 529.4h3.4v3.4h-3.4zM354 359.9h3.4v3.4h-3.4zM196.5 536.6h3.4v3.4h-3.4zM359.5 352.7h3.4v3.4h-3.4zM201.9 543.1h3.4v3.4h-3.4zM364.9 346.2h3.4v3.4h-3.4zM207.3 549.6h3.4v3.4h-3.4zM370.3 339.7h3.4v3.4h-3.4z" fill="none" stroke="#cc0000" stroke-width="1.05"/>
</g>
<rect x="63.0" y="325.0" width="330.4" height="242.70000000000005" fill="none" stroke="#000" stroke-width="1.55"/>
<path d="M63 567.7h6.1 M393.4 567.7h-6.1M63 554.2h3.1 M393.4 554.2h-3.1M63 540.7h3.1 M393.4 540.7h-3.1M63 527.3h6.1 M393.4 527.3h-6.1M63 513.8h3.1 M393.4 513.8h-3.1M63 500.3h3.1 M393.4 500.3h-3.1M63 486.8h6.1 M393.4 486.8h-6.1M63 473.3h3.1 M393.4 473.3h-3.1M63 459.8h3.1 M393.4 459.8h-3.1M63 446.4h6.1 M393.4 446.4h-6.1M63 432.9h3.1 M393.4 432.9h-3.1M63 419.4h3.1 M393.4 419.4h-3.1M63 405.9h6.1 M393.4 405.9h-6.1M63 392.4h3.1 M393.4 392.4h-3.1M63 378.9h3.1 M393.4 378.9h-3.1M63 365.4h6.1 M393.4 365.4h-6.1M63 352h3.1 M393.4 352h-3.1M63 338.5h3.1 M393.4 338.5h-3.1M63 325h6.1 M393.4 325h-6.1M67.7 325v6.1 M67.7 567.7v-6.1M108.4 325v6.1 M108.4 567.7v-6.1M149.2 325v6.1 M149.2 567.7v-6.1M189.9 325v6.1 M189.9 567.7v-6.1M230.7 325v6.1 M230.7 567.7v-6.1M271.4 325v6.1 M271.4 567.7v-6.1M312.1 325v6.1 M312.1 567.7v-6.1M352.9 325v6.1 M352.9 567.7v-6.1M393.6 325v6.1 M393.6 567.7v-6.1" stroke="#000" stroke-width="1.1" fill="none"/>
<text x="56" y="329.8" font-size="14.6" text-anchor="end" fill="#000" >18</text>
<text x="56" y="370.2" font-size="14.6" text-anchor="end" fill="#000" >12</text>
<text x="56" y="410.7" font-size="14.6" text-anchor="end" fill="#000" >6</text>
<text x="56" y="451.2" font-size="14.6" text-anchor="end" fill="#000" >0</text>
<text x="56" y="491.6" font-size="14.6" text-anchor="end" fill="#000" >-6</text>
<text x="56" y="532.1" font-size="14.6" text-anchor="end" fill="#000" >-12</text>
<text x="56" y="572.5" font-size="14.6" text-anchor="end" fill="#000" >-18</text>
<text x="67.7" y="588" font-size="14.6" text-anchor="middle" fill="#000" >-3π/4</text>
<text x="108.4" y="588" font-size="14.6" text-anchor="middle" fill="#000" >-π/2</text>
<text x="149.2" y="588" font-size="14.6" text-anchor="middle" fill="#000" >-π/4</text>
<text x="189.9" y="588" font-size="14.6" text-anchor="middle" fill="#000" >0</text>
<text x="230.7" y="588" font-size="14.6" text-anchor="middle" fill="#000" >π/4</text>
<text x="271.4" y="588" font-size="14.6" text-anchor="middle" fill="#000" >π/2</text>
<text x="312.1" y="588" font-size="14.6" text-anchor="middle" fill="#000" >3π/4</text>
<text x="352.9" y="588" font-size="14.6" text-anchor="middle" fill="#000" >π</text>
<text x="393.6" y="588" font-size="14.6" text-anchor="middle" fill="#000" >5π/4</text>
<text x="228.5" y="608" font-size="14.6" text-anchor="middle" fill="#000" >φ</text>
<text transform="translate(27 448) rotate(-90)" font-size="15" text-anchor="middle" fill="#000"><tspan font-style="italic">E</tspan>−<tspan font-style="italic">E</tspan><tspan font-size="10.5" dy="4.5">(27,0)</tspan></text>
<text x="225.5" y="343" font-size="14.6" text-anchor="end" fill="#000" >(27,0)</text>
<text x="225.5" y="357.5" font-size="14.6" text-anchor="end" fill="#000" >(25,1)</text>
<text x="225.5" y="372" font-size="14.6" text-anchor="end" fill="#000" >(23,2)</text>
<text x="225.5" y="386.5" font-size="14.6" text-anchor="end" fill="#000" >(24,0)</text>
<path d="M232.5 337.8H268" stroke="#111" stroke-width="1" stroke-dasharray="5.3 2.4"/>
<path d="M232.5 352.2H268" stroke="#1f971f" stroke-width="1.1"/>
<path d="M247.65 367.2l2.35 -2.35l2.35 2.35l-2.35 2.35z" fill="none" stroke="#0808e0" stroke-width="0.9"/>
<path d="M248.3 379.90000000000003h3.4v3.4h-3.4z" fill="none" stroke="#cc0000" stroke-width="1"/>
<text x="76" y="546" font-size="14.5" text-anchor="start" fill="#000" ><tspan font-size="17">(b) </tspan><tspan font-style="italic">N</tspan>=27</text>
<text x="311" y="512.6" font-size="14.9" text-anchor="start" fill="#000" ><tspan font-style="italic">J</tspan>= cos(φ)</text>
<text x="311" y="527.2" font-size="14.9" text-anchor="start" fill="#000" ><tspan font-style="italic">K</tspan><tspan font-style="italic" font-size="11.5" dy="4">R</tspan><tspan dy="-4">= sin(φ)</tspan></text>
<text x="311" y="541.7" font-size="14.9" text-anchor="start" fill="#000" ><tspan font-style="italic">K</tspan><tspan font-style="italic" font-size="11.5" dy="4">I</tspan><tspan dy="-4">= 0</tspan></text>
</svg>
</body></html>
